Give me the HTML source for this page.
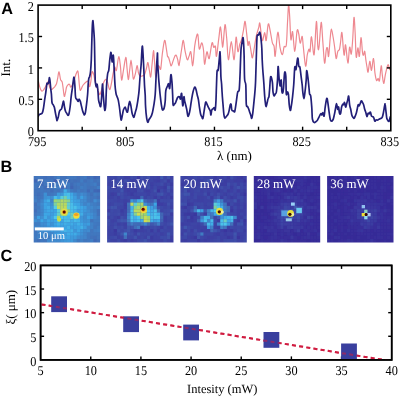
<!DOCTYPE html>
<html><head><meta charset="utf-8"><style>
html,body{margin:0;padding:0;background:#fff;}
svg{display:block;filter:blur(0.3px);}
text{text-rendering:geometricPrecision;}
</style></head><body>
<svg width="400" height="397" viewBox="0 0 400 397">
<clipPath id="clipA"><rect x="38.1" y="5.1" width="352.7" height="125.6"/></clipPath>
<g clip-path="url(#clipA)">
<path d="M38.4,81.5C38.6,82.3 39.1,84.8 39.5,86.1C39.9,87.4 40.3,88.7 40.7,89.5C41.1,90.3 41.5,91.1 42.0,91.2C42.5,91.3 43.0,90.7 43.5,90.0C44.0,89.3 44.6,88.2 45.2,87.2C45.8,86.2 46.4,84.7 46.9,83.8C47.4,82.9 47.7,81.4 48.2,82.0C48.7,82.6 49.2,86.0 49.7,87.2C50.2,88.5 50.8,89.3 51.4,89.5C52.0,89.7 52.5,88.8 53.1,88.3C53.7,87.8 54.2,87.3 54.8,86.6C55.4,85.8 56.0,85.2 56.5,83.8C57.0,82.4 57.3,80.1 57.7,78.1C58.1,76.1 58.5,71.7 59.0,71.9C59.5,72.1 60.0,77.6 60.5,79.3C61.0,81.0 61.7,80.4 62.2,82.1C62.7,83.8 62.9,87.1 63.3,89.5C63.6,91.9 63.9,95.7 64.3,96.3C64.7,96.9 65.0,94.4 65.4,92.9C65.8,91.4 66.1,88.5 66.5,87.2C66.9,85.9 67.4,85.4 67.9,84.9C68.4,84.4 69.1,84.0 69.6,84.4C70.1,84.8 70.2,87.1 70.7,87.2C71.2,87.3 71.8,86.0 72.4,84.9C73.0,83.8 73.5,82.1 74.1,80.4C74.7,78.7 75.2,76.3 75.8,74.7C76.4,73.1 77.1,70.9 77.5,70.8C77.9,70.7 78.1,72.0 78.4,74.3C78.7,76.6 79.0,81.9 79.3,84.5C79.6,87.1 79.8,89.3 80.1,90.1C80.4,90.8 80.8,89.7 81.2,89.0C81.6,88.3 82.0,87.0 82.4,86.2C82.8,85.5 83.1,85.0 83.5,84.5C83.9,84.0 84.2,83.7 84.6,83.3C85.0,82.9 85.3,82.6 85.8,82.2C86.3,81.8 87.0,81.1 87.5,81.1C88.0,81.1 88.2,81.1 88.6,82.0C89.0,82.9 89.3,86.9 89.7,86.7C90.1,86.5 90.5,83.5 90.9,81.1C91.3,78.6 91.5,73.1 92.0,72.0C92.5,70.9 93.2,73.0 93.7,74.3C94.2,75.6 94.4,78.3 94.8,80.0C95.2,81.7 95.5,83.0 96.0,84.5C96.5,86.0 97.2,87.7 97.7,89.0C98.2,90.3 98.4,91.5 98.8,92.4C99.2,93.4 99.4,95.1 99.9,94.7C100.4,94.3 101.0,92.0 101.6,90.0C102.2,88.0 102.7,84.8 103.4,83.0C104.1,81.2 105.0,79.6 105.7,79.4C106.4,79.2 106.8,80.0 107.4,81.7C108.1,83.4 108.9,89.2 109.6,89.6C110.2,90.0 110.7,86.6 111.3,84.0C111.9,81.4 112.4,76.8 113.0,74.0C113.6,71.2 114.1,67.6 114.7,67.0C115.3,66.4 115.7,72.1 116.4,70.4C117.1,68.7 118.0,57.5 118.7,56.8C119.4,56.1 119.9,62.1 120.4,66.0C120.9,69.9 121.1,79.3 121.6,80.0C122.1,80.7 122.8,73.8 123.5,70.0C124.2,66.2 125.2,57.7 125.8,57.4C126.4,57.1 126.6,64.3 127.0,68.0C127.4,71.7 127.9,79.2 128.3,79.5C128.8,79.8 129.2,73.2 129.7,70.0C130.1,66.8 130.6,60.0 131.0,60.0C131.4,60.0 131.9,66.8 132.3,70.0C132.7,73.2 132.9,78.4 133.4,79.0C133.9,79.6 134.8,75.8 135.4,73.6C136.0,71.4 136.6,65.7 137.1,65.6C137.6,65.5 138.0,71.3 138.5,73.0C139.0,74.7 139.4,75.5 140.0,76.0C140.6,76.5 141.2,76.2 142.0,76.0C142.8,75.8 143.8,76.0 144.5,74.7C145.2,73.4 145.9,70.0 146.5,68.0C147.1,66.0 147.4,62.2 147.9,62.5C148.4,62.8 148.8,67.6 149.3,70.0C149.8,72.4 150.2,77.8 150.7,77.0C151.1,76.2 151.5,69.4 152.0,65.0C152.5,60.6 153.1,50.8 153.5,50.6C153.9,50.4 154.3,59.6 154.7,64.0C155.1,68.4 155.3,76.5 155.8,77.0C156.3,77.5 157.1,68.8 157.6,67.0C158.1,65.2 158.5,65.7 159.0,66.0C159.5,66.3 160.1,71.0 160.7,69.0C161.2,67.0 161.7,58.8 162.3,54.0C163.0,49.2 163.9,41.4 164.6,40.4C165.3,39.4 165.8,45.6 166.3,48.3C166.8,50.9 167.1,54.8 167.5,56.3C167.9,57.8 168.1,56.2 168.6,57.4C169.1,58.6 169.9,62.2 170.3,63.6C170.7,65.0 170.7,65.9 171.0,66.0C171.3,66.1 171.4,65.6 172.0,64.2C172.6,62.8 173.6,58.9 174.3,57.4C175.0,55.9 175.4,54.7 176.0,55.1C176.6,55.5 177.2,57.9 177.7,59.7C178.2,61.5 178.4,65.7 178.8,65.7C179.2,65.8 179.5,62.7 180.0,60.0C180.5,57.3 181.0,52.8 181.6,49.5C182.2,46.2 182.7,40.2 183.3,40.4C183.9,40.6 184.3,47.4 185.0,50.6C185.7,53.8 186.6,58.8 187.3,59.7C188.0,60.7 188.4,57.6 189.0,56.3C189.6,55.0 190.2,51.1 190.7,51.7C191.2,52.3 191.5,57.3 191.8,59.7C192.1,62.1 192.3,66.0 192.6,66.0C192.9,66.0 193.2,63.3 193.5,60.0C193.8,56.7 194.2,49.9 194.7,46.1C195.2,42.3 195.9,38.9 196.4,37.0C196.9,35.1 197.4,32.8 197.9,34.8C198.4,36.8 198.7,47.6 199.3,49.0C200.0,50.4 201.1,42.7 201.8,42.9C202.5,43.1 203.0,46.4 203.5,50.0C204.0,53.6 204.0,64.0 204.6,64.3C205.2,64.6 206.1,52.8 206.9,51.8C207.7,50.8 208.3,60.1 209.2,58.6C210.0,57.1 211.2,44.8 212.0,42.9C212.8,41.0 213.1,46.8 213.7,47.4C214.3,48.0 214.9,44.8 215.4,46.3C215.9,47.8 215.9,57.6 216.5,56.3C217.1,55.0 218.1,43.2 218.8,38.3C219.5,33.4 219.9,26.1 220.5,27.0C221.1,27.9 221.8,40.9 222.2,44.0C222.6,47.1 222.5,48.7 223.0,45.5C223.5,42.3 224.4,25.9 225.0,24.7C225.6,23.5 226.1,32.5 226.7,38.3C227.3,44.1 227.6,59.1 228.4,59.7C229.2,60.3 230.4,41.7 231.3,41.7C232.2,41.7 233.3,60.5 234.1,59.7C234.9,59.0 235.5,38.6 236.1,37.2C236.7,35.9 237.3,50.5 237.9,51.6C238.5,52.7 239.2,45.9 239.8,44.0C240.4,42.1 240.9,42.3 241.5,40.0C242.1,37.7 242.9,33.1 243.5,30.0C244.1,26.9 244.6,20.7 245.1,21.3C245.6,21.9 246.2,29.9 246.7,33.9C247.2,37.9 247.6,44.0 248.0,45.3C248.4,46.6 248.7,40.5 249.2,41.5C249.7,42.5 250.6,48.9 251.1,51.6C251.6,54.3 251.9,58.5 252.4,57.9C252.9,57.3 253.7,51.4 254.3,47.8C254.9,44.2 255.5,39.8 256.2,36.4C256.9,33.0 258.1,29.7 258.7,27.6C259.3,25.5 259.3,21.4 259.9,23.6C260.5,25.8 261.4,39.1 262.2,40.6C263.0,42.1 264.0,32.7 264.7,32.7C265.4,32.7 265.6,42.0 266.2,40.6C266.8,39.2 267.5,25.9 268.2,24.2C268.9,22.5 269.4,27.3 270.1,30.4C270.8,33.5 271.7,40.2 272.4,42.9C273.1,45.5 273.6,44.1 274.1,46.3C274.6,48.5 274.6,58.3 275.2,56.0C275.8,53.7 277.0,33.6 277.8,32.3C278.6,30.9 279.3,44.2 280.1,47.9C280.9,51.6 281.7,54.9 282.4,54.7C283.1,54.5 283.5,48.4 284.1,46.8C284.8,45.2 285.7,49.0 286.3,45.0C286.9,41.0 287.1,29.3 287.5,22.7C287.9,16.1 288.2,6.0 288.6,5.1C289.0,4.1 289.3,11.2 289.7,17.0C290.1,22.8 290.4,37.2 290.9,39.7C291.4,42.2 292.0,29.8 292.6,31.7C293.2,33.6 294.1,51.5 294.8,51.3C295.6,51.1 296.4,33.5 297.1,30.6C297.8,27.7 298.3,31.9 298.8,34.0C299.3,36.1 299.6,42.7 300.2,43.1C300.8,43.5 301.7,35.7 302.2,36.3C302.7,36.9 302.7,41.8 303.3,46.8C303.9,51.8 304.9,64.8 305.6,66.1C306.3,67.4 306.7,57.5 307.3,54.7C307.9,51.9 308.5,49.7 309.0,49.1C309.5,48.5 309.7,53.3 310.1,51.3C310.5,49.2 310.8,36.2 311.5,36.8C312.2,37.4 313.3,57.2 314.1,54.7C314.9,52.2 315.8,22.9 316.4,21.5C317.0,20.1 317.4,41.8 317.8,46.1C318.2,50.4 318.4,51.2 319.0,47.2C319.6,43.2 320.6,23.1 321.2,22.3C321.8,21.6 322.3,35.9 322.9,42.7C323.5,49.5 324.0,62.0 324.6,63.1C325.2,64.2 325.8,52.0 326.3,49.5C326.8,47.0 327.1,47.2 327.5,48.3C327.9,49.4 328.1,58.2 328.6,56.3C329.1,54.4 329.8,41.5 330.3,37.0C330.8,32.5 330.9,29.1 331.4,29.1C331.9,29.1 332.5,33.8 333.1,37.0C333.7,40.2 334.3,44.7 334.8,48.3C335.3,51.9 335.7,57.9 336.2,58.5C336.7,59.1 337.2,53.2 337.7,51.7C338.2,50.2 338.9,51.0 339.4,49.5C339.9,48.0 340.1,45.5 340.5,42.7C340.9,39.9 341.4,31.6 341.9,32.5C342.4,33.4 342.9,44.5 343.3,48.3C343.7,52.1 343.9,55.7 344.3,55.1C344.7,54.5 345.0,43.6 345.6,44.9C346.2,46.2 347.2,62.7 347.9,63.1C348.6,63.5 349.0,48.7 349.6,47.2C350.2,45.7 350.8,55.6 351.3,54.0C351.8,52.4 352.4,43.8 352.8,37.7C353.2,31.6 353.6,18.2 354.0,17.3C354.4,16.4 354.7,25.4 355.1,32.0C355.5,38.6 355.7,54.4 356.2,57.0C356.7,59.6 357.4,48.0 357.9,47.9C358.4,47.8 358.9,58.0 359.4,56.3C359.9,54.6 360.5,38.4 361.0,37.7C361.5,37.1 362.1,49.5 362.5,52.4C362.9,55.3 363.2,55.4 363.6,55.2C364.0,55.0 364.3,50.5 364.7,51.3C365.1,52.1 365.5,57.6 365.9,60.2C366.3,62.8 366.6,65.0 367.0,67.0C367.4,69.0 367.6,73.0 368.1,72.1C368.6,71.1 369.2,61.6 369.8,61.3C370.4,61.0 370.9,70.9 371.5,70.4C372.1,69.9 372.9,58.1 373.5,58.5C374.1,58.9 374.4,69.0 374.9,72.7C375.4,76.4 376.1,79.7 376.6,80.6C377.1,81.5 377.6,78.3 378.1,78.3C378.6,78.3 379.0,82.7 379.5,80.6C380.0,78.5 380.7,66.9 381.2,65.9C381.7,65.0 381.9,72.0 382.3,74.9C382.7,77.8 383.2,83.2 383.7,83.4C384.2,83.6 384.7,78.3 385.1,76.1C385.5,73.9 385.8,72.3 386.3,70.4C386.8,68.5 387.4,64.9 388.0,64.7C388.6,64.5 389.2,68.6 389.7,69.3C390.2,70.0 390.8,69.0 391.0,69.0" fill="none" stroke="#ee8890" stroke-width="1.2" stroke-linejoin="round" stroke-linecap="round"/>
<path d="M38.4,116.1C38.6,115.8 39.0,114.8 39.5,114.4C40.0,114.0 40.7,114.1 41.2,113.8C41.7,113.5 42.0,113.7 42.4,112.7C42.8,111.8 43.1,110.2 43.5,108.1C43.9,106.0 44.2,102.8 44.6,100.2C45.0,97.6 45.4,95.0 45.8,92.3C46.2,89.6 46.6,85.2 46.9,83.8C47.2,82.4 47.4,84.0 47.7,83.8C48.0,83.6 48.3,83.7 48.6,82.7C48.9,81.7 49.2,77.4 49.5,77.6C49.8,77.8 50.1,81.7 50.3,83.8C50.5,85.9 50.7,88.3 50.9,90.0C51.1,91.7 51.2,91.9 51.4,94.0C51.6,96.1 51.7,100.7 52.0,102.5C52.3,104.3 52.7,104.0 53.1,104.7C53.5,105.5 53.9,105.7 54.3,107.0C54.7,108.3 55.0,110.8 55.4,112.7C55.8,114.6 56.2,117.0 56.5,118.3C56.8,119.6 56.8,120.8 57.1,120.6C57.4,120.4 57.8,118.7 58.2,117.2C58.6,115.7 59.0,112.7 59.4,111.5C59.8,110.3 60.1,110.3 60.5,109.8C60.9,109.3 61.2,109.7 61.6,108.7C62.0,107.7 62.5,104.8 62.8,103.6C63.1,102.4 63.3,100.7 63.6,101.3C63.9,101.9 64.2,105.3 64.5,107.0C64.8,108.7 65.2,110.4 65.6,111.5C66.0,112.6 66.6,113.1 67.0,113.8C67.4,114.5 67.8,115.5 68.1,115.5C68.4,115.5 68.7,115.2 69.0,113.8C69.3,112.4 69.7,110.0 70.1,107.0C70.5,104.0 70.9,98.9 71.3,95.7C71.7,92.5 72.0,90.7 72.4,88.0C72.8,85.3 73.2,81.0 73.5,79.3C73.8,77.6 73.9,76.5 74.1,77.6C74.3,78.7 74.7,82.8 74.9,86.1C75.2,89.4 75.2,95.2 75.6,97.4C75.9,99.6 76.6,98.8 77.0,99.5C77.4,100.2 77.9,101.6 78.2,101.5C78.5,101.4 78.8,99.1 79.1,99.1C79.4,99.1 79.9,100.2 80.3,101.3C80.7,102.4 81.0,104.4 81.4,105.9C81.8,107.4 82.1,109.1 82.5,110.4C82.9,111.7 83.4,113.0 83.7,113.8C84.0,114.5 84.2,115.1 84.5,114.9C84.8,114.7 85.1,114.4 85.4,112.7C85.7,111.0 86.1,107.7 86.5,104.7C86.9,101.7 87.3,97.9 87.6,94.5C87.9,91.1 88.0,87.0 88.2,84.3C88.4,81.6 88.6,79.8 88.8,78.5C89.0,77.2 89.3,77.9 89.6,76.8C89.9,75.7 90.2,74.6 90.5,71.8C90.8,69.0 91.0,65.9 91.3,59.8C91.5,53.7 91.8,41.5 92.0,35.0C92.2,28.5 92.5,22.0 92.8,20.8C93.1,19.6 93.3,25.1 93.6,28.0C93.8,30.9 94.1,34.5 94.3,38.2C94.5,41.9 94.5,43.7 94.6,50.0C94.7,56.3 95.0,70.6 95.1,76.0C95.2,81.4 95.2,80.8 95.4,82.6C95.6,84.4 96.0,86.5 96.3,86.8C96.6,87.1 96.8,83.6 97.1,84.3C97.4,85.0 97.7,88.2 97.9,90.9C98.2,93.6 98.3,98.1 98.6,100.2C98.9,102.3 99.2,102.6 99.5,103.6C99.8,104.6 100.3,107.8 100.7,106.4C101.1,105.0 101.5,98.7 101.8,95.0C102.1,91.3 102.3,84.3 102.5,84.0C102.7,83.7 102.9,89.6 103.2,93.4C103.5,97.2 104.0,104.2 104.3,107.0C104.6,109.8 104.8,110.8 105.0,110.4C105.2,110.0 105.5,108.6 105.8,104.7C106.0,100.8 106.2,92.1 106.5,87.0C106.8,81.9 107.2,76.8 107.6,74.0C108.0,71.2 108.4,72.6 108.8,70.0C109.2,67.4 109.5,61.5 109.9,58.6C110.3,55.7 110.6,51.8 111.0,52.4C111.4,53.0 111.8,61.5 112.2,62.0C112.6,62.5 113.0,54.2 113.3,55.2C113.6,56.2 113.8,62.7 114.1,67.7C114.4,72.7 114.7,80.7 115.0,85.0C115.3,89.3 115.7,91.4 116.0,93.4C116.3,95.4 116.7,95.7 117.1,96.8C117.5,97.9 117.8,98.2 118.2,99.9C118.6,101.6 119.0,104.3 119.4,107.0C119.8,109.7 120.2,113.9 120.5,116.1C120.8,118.3 121.0,120.2 121.3,120.0C121.6,119.8 122.0,116.7 122.4,115.0C122.8,113.3 123.0,111.1 123.5,109.8C124.0,108.5 124.7,106.9 125.2,107.0C125.7,107.1 125.9,109.6 126.3,110.4C126.7,111.2 127.1,112.8 127.5,112.1C127.9,111.3 128.2,107.7 128.6,105.9C129.0,104.1 129.3,101.3 129.7,101.3C130.1,101.3 130.5,104.0 130.9,105.9C131.3,107.8 131.6,111.0 132.0,112.7C132.4,114.4 132.8,115.3 133.1,116.1C133.4,116.8 133.7,117.8 134.0,117.2C134.3,116.6 134.8,114.2 135.2,112.7C135.6,111.2 136.1,110.0 136.5,108.1C136.9,106.2 137.3,103.8 137.7,101.3C138.1,98.8 138.5,95.9 138.8,93.4C139.1,90.9 139.2,89.2 139.4,86.1C139.6,83.0 139.9,78.5 140.2,75.0C140.5,71.5 140.8,68.8 141.1,65.0C141.4,61.2 141.6,55.1 141.8,52.0C142.0,48.9 142.2,45.6 142.4,46.1C142.6,46.6 142.8,50.8 143.1,55.0C143.3,59.2 143.7,66.3 143.9,71.3C144.1,76.3 144.3,81.0 144.5,85.0C144.7,89.0 145.0,91.3 145.2,95.0C145.4,98.7 145.3,103.1 145.6,107.0C145.8,110.9 146.3,115.8 146.7,118.3C147.1,120.8 147.5,122.1 147.9,122.3C148.3,122.5 148.5,120.3 149.0,119.5C149.5,118.7 150.1,118.3 150.7,117.2C151.3,116.1 151.8,115.0 152.4,112.7C153.0,110.4 153.6,106.6 154.1,103.6C154.6,100.6 154.9,98.0 155.2,94.5C155.5,91.0 155.6,87.1 155.8,82.7C156.0,78.3 156.3,72.3 156.5,68.0C156.7,63.7 157.0,59.4 157.2,57.0C157.4,54.6 157.4,52.1 157.5,53.4C157.6,54.7 157.6,61.2 157.8,65.0C158.0,68.8 158.3,73.0 158.5,76.0C158.7,79.0 158.7,79.6 159.0,82.7C159.3,85.8 159.7,91.0 160.1,94.5C160.5,98.0 160.8,101.0 161.2,103.6C161.6,106.1 161.9,109.0 162.4,109.8C162.9,110.5 163.6,109.5 164.1,108.1C164.6,106.7 164.9,104.2 165.2,101.3C165.5,98.4 165.4,93.1 165.8,90.6C166.2,88.1 167.0,87.2 167.5,86.1C168.0,85.0 168.2,83.4 168.6,83.8C169.0,84.2 169.3,89.8 169.7,88.3C170.1,86.8 170.5,75.6 170.9,74.7C171.3,73.8 171.7,79.5 172.0,82.7C172.3,85.9 172.4,90.3 172.6,94.0C172.8,97.7 172.8,103.0 173.1,104.7C173.4,106.4 173.9,104.5 174.3,104.2C174.7,103.9 175.0,103.7 175.4,103.0C175.8,102.3 176.1,101.1 176.5,100.2C176.9,99.3 177.2,98.0 177.7,97.4C178.2,96.8 178.9,96.5 179.4,96.8C179.9,97.1 180.1,99.7 180.5,99.1C180.9,98.5 181.2,92.3 181.6,93.4C182.0,94.5 182.4,105.3 182.8,105.9C183.2,106.5 183.6,97.6 183.9,96.8C184.2,96.0 184.4,100.0 184.7,101.3C185.0,102.6 185.3,103.4 185.6,104.7C185.9,106.0 186.3,107.4 186.7,109.3C187.1,111.2 187.5,115.2 187.9,116.1C188.3,116.9 188.6,115.5 189.0,114.4C189.4,113.3 189.7,111.5 190.1,109.3C190.5,107.1 190.8,104.2 191.3,101.3C191.8,98.4 192.4,94.3 193.0,92.0C193.6,89.7 194.2,87.6 194.7,87.2C195.2,86.8 195.6,88.2 196.0,89.5C196.4,90.8 196.9,93.5 197.3,95.2C197.7,96.9 198.0,97.6 198.4,99.7C198.8,101.8 199.1,105.2 199.5,107.7C199.9,110.2 200.3,113.0 200.7,114.5C201.1,116.0 201.4,116.0 201.8,116.7C202.2,117.4 202.5,119.3 202.9,118.4C203.3,117.5 203.7,113.4 204.1,111.1C204.5,108.8 204.9,105.8 205.2,104.3C205.5,102.8 205.6,101.8 206.0,102.0C206.4,102.2 207.0,104.3 207.5,105.4C208.0,106.5 208.7,107.8 209.2,108.8C209.7,109.8 210.0,110.1 210.3,111.1C210.6,112.1 210.7,115.2 210.9,115.0C211.2,114.8 211.4,111.0 211.8,110.0C212.2,109.0 212.7,109.2 213.1,108.8C213.5,108.4 214.0,107.5 214.3,107.7C214.7,107.9 214.9,111.3 215.2,110.0C215.5,108.7 215.8,104.2 216.0,100.0C216.2,95.8 216.3,89.8 216.5,85.0C216.7,80.2 216.8,73.6 217.1,71.1C217.4,68.6 217.8,71.8 218.2,70.0C218.5,68.2 218.9,63.0 219.2,60.0C219.5,57.0 219.8,51.5 220.0,51.8C220.2,52.1 220.3,57.9 220.5,62.0C220.7,66.2 220.7,73.0 220.9,76.7C221.1,80.4 221.4,81.1 221.6,84.0C221.8,86.9 221.9,90.4 222.2,94.0C222.4,97.6 222.8,102.0 223.1,105.4C223.4,108.8 223.6,112.4 223.9,114.5C224.2,116.6 224.3,117.5 224.7,117.9C225.1,118.3 225.7,117.3 226.2,116.7C226.7,116.1 227.4,115.4 227.9,114.5C228.4,113.6 228.6,112.6 229.0,111.1C229.4,109.6 229.8,106.5 230.1,105.4C230.4,104.3 230.8,103.5 231.1,104.3C231.4,105.1 231.4,108.9 231.8,110.0C232.2,111.1 233.0,110.8 233.5,111.1C234.0,111.4 234.3,112.5 234.7,111.6C235.1,110.6 235.4,108.0 235.8,105.4C236.2,102.9 236.7,98.6 237.0,96.3C237.3,94.0 237.5,92.7 237.8,91.8C238.1,90.9 238.7,91.7 239.0,90.7C239.3,89.7 239.3,88.9 239.5,86.0C239.7,83.1 239.9,78.2 240.1,73.3C240.3,68.3 240.5,60.6 240.7,56.3C240.9,52.0 240.9,49.8 241.2,47.3C241.5,44.8 242.0,42.5 242.3,41.0C242.6,39.5 242.9,36.0 243.2,38.3C243.5,40.6 243.9,48.2 244.1,55.0C244.3,61.8 244.3,74.0 244.6,79.0C244.9,84.0 245.5,80.8 245.8,85.0C246.1,89.2 246.0,100.7 246.3,104.3C246.6,107.9 247.1,105.8 247.5,106.5C247.9,107.2 248.2,107.8 248.6,108.8C249.0,109.8 249.3,111.1 249.7,112.2C250.1,113.3 250.6,114.6 250.9,115.6C251.2,116.6 251.4,118.6 251.7,118.4C252.0,118.2 252.3,116.8 252.6,114.5C252.9,112.2 253.4,107.3 253.7,104.3C254.0,101.3 254.2,99.5 254.5,96.3C254.8,93.1 255.2,89.8 255.4,85.0C255.7,80.2 255.8,73.4 256.0,67.7C256.2,62.0 256.3,56.0 256.5,50.7C256.7,45.4 256.8,38.7 257.1,36.1C257.4,33.5 258.0,35.6 258.5,35.0C259.0,34.4 259.5,31.0 260.0,32.7C260.5,34.4 261.2,40.5 261.6,45.0C262.0,49.5 262.0,55.5 262.2,59.7C262.4,63.9 262.5,66.0 262.8,70.0C263.1,74.0 263.6,79.6 263.9,84.0C264.2,88.4 264.4,93.1 264.7,96.3C264.9,99.5 265.1,101.4 265.4,103.1C265.6,104.8 265.9,106.7 266.2,106.5C266.5,106.3 267.0,103.3 267.3,102.0C267.6,100.7 267.8,99.5 268.1,98.6C268.4,97.6 268.8,97.8 269.0,96.3C269.2,94.8 269.3,92.8 269.6,89.5C269.9,86.2 270.2,77.9 270.7,76.7C271.2,75.5 272.0,79.9 272.4,82.4C272.8,84.9 272.7,89.6 273.0,91.8C273.3,94.0 273.7,95.4 274.1,95.8C274.5,96.2 274.8,94.7 275.2,94.0C275.6,93.3 276.0,94.1 276.4,91.8C276.8,89.5 277.2,84.2 277.5,80.0C277.8,75.8 277.9,66.9 278.1,66.5C278.4,66.1 278.7,74.2 279.0,77.4C279.3,80.7 279.7,85.6 280.1,86.0C280.5,86.4 280.9,79.2 281.2,80.0C281.5,80.8 281.6,88.5 281.8,90.7C282.1,92.9 282.4,93.3 282.7,92.9C283.0,92.5 283.2,91.7 283.5,88.4C283.8,85.1 284.2,75.0 284.6,72.9C285.0,70.8 285.5,72.5 285.8,76.0C286.1,79.5 286.0,91.4 286.3,94.0C286.6,96.6 287.1,91.8 287.5,91.8C287.9,91.8 288.1,91.9 288.4,94.0C288.7,96.1 288.9,101.5 289.2,104.3C289.5,107.0 289.9,110.3 290.3,110.5C290.7,110.7 291.0,107.8 291.4,105.4C291.8,103.0 292.2,99.7 292.6,96.3C293.0,92.9 293.3,89.8 293.7,85.0C294.1,80.2 294.4,69.8 294.8,67.2C295.2,64.6 295.5,71.0 296.0,69.5C296.5,68.0 297.2,58.7 297.7,58.1C298.2,57.5 298.4,64.6 298.8,66.1C299.2,67.6 299.5,65.5 299.9,67.2C300.3,68.9 300.7,73.3 301.1,76.3C301.5,79.3 301.9,82.4 302.2,85.0C302.5,87.6 302.5,89.7 302.8,92.0C303.1,94.3 303.5,98.6 303.9,98.6C304.3,98.6 304.6,94.9 305.0,91.8C305.4,88.7 305.9,83.5 306.2,80.0C306.5,76.5 306.4,71.0 306.7,70.6C307.0,70.2 307.5,74.5 307.9,77.4C308.3,80.3 308.7,85.2 309.0,88.0C309.3,90.8 309.3,92.7 309.6,94.0C309.9,95.3 310.3,93.5 310.7,95.8C311.1,98.1 311.5,103.8 311.8,107.7C312.1,111.6 312.0,116.5 312.4,119.0C312.8,121.5 313.5,121.9 314.1,122.4C314.7,122.9 315.2,122.2 315.8,121.8C316.4,121.4 317.0,120.9 317.5,120.1C318.0,119.3 318.5,118.2 319.0,117.2C319.5,116.2 320.2,114.2 320.7,113.8C321.2,113.4 321.4,115.1 321.8,114.9C322.2,114.7 322.5,112.5 322.9,112.7C323.3,112.9 323.7,117.0 324.1,116.1C324.5,115.1 324.8,109.7 325.2,107.0C325.6,104.3 326.0,101.6 326.3,100.2C326.6,98.8 326.8,97.9 327.1,98.5C327.4,99.1 327.6,101.2 328.0,103.6C328.4,106.0 328.8,110.0 329.2,112.7C329.6,115.4 329.9,118.1 330.3,119.5C330.7,120.9 330.9,121.2 331.4,121.2C331.9,121.2 332.6,120.5 333.1,119.5C333.6,118.5 333.9,116.6 334.3,114.9C334.7,113.2 335.0,111.2 335.4,109.3C335.8,107.4 336.1,103.6 336.5,103.6C336.9,103.6 337.3,108.7 337.7,109.3C338.1,109.9 338.3,106.4 338.6,107.0C338.9,107.6 339.1,111.6 339.4,112.7C339.7,113.8 340.1,114.8 340.5,113.8C340.9,112.8 341.2,108.6 341.6,107.0C342.0,105.4 342.5,104.6 342.8,104.2C343.1,103.8 343.3,105.0 343.6,104.7C343.9,104.4 344.2,102.1 344.5,102.5C344.8,102.9 345.2,106.8 345.6,107.0C346.0,107.2 346.3,104.9 346.7,103.6C347.1,102.3 347.6,100.3 347.9,99.1C348.2,97.9 348.4,95.3 348.7,96.2C349.0,97.1 349.3,102.5 349.6,104.7C349.9,106.9 350.3,107.6 350.7,109.3C351.1,111.0 351.4,113.6 351.8,114.9C352.2,116.2 352.6,116.6 353.0,117.2C353.4,117.8 353.7,118.5 354.1,118.3C354.5,118.1 354.8,117.0 355.2,116.1C355.6,115.2 356.0,114.0 356.4,112.7C356.8,111.4 357.1,109.4 357.4,108.1C357.7,106.8 357.9,105.1 358.2,104.7C358.5,104.3 358.8,106.1 359.1,105.9C359.4,105.7 359.8,104.4 360.2,103.6C360.6,102.8 360.9,101.0 361.3,100.8C361.7,100.6 362.1,101.8 362.5,102.5C362.9,103.2 363.2,103.6 363.6,104.7C364.0,105.8 364.3,108.0 364.7,109.3C365.1,110.6 365.5,111.5 365.9,112.7C366.3,113.9 366.6,116.5 367.0,116.6C367.4,116.7 367.7,113.7 368.1,113.2C368.5,112.7 368.9,114.0 369.3,113.8C369.7,113.6 370.0,111.7 370.4,112.1C370.8,112.5 371.1,115.3 371.5,116.1C371.9,116.8 372.3,116.3 372.7,116.6C373.1,116.9 373.4,117.0 373.8,117.8C374.2,118.6 374.5,120.8 374.9,121.2C375.3,121.6 375.6,120.2 376.1,120.0C376.6,119.8 377.2,120.2 377.8,120.0C378.4,119.8 378.9,119.2 379.5,118.9C380.1,118.6 380.7,118.6 381.2,118.3C381.7,118.0 381.9,118.1 382.3,117.2C382.7,116.3 383.0,114.6 383.4,112.7C383.8,110.8 384.3,107.3 384.6,105.9C384.9,104.5 384.9,103.1 385.1,104.2C385.4,105.3 385.8,110.4 386.1,112.7C386.4,115.0 386.5,117.0 386.8,118.3C387.1,119.6 387.6,120.1 388.0,120.6C388.4,121.1 388.7,121.8 389.1,121.2C389.5,120.6 389.9,118.1 390.2,117.2C390.5,116.3 390.9,116.2 391.0,116.0" fill="none" stroke="#221f78" stroke-width="1.7" stroke-linejoin="round" stroke-linecap="round"/>
</g>
<rect x="38.1" y="5.1" width="352.7" height="125.6" fill="none" stroke="#000" stroke-width="1.6"/>
<line x1="38.1" y1="99.29999999999998" x2="42.1" y2="99.29999999999998" stroke="#000" stroke-width="1.4"/>
<line x1="390.8" y1="99.29999999999998" x2="386.8" y2="99.29999999999998" stroke="#000" stroke-width="1.4"/>
<line x1="38.1" y1="67.89999999999999" x2="42.1" y2="67.89999999999999" stroke="#000" stroke-width="1.4"/>
<line x1="390.8" y1="67.89999999999999" x2="386.8" y2="67.89999999999999" stroke="#000" stroke-width="1.4"/>
<line x1="38.1" y1="36.5" x2="42.1" y2="36.5" stroke="#000" stroke-width="1.4"/>
<line x1="390.8" y1="36.5" x2="386.8" y2="36.5" stroke="#000" stroke-width="1.4"/>
<line x1="82.1875" y1="5.1" x2="82.1875" y2="9.1" stroke="#000" stroke-width="1.4"/>
<line x1="82.1875" y1="130.7" x2="82.1875" y2="126.69999999999999" stroke="#000" stroke-width="1.4"/>
<line x1="126.275" y1="5.1" x2="126.275" y2="9.1" stroke="#000" stroke-width="1.4"/>
<line x1="126.275" y1="130.7" x2="126.275" y2="126.69999999999999" stroke="#000" stroke-width="1.4"/>
<line x1="170.36249999999998" y1="5.1" x2="170.36249999999998" y2="9.1" stroke="#000" stroke-width="1.4"/>
<line x1="170.36249999999998" y1="130.7" x2="170.36249999999998" y2="126.69999999999999" stroke="#000" stroke-width="1.4"/>
<line x1="214.45" y1="5.1" x2="214.45" y2="9.1" stroke="#000" stroke-width="1.4"/>
<line x1="214.45" y1="130.7" x2="214.45" y2="126.69999999999999" stroke="#000" stroke-width="1.4"/>
<line x1="258.5375" y1="5.1" x2="258.5375" y2="9.1" stroke="#000" stroke-width="1.4"/>
<line x1="258.5375" y1="130.7" x2="258.5375" y2="126.69999999999999" stroke="#000" stroke-width="1.4"/>
<line x1="302.625" y1="5.1" x2="302.625" y2="9.1" stroke="#000" stroke-width="1.4"/>
<line x1="302.625" y1="130.7" x2="302.625" y2="126.69999999999999" stroke="#000" stroke-width="1.4"/>
<line x1="346.71250000000003" y1="5.1" x2="346.71250000000003" y2="9.1" stroke="#000" stroke-width="1.4"/>
<line x1="346.71250000000003" y1="130.7" x2="346.71250000000003" y2="126.69999999999999" stroke="#000" stroke-width="1.4"/>
<text transform="translate(33.80,136.30) scale(0.96,1.06)" text-anchor="end" style="font-family:'Liberation Serif',serif;font-size:12.8px">0</text>
<text transform="translate(33.80,104.90) scale(0.96,1.06)" text-anchor="end" style="font-family:'Liberation Serif',serif;font-size:12.8px">0.5</text>
<text transform="translate(33.80,73.50) scale(0.96,1.06)" text-anchor="end" style="font-family:'Liberation Serif',serif;font-size:12.8px">1</text>
<text transform="translate(33.80,42.10) scale(0.96,1.06)" text-anchor="end" style="font-family:'Liberation Serif',serif;font-size:12.8px">1.5</text>
<text transform="translate(33.80,10.70) scale(0.96,1.06)" text-anchor="end" style="font-family:'Liberation Serif',serif;font-size:12.8px">2</text>
<text transform="translate(37.10,146.00) scale(0.96,1.06)" text-anchor="middle" style="font-family:'Liberation Serif',serif;font-size:12.8px">795</text>
<text transform="translate(125.28,146.00) scale(0.96,1.06)" text-anchor="middle" style="font-family:'Liberation Serif',serif;font-size:12.8px">805</text>
<text transform="translate(213.45,146.00) scale(0.96,1.06)" text-anchor="middle" style="font-family:'Liberation Serif',serif;font-size:12.8px">815</text>
<text transform="translate(301.62,146.00) scale(0.96,1.06)" text-anchor="middle" style="font-family:'Liberation Serif',serif;font-size:12.8px">825</text>
<text transform="translate(389.80,146.00) scale(0.96,1.06)" text-anchor="middle" style="font-family:'Liberation Serif',serif;font-size:12.8px">835</text>
<text x="217" y="159.5" style="font-family:'Liberation Serif',serif;font-size:13px">λ (nm)</text>
<text transform="translate(10,76.5) rotate(-90)" style="font-family:'Liberation Serif',serif;font-size:13px">Int.</text>
<text x="1.3" y="13.8" style="font-family:'Liberation Sans',sans-serif;font-weight:bold;font-size:16.3px">A</text>
<text x="0.6" y="172.2" style="font-family:'Liberation Sans',sans-serif;font-weight:bold;font-size:16.3px">B</text>
<text x="0.6" y="260.8" style="font-family:'Liberation Sans',sans-serif;font-weight:bold;font-size:16.3px">C</text>
<filter id="bl" x="0" y="0" width="1" height="1"><feGaussianBlur stdDeviation="0.75"/></filter>
<clipPath id="ci0"><rect x="33.7" y="176" width="66.4" height="66.4"/></clipPath>
<g clip-path="url(#ci0)"><g filter="url(#bl)">
<rect x="31.700000000000003" y="174" width="70.4" height="70.4" fill="#4275bd"/>
<rect x="33.70" y="176.00" width="3.37" height="3.37" fill="#4275bd"/>
<rect x="37.02" y="176.00" width="3.37" height="3.37" fill="#4277be"/>
<rect x="40.34" y="176.00" width="3.37" height="3.37" fill="#4273bb"/>
<rect x="43.66" y="176.00" width="3.37" height="3.37" fill="#426eb9"/>
<rect x="46.98" y="176.00" width="3.37" height="3.37" fill="#4272bb"/>
<rect x="50.30" y="176.00" width="3.37" height="3.37" fill="#426db8"/>
<rect x="53.62" y="176.00" width="3.37" height="3.37" fill="#4275bd"/>
<rect x="56.94" y="176.00" width="3.37" height="3.37" fill="#417dc4"/>
<rect x="60.26" y="176.00" width="3.37" height="3.37" fill="#4272ba"/>
<rect x="63.58" y="176.00" width="3.37" height="3.37" fill="#4271ba"/>
<rect x="66.90" y="176.00" width="3.37" height="3.37" fill="#4178bf"/>
<rect x="70.22" y="176.00" width="3.37" height="3.37" fill="#4177bf"/>
<rect x="73.54" y="176.00" width="3.37" height="3.37" fill="#4276bd"/>
<rect x="76.86" y="176.00" width="3.37" height="3.37" fill="#426eb9"/>
<rect x="80.18" y="176.00" width="3.37" height="3.37" fill="#4275bd"/>
<rect x="83.50" y="176.00" width="3.37" height="3.37" fill="#4179c0"/>
<rect x="86.82" y="176.00" width="3.37" height="3.37" fill="#416ab7"/>
<rect x="90.14" y="176.00" width="3.37" height="3.37" fill="#4272bb"/>
<rect x="93.46" y="176.00" width="3.37" height="3.37" fill="#4166b5"/>
<rect x="96.78" y="176.00" width="3.37" height="3.37" fill="#416bb7"/>
<rect x="33.70" y="179.32" width="3.37" height="3.37" fill="#4166b5"/>
<rect x="37.02" y="179.32" width="3.37" height="3.37" fill="#4274bc"/>
<rect x="40.34" y="179.32" width="3.37" height="3.37" fill="#416bb7"/>
<rect x="43.66" y="179.32" width="3.37" height="3.37" fill="#4277be"/>
<rect x="46.98" y="179.32" width="3.37" height="3.37" fill="#4276be"/>
<rect x="50.30" y="179.32" width="3.37" height="3.37" fill="#4274bc"/>
<rect x="53.62" y="179.32" width="3.37" height="3.37" fill="#4061b2"/>
<rect x="56.94" y="179.32" width="3.37" height="3.37" fill="#4271ba"/>
<rect x="60.26" y="179.32" width="3.37" height="3.37" fill="#4275bc"/>
<rect x="63.58" y="179.32" width="3.37" height="3.37" fill="#4276bd"/>
<rect x="66.90" y="179.32" width="3.37" height="3.37" fill="#4169b6"/>
<rect x="70.22" y="179.32" width="3.37" height="3.37" fill="#4272ba"/>
<rect x="73.54" y="179.32" width="3.37" height="3.37" fill="#426eb8"/>
<rect x="76.86" y="179.32" width="3.37" height="3.37" fill="#426fb9"/>
<rect x="80.18" y="179.32" width="3.37" height="3.37" fill="#417cc2"/>
<rect x="83.50" y="179.32" width="3.37" height="3.37" fill="#426fb9"/>
<rect x="86.82" y="179.32" width="3.37" height="3.37" fill="#4275bd"/>
<rect x="90.14" y="179.32" width="3.37" height="3.37" fill="#417ac1"/>
<rect x="93.46" y="179.32" width="3.37" height="3.37" fill="#4271ba"/>
<rect x="96.78" y="179.32" width="3.37" height="3.37" fill="#4274bc"/>
<rect x="33.70" y="182.64" width="3.37" height="3.37" fill="#4276bd"/>
<rect x="37.02" y="182.64" width="3.37" height="3.37" fill="#4275bd"/>
<rect x="40.34" y="182.64" width="3.37" height="3.37" fill="#416bb7"/>
<rect x="43.66" y="182.64" width="3.37" height="3.37" fill="#4276bd"/>
<rect x="46.98" y="182.64" width="3.37" height="3.37" fill="#417dc4"/>
<rect x="50.30" y="182.64" width="3.37" height="3.37" fill="#4169b6"/>
<rect x="53.62" y="182.64" width="3.37" height="3.37" fill="#417ac1"/>
<rect x="56.94" y="182.64" width="3.37" height="3.37" fill="#4276bd"/>
<rect x="60.26" y="182.64" width="3.37" height="3.37" fill="#4270ba"/>
<rect x="63.58" y="182.64" width="3.37" height="3.37" fill="#4081c7"/>
<rect x="66.90" y="182.64" width="3.37" height="3.37" fill="#417ac1"/>
<rect x="70.22" y="182.64" width="3.37" height="3.37" fill="#416cb8"/>
<rect x="73.54" y="182.64" width="3.37" height="3.37" fill="#4275bd"/>
<rect x="76.86" y="182.64" width="3.37" height="3.37" fill="#4179c0"/>
<rect x="80.18" y="182.64" width="3.37" height="3.37" fill="#4274bc"/>
<rect x="83.50" y="182.64" width="3.37" height="3.37" fill="#4179c0"/>
<rect x="86.82" y="182.64" width="3.37" height="3.37" fill="#4275bc"/>
<rect x="90.14" y="182.64" width="3.37" height="3.37" fill="#4179c0"/>
<rect x="93.46" y="182.64" width="3.37" height="3.37" fill="#417ec4"/>
<rect x="96.78" y="182.64" width="3.37" height="3.37" fill="#4270ba"/>
<rect x="33.70" y="185.96" width="3.37" height="3.37" fill="#4276be"/>
<rect x="37.02" y="185.96" width="3.37" height="3.37" fill="#4272ba"/>
<rect x="40.34" y="185.96" width="3.37" height="3.37" fill="#4276bd"/>
<rect x="43.66" y="185.96" width="3.37" height="3.37" fill="#416cb8"/>
<rect x="46.98" y="185.96" width="3.37" height="3.37" fill="#4271ba"/>
<rect x="50.30" y="185.96" width="3.37" height="3.37" fill="#4274bc"/>
<rect x="53.62" y="185.96" width="3.37" height="3.37" fill="#417bc1"/>
<rect x="56.94" y="185.96" width="3.37" height="3.37" fill="#417cc3"/>
<rect x="60.26" y="185.96" width="3.37" height="3.37" fill="#416bb7"/>
<rect x="63.58" y="185.96" width="3.37" height="3.37" fill="#426fb9"/>
<rect x="66.90" y="185.96" width="3.37" height="3.37" fill="#4179c0"/>
<rect x="70.22" y="185.96" width="3.37" height="3.37" fill="#4165b4"/>
<rect x="73.54" y="185.96" width="3.37" height="3.37" fill="#4272ba"/>
<rect x="76.86" y="185.96" width="3.37" height="3.37" fill="#4274bc"/>
<rect x="80.18" y="185.96" width="3.37" height="3.37" fill="#417dc3"/>
<rect x="83.50" y="185.96" width="3.37" height="3.37" fill="#4179c0"/>
<rect x="86.82" y="185.96" width="3.37" height="3.37" fill="#4273bb"/>
<rect x="90.14" y="185.96" width="3.37" height="3.37" fill="#4273bb"/>
<rect x="93.46" y="185.96" width="3.37" height="3.37" fill="#4274bb"/>
<rect x="96.78" y="185.96" width="3.37" height="3.37" fill="#417ec5"/>
<rect x="33.70" y="189.28" width="3.37" height="3.37" fill="#4272bb"/>
<rect x="37.02" y="189.28" width="3.37" height="3.37" fill="#4273bb"/>
<rect x="40.34" y="189.28" width="3.37" height="3.37" fill="#4177bf"/>
<rect x="43.66" y="189.28" width="3.37" height="3.37" fill="#4274bc"/>
<rect x="46.98" y="189.28" width="3.37" height="3.37" fill="#4274bc"/>
<rect x="50.30" y="189.28" width="3.37" height="3.37" fill="#416cb8"/>
<rect x="53.62" y="189.28" width="3.37" height="3.37" fill="#4275bd"/>
<rect x="56.94" y="189.28" width="3.37" height="3.37" fill="#4272bb"/>
<rect x="60.26" y="189.28" width="3.37" height="3.37" fill="#417cc3"/>
<rect x="63.58" y="189.28" width="3.37" height="3.37" fill="#41aee6"/>
<rect x="66.90" y="189.28" width="3.37" height="3.37" fill="#3f8bcf"/>
<rect x="70.22" y="189.28" width="3.37" height="3.37" fill="#4179c0"/>
<rect x="73.54" y="189.28" width="3.37" height="3.37" fill="#4273bb"/>
<rect x="76.86" y="189.28" width="3.37" height="3.37" fill="#417bc2"/>
<rect x="80.18" y="189.28" width="3.37" height="3.37" fill="#4275bd"/>
<rect x="83.50" y="189.28" width="3.37" height="3.37" fill="#4179c0"/>
<rect x="86.82" y="189.28" width="3.37" height="3.37" fill="#416bb7"/>
<rect x="90.14" y="189.28" width="3.37" height="3.37" fill="#4177be"/>
<rect x="93.46" y="189.28" width="3.37" height="3.37" fill="#4168b6"/>
<rect x="96.78" y="189.28" width="3.37" height="3.37" fill="#4165b4"/>
<rect x="33.70" y="192.60" width="3.37" height="3.37" fill="#4273bb"/>
<rect x="37.02" y="192.60" width="3.37" height="3.37" fill="#426eb9"/>
<rect x="40.34" y="192.60" width="3.37" height="3.37" fill="#4276be"/>
<rect x="43.66" y="192.60" width="3.37" height="3.37" fill="#3e91d4"/>
<rect x="46.98" y="192.60" width="3.37" height="3.37" fill="#4276be"/>
<rect x="50.30" y="192.60" width="3.37" height="3.37" fill="#4177bf"/>
<rect x="53.62" y="192.60" width="3.37" height="3.37" fill="#417cc3"/>
<rect x="56.94" y="192.60" width="3.37" height="3.37" fill="#3d9bdc"/>
<rect x="60.26" y="192.60" width="3.37" height="3.37" fill="#3e97d9"/>
<rect x="63.58" y="192.60" width="3.37" height="3.37" fill="#47bae8"/>
<rect x="66.90" y="192.60" width="3.37" height="3.37" fill="#49bfe9"/>
<rect x="70.22" y="192.60" width="3.37" height="3.37" fill="#3da7e5"/>
<rect x="73.54" y="192.60" width="3.37" height="3.37" fill="#3e91d4"/>
<rect x="76.86" y="192.60" width="3.37" height="3.37" fill="#4083c8"/>
<rect x="80.18" y="192.60" width="3.37" height="3.37" fill="#3f8cd0"/>
<rect x="83.50" y="192.60" width="3.37" height="3.37" fill="#4085ca"/>
<rect x="86.82" y="192.60" width="3.37" height="3.37" fill="#4179c0"/>
<rect x="90.14" y="192.60" width="3.37" height="3.37" fill="#4271ba"/>
<rect x="93.46" y="192.60" width="3.37" height="3.37" fill="#417dc3"/>
<rect x="96.78" y="192.60" width="3.37" height="3.37" fill="#4178bf"/>
<rect x="33.70" y="195.92" width="3.37" height="3.37" fill="#4178bf"/>
<rect x="37.02" y="195.92" width="3.37" height="3.37" fill="#4273bb"/>
<rect x="40.34" y="195.92" width="3.37" height="3.37" fill="#4276be"/>
<rect x="43.66" y="195.92" width="3.37" height="3.37" fill="#3e90d3"/>
<rect x="46.98" y="195.92" width="3.37" height="3.37" fill="#3e95d7"/>
<rect x="50.30" y="195.92" width="3.37" height="3.37" fill="#3f8ed1"/>
<rect x="53.62" y="195.92" width="3.37" height="3.37" fill="#49bee9"/>
<rect x="56.94" y="195.92" width="3.37" height="3.37" fill="#3ea8e5"/>
<rect x="60.26" y="195.92" width="3.37" height="3.37" fill="#59cddc"/>
<rect x="63.58" y="195.92" width="3.37" height="3.37" fill="#73d0b0"/>
<rect x="66.90" y="195.92" width="3.37" height="3.37" fill="#4cc4ea"/>
<rect x="70.22" y="195.92" width="3.37" height="3.37" fill="#41afe6"/>
<rect x="73.54" y="195.92" width="3.37" height="3.37" fill="#3d9dde"/>
<rect x="76.86" y="195.92" width="3.37" height="3.37" fill="#4086cb"/>
<rect x="80.18" y="195.92" width="3.37" height="3.37" fill="#3d9fe0"/>
<rect x="83.50" y="195.92" width="3.37" height="3.37" fill="#3f8cd0"/>
<rect x="86.82" y="195.92" width="3.37" height="3.37" fill="#417bc1"/>
<rect x="90.14" y="195.92" width="3.37" height="3.37" fill="#4275bd"/>
<rect x="93.46" y="195.92" width="3.37" height="3.37" fill="#4276be"/>
<rect x="96.78" y="195.92" width="3.37" height="3.37" fill="#4270ba"/>
<rect x="33.70" y="199.24" width="3.37" height="3.37" fill="#417ec4"/>
<rect x="37.02" y="199.24" width="3.37" height="3.37" fill="#4274bc"/>
<rect x="40.34" y="199.24" width="3.37" height="3.37" fill="#4083c8"/>
<rect x="43.66" y="199.24" width="3.37" height="3.37" fill="#3d9fe0"/>
<rect x="46.98" y="199.24" width="3.37" height="3.37" fill="#41aee6"/>
<rect x="50.30" y="199.24" width="3.37" height="3.37" fill="#4084c9"/>
<rect x="53.62" y="199.24" width="3.37" height="3.37" fill="#9bd573"/>
<rect x="56.94" y="199.24" width="3.37" height="3.37" fill="#8cd386"/>
<rect x="60.26" y="199.24" width="3.37" height="3.37" fill="#b1d865"/>
<rect x="63.58" y="199.24" width="3.37" height="3.37" fill="#a5d66d"/>
<rect x="66.90" y="199.24" width="3.37" height="3.37" fill="#86d290"/>
<rect x="70.22" y="199.24" width="3.37" height="3.37" fill="#42b0e6"/>
<rect x="73.54" y="199.24" width="3.37" height="3.37" fill="#3ca1e1"/>
<rect x="76.86" y="199.24" width="3.37" height="3.37" fill="#3d9cdd"/>
<rect x="80.18" y="199.24" width="3.37" height="3.37" fill="#3f8dd1"/>
<rect x="83.50" y="199.24" width="3.37" height="3.37" fill="#3f8ace"/>
<rect x="86.82" y="199.24" width="3.37" height="3.37" fill="#417bc2"/>
<rect x="90.14" y="199.24" width="3.37" height="3.37" fill="#4276be"/>
<rect x="93.46" y="199.24" width="3.37" height="3.37" fill="#3f8dd1"/>
<rect x="96.78" y="199.24" width="3.37" height="3.37" fill="#417fc5"/>
<rect x="33.70" y="202.56" width="3.37" height="3.37" fill="#4270b9"/>
<rect x="37.02" y="202.56" width="3.37" height="3.37" fill="#417dc4"/>
<rect x="40.34" y="202.56" width="3.37" height="3.37" fill="#3f8cd0"/>
<rect x="43.66" y="202.56" width="3.37" height="3.37" fill="#3ca3e3"/>
<rect x="46.98" y="202.56" width="3.37" height="3.37" fill="#3d9bdc"/>
<rect x="50.30" y="202.56" width="3.37" height="3.37" fill="#3e90d3"/>
<rect x="53.62" y="202.56" width="3.37" height="3.37" fill="#7bd1a2"/>
<rect x="56.94" y="202.56" width="3.37" height="3.37" fill="#aed867"/>
<rect x="60.26" y="202.56" width="3.37" height="3.37" fill="#b5d962"/>
<rect x="63.58" y="202.56" width="3.37" height="3.37" fill="#b7d961"/>
<rect x="66.90" y="202.56" width="3.37" height="3.37" fill="#64cecb"/>
<rect x="70.22" y="202.56" width="3.37" height="3.37" fill="#49bee9"/>
<rect x="73.54" y="202.56" width="3.37" height="3.37" fill="#3ea8e5"/>
<rect x="76.86" y="202.56" width="3.37" height="3.37" fill="#3ca3e3"/>
<rect x="80.18" y="202.56" width="3.37" height="3.37" fill="#3e91d4"/>
<rect x="83.50" y="202.56" width="3.37" height="3.37" fill="#4084c9"/>
<rect x="86.82" y="202.56" width="3.37" height="3.37" fill="#3f8cd0"/>
<rect x="90.14" y="202.56" width="3.37" height="3.37" fill="#4080c6"/>
<rect x="93.46" y="202.56" width="3.37" height="3.37" fill="#417dc3"/>
<rect x="96.78" y="202.56" width="3.37" height="3.37" fill="#4277be"/>
<rect x="33.70" y="205.88" width="3.37" height="3.37" fill="#4274bc"/>
<rect x="37.02" y="205.88" width="3.37" height="3.37" fill="#4178bf"/>
<rect x="40.34" y="205.88" width="3.37" height="3.37" fill="#4087cc"/>
<rect x="43.66" y="205.88" width="3.37" height="3.37" fill="#3ca2e2"/>
<rect x="46.98" y="205.88" width="3.37" height="3.37" fill="#3faae5"/>
<rect x="50.30" y="205.88" width="3.37" height="3.37" fill="#3d98da"/>
<rect x="53.62" y="205.88" width="3.37" height="3.37" fill="#55cde3"/>
<rect x="56.94" y="205.88" width="3.37" height="3.37" fill="#beda5c"/>
<rect x="60.26" y="205.88" width="3.37" height="3.37" fill="#bad95e"/>
<rect x="63.58" y="205.88" width="3.37" height="3.37" fill="#bfda5b"/>
<rect x="66.90" y="205.88" width="3.37" height="3.37" fill="#5dced6"/>
<rect x="70.22" y="205.88" width="3.37" height="3.37" fill="#4ac0ea"/>
<rect x="73.54" y="205.88" width="3.37" height="3.37" fill="#4ac0ea"/>
<rect x="76.86" y="205.88" width="3.37" height="3.37" fill="#3faae5"/>
<rect x="80.18" y="205.88" width="3.37" height="3.37" fill="#3da7e5"/>
<rect x="83.50" y="205.88" width="3.37" height="3.37" fill="#3d9dde"/>
<rect x="86.82" y="205.88" width="3.37" height="3.37" fill="#3f88cd"/>
<rect x="90.14" y="205.88" width="3.37" height="3.37" fill="#3f89cd"/>
<rect x="93.46" y="205.88" width="3.37" height="3.37" fill="#4081c6"/>
<rect x="96.78" y="205.88" width="3.37" height="3.37" fill="#4084ca"/>
<rect x="33.70" y="209.20" width="3.37" height="3.37" fill="#426eb9"/>
<rect x="37.02" y="209.20" width="3.37" height="3.37" fill="#417cc3"/>
<rect x="40.34" y="209.20" width="3.37" height="3.37" fill="#4086cb"/>
<rect x="43.66" y="209.20" width="3.37" height="3.37" fill="#3d9dde"/>
<rect x="46.98" y="209.20" width="3.37" height="3.37" fill="#3da7e5"/>
<rect x="50.30" y="209.20" width="3.37" height="3.37" fill="#3ca5e4"/>
<rect x="53.62" y="209.20" width="3.37" height="3.37" fill="#3ca5e4"/>
<rect x="56.94" y="209.20" width="3.37" height="3.37" fill="#5acddb"/>
<rect x="60.26" y="209.20" width="3.37" height="3.37" fill="#d1dd50"/>
<rect x="63.58" y="209.20" width="3.37" height="3.37" fill="#d3dd4e"/>
<rect x="66.90" y="209.20" width="3.37" height="3.37" fill="#8dd384"/>
<rect x="70.22" y="209.20" width="3.37" height="3.37" fill="#4ac0ea"/>
<rect x="73.54" y="209.20" width="3.37" height="3.37" fill="#44b3e7"/>
<rect x="76.86" y="209.20" width="3.37" height="3.37" fill="#3d9fe0"/>
<rect x="80.18" y="209.20" width="3.37" height="3.37" fill="#3da5e4"/>
<rect x="83.50" y="209.20" width="3.37" height="3.37" fill="#3d98da"/>
<rect x="86.82" y="209.20" width="3.37" height="3.37" fill="#3f8ed2"/>
<rect x="90.14" y="209.20" width="3.37" height="3.37" fill="#4084c9"/>
<rect x="93.46" y="209.20" width="3.37" height="3.37" fill="#417ec4"/>
<rect x="96.78" y="209.20" width="3.37" height="3.37" fill="#4271ba"/>
<rect x="33.70" y="212.52" width="3.37" height="3.37" fill="#4276be"/>
<rect x="37.02" y="212.52" width="3.37" height="3.37" fill="#417dc4"/>
<rect x="40.34" y="212.52" width="3.37" height="3.37" fill="#4086ca"/>
<rect x="43.66" y="212.52" width="3.37" height="3.37" fill="#3da7e5"/>
<rect x="46.98" y="212.52" width="3.37" height="3.37" fill="#3ca4e4"/>
<rect x="50.30" y="212.52" width="3.37" height="3.37" fill="#3d9edf"/>
<rect x="53.62" y="212.52" width="3.37" height="3.37" fill="#40ace6"/>
<rect x="56.94" y="212.52" width="3.37" height="3.37" fill="#64cec9"/>
<rect x="60.26" y="212.52" width="3.37" height="3.37" fill="#83d295"/>
<rect x="63.58" y="212.52" width="3.37" height="3.37" fill="#aad769"/>
<rect x="66.90" y="212.52" width="3.37" height="3.37" fill="#4fcaec"/>
<rect x="70.22" y="212.52" width="3.37" height="3.37" fill="#6acfc0"/>
<rect x="73.54" y="212.52" width="3.37" height="3.37" fill="#54cce6"/>
<rect x="76.86" y="212.52" width="3.37" height="3.37" fill="#44b3e7"/>
<rect x="80.18" y="212.52" width="3.37" height="3.37" fill="#41aee6"/>
<rect x="83.50" y="212.52" width="3.37" height="3.37" fill="#3f8fd3"/>
<rect x="86.82" y="212.52" width="3.37" height="3.37" fill="#3e95d7"/>
<rect x="90.14" y="212.52" width="3.37" height="3.37" fill="#3f8fd2"/>
<rect x="93.46" y="212.52" width="3.37" height="3.37" fill="#4083c9"/>
<rect x="96.78" y="212.52" width="3.37" height="3.37" fill="#4272bb"/>
<rect x="33.70" y="215.84" width="3.37" height="3.37" fill="#4081c6"/>
<rect x="37.02" y="215.84" width="3.37" height="3.37" fill="#3ca0e1"/>
<rect x="40.34" y="215.84" width="3.37" height="3.37" fill="#3f8fd2"/>
<rect x="43.66" y="215.84" width="3.37" height="3.37" fill="#40abe5"/>
<rect x="46.98" y="215.84" width="3.37" height="3.37" fill="#3e96d8"/>
<rect x="50.30" y="215.84" width="3.37" height="3.37" fill="#3ca3e3"/>
<rect x="53.62" y="215.84" width="3.37" height="3.37" fill="#4ec9eb"/>
<rect x="56.94" y="215.84" width="3.37" height="3.37" fill="#abd769"/>
<rect x="60.26" y="215.84" width="3.37" height="3.37" fill="#4dc5eb"/>
<rect x="63.58" y="215.84" width="3.37" height="3.37" fill="#49bfe9"/>
<rect x="66.90" y="215.84" width="3.37" height="3.37" fill="#46b8e8"/>
<rect x="70.22" y="215.84" width="3.37" height="3.37" fill="#6dcfbb"/>
<rect x="73.54" y="215.84" width="3.37" height="3.37" fill="#5eced5"/>
<rect x="76.86" y="215.84" width="3.37" height="3.37" fill="#43b2e7"/>
<rect x="80.18" y="215.84" width="3.37" height="3.37" fill="#3e95d7"/>
<rect x="83.50" y="215.84" width="3.37" height="3.37" fill="#3f8ace"/>
<rect x="86.82" y="215.84" width="3.37" height="3.37" fill="#3d9fe0"/>
<rect x="90.14" y="215.84" width="3.37" height="3.37" fill="#3e91d4"/>
<rect x="93.46" y="215.84" width="3.37" height="3.37" fill="#4084c9"/>
<rect x="96.78" y="215.84" width="3.37" height="3.37" fill="#417bc2"/>
<rect x="33.70" y="219.16" width="3.37" height="3.37" fill="#3e90d3"/>
<rect x="37.02" y="219.16" width="3.37" height="3.37" fill="#3f88cd"/>
<rect x="40.34" y="219.16" width="3.37" height="3.37" fill="#3da7e5"/>
<rect x="43.66" y="219.16" width="3.37" height="3.37" fill="#3e95d7"/>
<rect x="46.98" y="219.16" width="3.37" height="3.37" fill="#3da5e4"/>
<rect x="50.30" y="219.16" width="3.37" height="3.37" fill="#3d9fe0"/>
<rect x="53.62" y="219.16" width="3.37" height="3.37" fill="#3ea7e5"/>
<rect x="56.94" y="219.16" width="3.37" height="3.37" fill="#4ac1ea"/>
<rect x="60.26" y="219.16" width="3.37" height="3.37" fill="#3ca4e4"/>
<rect x="63.58" y="219.16" width="3.37" height="3.37" fill="#47bbe9"/>
<rect x="66.90" y="219.16" width="3.37" height="3.37" fill="#48bbe9"/>
<rect x="70.22" y="219.16" width="3.37" height="3.37" fill="#3fabe5"/>
<rect x="73.54" y="219.16" width="3.37" height="3.37" fill="#47bae8"/>
<rect x="76.86" y="219.16" width="3.37" height="3.37" fill="#43b2e7"/>
<rect x="80.18" y="219.16" width="3.37" height="3.37" fill="#3d99db"/>
<rect x="83.50" y="219.16" width="3.37" height="3.37" fill="#3e90d3"/>
<rect x="86.82" y="219.16" width="3.37" height="3.37" fill="#3e92d5"/>
<rect x="90.14" y="219.16" width="3.37" height="3.37" fill="#4273bb"/>
<rect x="93.46" y="219.16" width="3.37" height="3.37" fill="#417dc3"/>
<rect x="96.78" y="219.16" width="3.37" height="3.37" fill="#417bc2"/>
<rect x="33.70" y="222.48" width="3.37" height="3.37" fill="#417cc2"/>
<rect x="37.02" y="222.48" width="3.37" height="3.37" fill="#417dc3"/>
<rect x="40.34" y="222.48" width="3.37" height="3.37" fill="#3f8ed2"/>
<rect x="43.66" y="222.48" width="3.37" height="3.37" fill="#3f8ed2"/>
<rect x="46.98" y="222.48" width="3.37" height="3.37" fill="#3d9fe0"/>
<rect x="50.30" y="222.48" width="3.37" height="3.37" fill="#3e92d5"/>
<rect x="53.62" y="222.48" width="3.37" height="3.37" fill="#3ca4e4"/>
<rect x="56.94" y="222.48" width="3.37" height="3.37" fill="#43b2e7"/>
<rect x="60.26" y="222.48" width="3.37" height="3.37" fill="#3ea8e5"/>
<rect x="63.58" y="222.48" width="3.37" height="3.37" fill="#42afe6"/>
<rect x="66.90" y="222.48" width="3.37" height="3.37" fill="#3ea8e5"/>
<rect x="70.22" y="222.48" width="3.37" height="3.37" fill="#40ace6"/>
<rect x="73.54" y="222.48" width="3.37" height="3.37" fill="#3ca2e2"/>
<rect x="76.86" y="222.48" width="3.37" height="3.37" fill="#42afe6"/>
<rect x="80.18" y="222.48" width="3.37" height="3.37" fill="#3ea7e5"/>
<rect x="83.50" y="222.48" width="3.37" height="3.37" fill="#3d98da"/>
<rect x="86.82" y="222.48" width="3.37" height="3.37" fill="#3d9dde"/>
<rect x="90.14" y="222.48" width="3.37" height="3.37" fill="#4082c7"/>
<rect x="93.46" y="222.48" width="3.37" height="3.37" fill="#417ac1"/>
<rect x="96.78" y="222.48" width="3.37" height="3.37" fill="#4177bf"/>
<rect x="33.70" y="225.80" width="3.37" height="3.37" fill="#4084ca"/>
<rect x="37.02" y="225.80" width="3.37" height="3.37" fill="#4087cc"/>
<rect x="40.34" y="225.80" width="3.37" height="3.37" fill="#3f8bcf"/>
<rect x="43.66" y="225.80" width="3.37" height="3.37" fill="#3f8cd0"/>
<rect x="46.98" y="225.80" width="3.37" height="3.37" fill="#3e94d6"/>
<rect x="50.30" y="225.80" width="3.37" height="3.37" fill="#3d9ddf"/>
<rect x="53.62" y="225.80" width="3.37" height="3.37" fill="#3d9fe0"/>
<rect x="56.94" y="225.80" width="3.37" height="3.37" fill="#3ca4e4"/>
<rect x="60.26" y="225.80" width="3.37" height="3.37" fill="#3ca2e2"/>
<rect x="63.58" y="225.80" width="3.37" height="3.37" fill="#3da5e4"/>
<rect x="66.90" y="225.80" width="3.37" height="3.37" fill="#42b1e7"/>
<rect x="70.22" y="225.80" width="3.37" height="3.37" fill="#3d9dde"/>
<rect x="73.54" y="225.80" width="3.37" height="3.37" fill="#3ca2e2"/>
<rect x="76.86" y="225.80" width="3.37" height="3.37" fill="#3ca3e3"/>
<rect x="80.18" y="225.80" width="3.37" height="3.37" fill="#42b0e6"/>
<rect x="83.50" y="225.80" width="3.37" height="3.37" fill="#3d9dde"/>
<rect x="86.82" y="225.80" width="3.37" height="3.37" fill="#4086cb"/>
<rect x="90.14" y="225.80" width="3.37" height="3.37" fill="#4082c7"/>
<rect x="93.46" y="225.80" width="3.37" height="3.37" fill="#4276bd"/>
<rect x="96.78" y="225.80" width="3.37" height="3.37" fill="#417dc3"/>
<rect x="33.70" y="229.12" width="3.37" height="3.37" fill="#4276be"/>
<rect x="37.02" y="229.12" width="3.37" height="3.37" fill="#4087cc"/>
<rect x="40.34" y="229.12" width="3.37" height="3.37" fill="#3f8dd0"/>
<rect x="43.66" y="229.12" width="3.37" height="3.37" fill="#3f8ed1"/>
<rect x="46.98" y="229.12" width="3.37" height="3.37" fill="#3f8cd0"/>
<rect x="50.30" y="229.12" width="3.37" height="3.37" fill="#3d99db"/>
<rect x="53.62" y="229.12" width="3.37" height="3.37" fill="#3e98da"/>
<rect x="56.94" y="229.12" width="3.37" height="3.37" fill="#3e96d8"/>
<rect x="60.26" y="229.12" width="3.37" height="3.37" fill="#3da6e4"/>
<rect x="63.58" y="229.12" width="3.37" height="3.37" fill="#44b5e7"/>
<rect x="66.90" y="229.12" width="3.37" height="3.37" fill="#3fa9e5"/>
<rect x="70.22" y="229.12" width="3.37" height="3.37" fill="#42b0e6"/>
<rect x="73.54" y="229.12" width="3.37" height="3.37" fill="#3e95d8"/>
<rect x="76.86" y="229.12" width="3.37" height="3.37" fill="#3da6e4"/>
<rect x="80.18" y="229.12" width="3.37" height="3.37" fill="#3e94d7"/>
<rect x="83.50" y="229.12" width="3.37" height="3.37" fill="#3f89cd"/>
<rect x="86.82" y="229.12" width="3.37" height="3.37" fill="#3f8bcf"/>
<rect x="90.14" y="229.12" width="3.37" height="3.37" fill="#4276bd"/>
<rect x="93.46" y="229.12" width="3.37" height="3.37" fill="#417ec4"/>
<rect x="96.78" y="229.12" width="3.37" height="3.37" fill="#4080c6"/>
<rect x="33.70" y="232.44" width="3.37" height="3.37" fill="#4179c0"/>
<rect x="37.02" y="232.44" width="3.37" height="3.37" fill="#417fc5"/>
<rect x="40.34" y="232.44" width="3.37" height="3.37" fill="#3f8fd3"/>
<rect x="43.66" y="232.44" width="3.37" height="3.37" fill="#4082c8"/>
<rect x="46.98" y="232.44" width="3.37" height="3.37" fill="#3f88cc"/>
<rect x="50.30" y="232.44" width="3.37" height="3.37" fill="#4087cc"/>
<rect x="53.62" y="232.44" width="3.37" height="3.37" fill="#3d98da"/>
<rect x="56.94" y="232.44" width="3.37" height="3.37" fill="#3ca1e1"/>
<rect x="60.26" y="232.44" width="3.37" height="3.37" fill="#3ca2e2"/>
<rect x="63.58" y="232.44" width="3.37" height="3.37" fill="#3d9edf"/>
<rect x="66.90" y="232.44" width="3.37" height="3.37" fill="#41ade6"/>
<rect x="70.22" y="232.44" width="3.37" height="3.37" fill="#3ea8e5"/>
<rect x="73.54" y="232.44" width="3.37" height="3.37" fill="#40ace6"/>
<rect x="76.86" y="232.44" width="3.37" height="3.37" fill="#3d9bdc"/>
<rect x="80.18" y="232.44" width="3.37" height="3.37" fill="#3e91d4"/>
<rect x="83.50" y="232.44" width="3.37" height="3.37" fill="#4085ca"/>
<rect x="86.82" y="232.44" width="3.37" height="3.37" fill="#4179c0"/>
<rect x="90.14" y="232.44" width="3.37" height="3.37" fill="#4277be"/>
<rect x="93.46" y="232.44" width="3.37" height="3.37" fill="#4178bf"/>
<rect x="96.78" y="232.44" width="3.37" height="3.37" fill="#4277be"/>
<rect x="33.70" y="235.76" width="3.37" height="3.37" fill="#417ac1"/>
<rect x="37.02" y="235.76" width="3.37" height="3.37" fill="#4083c8"/>
<rect x="40.34" y="235.76" width="3.37" height="3.37" fill="#417fc5"/>
<rect x="43.66" y="235.76" width="3.37" height="3.37" fill="#4084c9"/>
<rect x="46.98" y="235.76" width="3.37" height="3.37" fill="#4179c0"/>
<rect x="50.30" y="235.76" width="3.37" height="3.37" fill="#3f8ed1"/>
<rect x="53.62" y="235.76" width="3.37" height="3.37" fill="#4084c9"/>
<rect x="56.94" y="235.76" width="3.37" height="3.37" fill="#4087cc"/>
<rect x="60.26" y="235.76" width="3.37" height="3.37" fill="#3d9dde"/>
<rect x="63.58" y="235.76" width="3.37" height="3.37" fill="#3ca0e1"/>
<rect x="66.90" y="235.76" width="3.37" height="3.37" fill="#3ca3e3"/>
<rect x="70.22" y="235.76" width="3.37" height="3.37" fill="#3d9adb"/>
<rect x="73.54" y="235.76" width="3.37" height="3.37" fill="#3d9adb"/>
<rect x="76.86" y="235.76" width="3.37" height="3.37" fill="#3f8bcf"/>
<rect x="80.18" y="235.76" width="3.37" height="3.37" fill="#4087cc"/>
<rect x="83.50" y="235.76" width="3.37" height="3.37" fill="#4085ca"/>
<rect x="86.82" y="235.76" width="3.37" height="3.37" fill="#4178c0"/>
<rect x="90.14" y="235.76" width="3.37" height="3.37" fill="#4272bb"/>
<rect x="93.46" y="235.76" width="3.37" height="3.37" fill="#426fb9"/>
<rect x="96.78" y="235.76" width="3.37" height="3.37" fill="#4277be"/>
<rect x="33.70" y="239.08" width="3.37" height="3.37" fill="#4276be"/>
<rect x="37.02" y="239.08" width="3.37" height="3.37" fill="#426fb9"/>
<rect x="40.34" y="239.08" width="3.37" height="3.37" fill="#4178bf"/>
<rect x="43.66" y="239.08" width="3.37" height="3.37" fill="#4274bc"/>
<rect x="46.98" y="239.08" width="3.37" height="3.37" fill="#3f8ace"/>
<rect x="50.30" y="239.08" width="3.37" height="3.37" fill="#3f8ace"/>
<rect x="53.62" y="239.08" width="3.37" height="3.37" fill="#3f8ace"/>
<rect x="56.94" y="239.08" width="3.37" height="3.37" fill="#3f89cd"/>
<rect x="60.26" y="239.08" width="3.37" height="3.37" fill="#3e93d6"/>
<rect x="63.58" y="239.08" width="3.37" height="3.37" fill="#3e97d9"/>
<rect x="66.90" y="239.08" width="3.37" height="3.37" fill="#3d99db"/>
<rect x="70.22" y="239.08" width="3.37" height="3.37" fill="#3d9adb"/>
<rect x="73.54" y="239.08" width="3.37" height="3.37" fill="#3f88cc"/>
<rect x="76.86" y="239.08" width="3.37" height="3.37" fill="#417ac1"/>
<rect x="80.18" y="239.08" width="3.37" height="3.37" fill="#4080c6"/>
<rect x="83.50" y="239.08" width="3.37" height="3.37" fill="#4276bd"/>
<rect x="86.82" y="239.08" width="3.37" height="3.37" fill="#4178c0"/>
<rect x="90.14" y="239.08" width="3.37" height="3.37" fill="#417dc4"/>
<rect x="93.46" y="239.08" width="3.37" height="3.37" fill="#416ab7"/>
<rect x="96.78" y="239.08" width="3.37" height="3.37" fill="#4272bb"/>
<circle cx="64.2" cy="212" r="4.0" fill="#c0d860"/>
<circle cx="64.2" cy="212" r="2.9" fill="#ece040"/>
<circle cx="64.2" cy="212" r="2.1" fill="#e8a028"/>
<circle cx="64.2" cy="212" r="1.5" fill="#5a0802"/>
<circle cx="76.4" cy="215.6" r="3.2" fill="#f0dc38"/>
<ellipse cx="76.3" cy="214.4" rx="2.4" ry="1.5" fill="#f0a028"/>
<circle cx="59.1" cy="219.6" r="2.1" fill="#c8dc48"/>
</g></g>
<text x="36.900000000000006" y="188.2" fill="#fff" style="font-family:'Liberation Serif',serif;font-size:12.9px">7 mW</text>
<clipPath id="ci1"><rect x="107.1" y="176" width="66.4" height="66.4"/></clipPath>
<g clip-path="url(#ci1)"><g filter="url(#bl)">
<rect x="105.1" y="174" width="70.4" height="70.4" fill="#3e47a7"/>
<rect x="107.10" y="176.00" width="3.37" height="3.37" fill="#3e47a7"/>
<rect x="110.42" y="176.00" width="3.37" height="3.37" fill="#3e49a8"/>
<rect x="113.74" y="176.00" width="3.37" height="3.37" fill="#3d44a5"/>
<rect x="117.06" y="176.00" width="3.37" height="3.37" fill="#3f4faa"/>
<rect x="120.38" y="176.00" width="3.37" height="3.37" fill="#3e48a7"/>
<rect x="123.70" y="176.00" width="3.37" height="3.37" fill="#3c3fa2"/>
<rect x="127.02" y="176.00" width="3.37" height="3.37" fill="#3d40a3"/>
<rect x="130.34" y="176.00" width="3.37" height="3.37" fill="#3f4da9"/>
<rect x="133.66" y="176.00" width="3.37" height="3.37" fill="#3e4aa8"/>
<rect x="136.98" y="176.00" width="3.37" height="3.37" fill="#3b3ba0"/>
<rect x="140.30" y="176.00" width="3.37" height="3.37" fill="#3f51ab"/>
<rect x="143.62" y="176.00" width="3.37" height="3.37" fill="#3e4ba8"/>
<rect x="146.94" y="176.00" width="3.37" height="3.37" fill="#3f51ab"/>
<rect x="150.26" y="176.00" width="3.37" height="3.37" fill="#3d44a5"/>
<rect x="153.58" y="176.00" width="3.37" height="3.37" fill="#3e44a5"/>
<rect x="156.90" y="176.00" width="3.37" height="3.37" fill="#3c3fa3"/>
<rect x="160.22" y="176.00" width="3.37" height="3.37" fill="#405bb0"/>
<rect x="163.54" y="176.00" width="3.37" height="3.37" fill="#3e45a5"/>
<rect x="166.86" y="176.00" width="3.37" height="3.37" fill="#3f53ac"/>
<rect x="170.18" y="176.00" width="3.37" height="3.37" fill="#3d42a4"/>
<rect x="107.10" y="179.32" width="3.37" height="3.37" fill="#3e47a7"/>
<rect x="110.42" y="179.32" width="3.37" height="3.37" fill="#3b3ca1"/>
<rect x="113.74" y="179.32" width="3.37" height="3.37" fill="#3d44a5"/>
<rect x="117.06" y="179.32" width="3.37" height="3.37" fill="#3f4eaa"/>
<rect x="120.38" y="179.32" width="3.37" height="3.37" fill="#3c3ea2"/>
<rect x="123.70" y="179.32" width="3.37" height="3.37" fill="#3f4faa"/>
<rect x="127.02" y="179.32" width="3.37" height="3.37" fill="#3e49a7"/>
<rect x="130.34" y="179.32" width="3.37" height="3.37" fill="#3c40a3"/>
<rect x="133.66" y="179.32" width="3.37" height="3.37" fill="#3d43a4"/>
<rect x="136.98" y="179.32" width="3.37" height="3.37" fill="#3d43a5"/>
<rect x="140.30" y="179.32" width="3.37" height="3.37" fill="#3e46a6"/>
<rect x="143.62" y="179.32" width="3.37" height="3.37" fill="#3d43a4"/>
<rect x="146.94" y="179.32" width="3.37" height="3.37" fill="#3d41a4"/>
<rect x="150.26" y="179.32" width="3.37" height="3.37" fill="#3e44a5"/>
<rect x="153.58" y="179.32" width="3.37" height="3.37" fill="#3c40a3"/>
<rect x="156.90" y="179.32" width="3.37" height="3.37" fill="#3c3ea2"/>
<rect x="160.22" y="179.32" width="3.37" height="3.37" fill="#3e46a6"/>
<rect x="163.54" y="179.32" width="3.37" height="3.37" fill="#3f4da9"/>
<rect x="166.86" y="179.32" width="3.37" height="3.37" fill="#3c3da1"/>
<rect x="170.18" y="179.32" width="3.37" height="3.37" fill="#3e46a6"/>
<rect x="107.10" y="182.64" width="3.37" height="3.37" fill="#3d42a4"/>
<rect x="110.42" y="182.64" width="3.37" height="3.37" fill="#3d40a3"/>
<rect x="113.74" y="182.64" width="3.37" height="3.37" fill="#3f4da9"/>
<rect x="117.06" y="182.64" width="3.37" height="3.37" fill="#3d43a4"/>
<rect x="120.38" y="182.64" width="3.37" height="3.37" fill="#3f53ac"/>
<rect x="123.70" y="182.64" width="3.37" height="3.37" fill="#3d41a4"/>
<rect x="127.02" y="182.64" width="3.37" height="3.37" fill="#3e49a8"/>
<rect x="130.34" y="182.64" width="3.37" height="3.37" fill="#3e45a5"/>
<rect x="133.66" y="182.64" width="3.37" height="3.37" fill="#3d41a4"/>
<rect x="136.98" y="182.64" width="3.37" height="3.37" fill="#3e4ba8"/>
<rect x="140.30" y="182.64" width="3.37" height="3.37" fill="#3e45a6"/>
<rect x="143.62" y="182.64" width="3.37" height="3.37" fill="#3e4ba8"/>
<rect x="146.94" y="182.64" width="3.37" height="3.37" fill="#3e46a6"/>
<rect x="150.26" y="182.64" width="3.37" height="3.37" fill="#3c3fa3"/>
<rect x="153.58" y="182.64" width="3.37" height="3.37" fill="#3e45a6"/>
<rect x="156.90" y="182.64" width="3.37" height="3.37" fill="#3e46a6"/>
<rect x="160.22" y="182.64" width="3.37" height="3.37" fill="#3f4eaa"/>
<rect x="163.54" y="182.64" width="3.37" height="3.37" fill="#3d41a3"/>
<rect x="166.86" y="182.64" width="3.37" height="3.37" fill="#3e46a6"/>
<rect x="170.18" y="182.64" width="3.37" height="3.37" fill="#3b3ca1"/>
<rect x="107.10" y="185.96" width="3.37" height="3.37" fill="#3e4ba9"/>
<rect x="110.42" y="185.96" width="3.37" height="3.37" fill="#3c40a3"/>
<rect x="113.74" y="185.96" width="3.37" height="3.37" fill="#3b3ba1"/>
<rect x="117.06" y="185.96" width="3.37" height="3.37" fill="#3e46a6"/>
<rect x="120.38" y="185.96" width="3.37" height="3.37" fill="#3f4faa"/>
<rect x="123.70" y="185.96" width="3.37" height="3.37" fill="#3c3da1"/>
<rect x="127.02" y="185.96" width="3.37" height="3.37" fill="#3c3fa3"/>
<rect x="130.34" y="185.96" width="3.37" height="3.37" fill="#3d42a4"/>
<rect x="133.66" y="185.96" width="3.37" height="3.37" fill="#3c3fa3"/>
<rect x="136.98" y="185.96" width="3.37" height="3.37" fill="#3e49a7"/>
<rect x="140.30" y="185.96" width="3.37" height="3.37" fill="#3d41a4"/>
<rect x="143.62" y="185.96" width="3.37" height="3.37" fill="#3d42a4"/>
<rect x="146.94" y="185.96" width="3.37" height="3.37" fill="#3e4ba8"/>
<rect x="150.26" y="185.96" width="3.37" height="3.37" fill="#3d41a4"/>
<rect x="153.58" y="185.96" width="3.37" height="3.37" fill="#3e4aa8"/>
<rect x="156.90" y="185.96" width="3.37" height="3.37" fill="#3d40a3"/>
<rect x="160.22" y="185.96" width="3.37" height="3.37" fill="#3c3fa2"/>
<rect x="163.54" y="185.96" width="3.37" height="3.37" fill="#3b3ba0"/>
<rect x="166.86" y="185.96" width="3.37" height="3.37" fill="#3f56ad"/>
<rect x="170.18" y="185.96" width="3.37" height="3.37" fill="#3e44a5"/>
<rect x="107.10" y="189.28" width="3.37" height="3.37" fill="#3e48a7"/>
<rect x="110.42" y="189.28" width="3.37" height="3.37" fill="#3e46a6"/>
<rect x="113.74" y="189.28" width="3.37" height="3.37" fill="#3e47a7"/>
<rect x="117.06" y="189.28" width="3.37" height="3.37" fill="#3e46a6"/>
<rect x="120.38" y="189.28" width="3.37" height="3.37" fill="#3f56ae"/>
<rect x="123.70" y="189.28" width="3.37" height="3.37" fill="#3c40a3"/>
<rect x="127.02" y="189.28" width="3.37" height="3.37" fill="#3c3da1"/>
<rect x="130.34" y="189.28" width="3.37" height="3.37" fill="#3c40a3"/>
<rect x="133.66" y="189.28" width="3.37" height="3.37" fill="#3c3ea2"/>
<rect x="136.98" y="189.28" width="3.37" height="3.37" fill="#3f4ca9"/>
<rect x="140.30" y="189.28" width="3.37" height="3.37" fill="#3f4da9"/>
<rect x="143.62" y="189.28" width="3.37" height="3.37" fill="#3d40a3"/>
<rect x="146.94" y="189.28" width="3.37" height="3.37" fill="#3c3ea2"/>
<rect x="150.26" y="189.28" width="3.37" height="3.37" fill="#3d44a5"/>
<rect x="153.58" y="189.28" width="3.37" height="3.37" fill="#3f52ab"/>
<rect x="156.90" y="189.28" width="3.37" height="3.37" fill="#3a359e"/>
<rect x="160.22" y="189.28" width="3.37" height="3.37" fill="#3e4aa8"/>
<rect x="163.54" y="189.28" width="3.37" height="3.37" fill="#3c40a3"/>
<rect x="166.86" y="189.28" width="3.37" height="3.37" fill="#3f4faa"/>
<rect x="170.18" y="189.28" width="3.37" height="3.37" fill="#3c40a3"/>
<rect x="107.10" y="192.60" width="3.37" height="3.37" fill="#3e44a5"/>
<rect x="110.42" y="192.60" width="3.37" height="3.37" fill="#3c3da1"/>
<rect x="113.74" y="192.60" width="3.37" height="3.37" fill="#3d40a3"/>
<rect x="117.06" y="192.60" width="3.37" height="3.37" fill="#3f52ab"/>
<rect x="120.38" y="192.60" width="3.37" height="3.37" fill="#3f4da9"/>
<rect x="123.70" y="192.60" width="3.37" height="3.37" fill="#3d44a5"/>
<rect x="127.02" y="192.60" width="3.37" height="3.37" fill="#3d41a3"/>
<rect x="130.34" y="192.60" width="3.37" height="3.37" fill="#3b3ba0"/>
<rect x="133.66" y="192.60" width="3.37" height="3.37" fill="#3d44a5"/>
<rect x="136.98" y="192.60" width="3.37" height="3.37" fill="#3e46a6"/>
<rect x="140.30" y="192.60" width="3.37" height="3.37" fill="#3e45a6"/>
<rect x="143.62" y="192.60" width="3.37" height="3.37" fill="#3e45a6"/>
<rect x="146.94" y="192.60" width="3.37" height="3.37" fill="#3c3fa3"/>
<rect x="150.26" y="192.60" width="3.37" height="3.37" fill="#3e46a6"/>
<rect x="153.58" y="192.60" width="3.37" height="3.37" fill="#3e46a6"/>
<rect x="156.90" y="192.60" width="3.37" height="3.37" fill="#3f51ab"/>
<rect x="160.22" y="192.60" width="3.37" height="3.37" fill="#3f56ad"/>
<rect x="163.54" y="192.60" width="3.37" height="3.37" fill="#3e45a6"/>
<rect x="166.86" y="192.60" width="3.37" height="3.37" fill="#3d41a4"/>
<rect x="170.18" y="192.60" width="3.37" height="3.37" fill="#3e46a6"/>
<rect x="107.10" y="195.92" width="3.37" height="3.37" fill="#3d42a4"/>
<rect x="110.42" y="195.92" width="3.37" height="3.37" fill="#3d42a4"/>
<rect x="113.74" y="195.92" width="3.37" height="3.37" fill="#3e46a6"/>
<rect x="117.06" y="195.92" width="3.37" height="3.37" fill="#3c40a3"/>
<rect x="120.38" y="195.92" width="3.37" height="3.37" fill="#3e4ba8"/>
<rect x="123.70" y="195.92" width="3.37" height="3.37" fill="#3e45a6"/>
<rect x="127.02" y="195.92" width="3.37" height="3.37" fill="#3e48a7"/>
<rect x="130.34" y="195.92" width="3.37" height="3.37" fill="#3e45a5"/>
<rect x="133.66" y="195.92" width="3.37" height="3.37" fill="#3d42a4"/>
<rect x="136.98" y="195.92" width="3.37" height="3.37" fill="#3d40a3"/>
<rect x="140.30" y="195.92" width="3.37" height="3.37" fill="#4166b5"/>
<rect x="143.62" y="195.92" width="3.37" height="3.37" fill="#3d43a4"/>
<rect x="146.94" y="195.92" width="3.37" height="3.37" fill="#3e48a7"/>
<rect x="150.26" y="195.92" width="3.37" height="3.37" fill="#3e46a6"/>
<rect x="153.58" y="195.92" width="3.37" height="3.37" fill="#3c3ea2"/>
<rect x="156.90" y="195.92" width="3.37" height="3.37" fill="#3e47a6"/>
<rect x="160.22" y="195.92" width="3.37" height="3.37" fill="#3c3ea2"/>
<rect x="163.54" y="195.92" width="3.37" height="3.37" fill="#3d42a4"/>
<rect x="166.86" y="195.92" width="3.37" height="3.37" fill="#3e44a5"/>
<rect x="170.18" y="195.92" width="3.37" height="3.37" fill="#3b3aa0"/>
<rect x="107.10" y="199.24" width="3.37" height="3.37" fill="#3e47a6"/>
<rect x="110.42" y="199.24" width="3.37" height="3.37" fill="#3e47a7"/>
<rect x="113.74" y="199.24" width="3.37" height="3.37" fill="#3e45a6"/>
<rect x="117.06" y="199.24" width="3.37" height="3.37" fill="#3d43a5"/>
<rect x="120.38" y="199.24" width="3.37" height="3.37" fill="#3d44a5"/>
<rect x="123.70" y="199.24" width="3.37" height="3.37" fill="#3d40a3"/>
<rect x="127.02" y="199.24" width="3.37" height="3.37" fill="#3e44a5"/>
<rect x="130.34" y="199.24" width="3.37" height="3.37" fill="#3d98da"/>
<rect x="133.66" y="199.24" width="3.37" height="3.37" fill="#4084c9"/>
<rect x="136.98" y="199.24" width="3.37" height="3.37" fill="#40abe5"/>
<rect x="140.30" y="199.24" width="3.37" height="3.37" fill="#4dc7eb"/>
<rect x="143.62" y="199.24" width="3.37" height="3.37" fill="#4169b6"/>
<rect x="146.94" y="199.24" width="3.37" height="3.37" fill="#405bb0"/>
<rect x="150.26" y="199.24" width="3.37" height="3.37" fill="#4059af"/>
<rect x="153.58" y="199.24" width="3.37" height="3.37" fill="#4272bb"/>
<rect x="156.90" y="199.24" width="3.37" height="3.37" fill="#3c3ca1"/>
<rect x="160.22" y="199.24" width="3.37" height="3.37" fill="#3e4aa8"/>
<rect x="163.54" y="199.24" width="3.37" height="3.37" fill="#3e48a7"/>
<rect x="166.86" y="199.24" width="3.37" height="3.37" fill="#3e48a7"/>
<rect x="170.18" y="199.24" width="3.37" height="3.37" fill="#3e49a8"/>
<rect x="107.10" y="202.56" width="3.37" height="3.37" fill="#3d42a4"/>
<rect x="110.42" y="202.56" width="3.37" height="3.37" fill="#3e44a5"/>
<rect x="113.74" y="202.56" width="3.37" height="3.37" fill="#3e4ba9"/>
<rect x="117.06" y="202.56" width="3.37" height="3.37" fill="#3e4aa8"/>
<rect x="120.38" y="202.56" width="3.37" height="3.37" fill="#3e48a7"/>
<rect x="123.70" y="202.56" width="3.37" height="3.37" fill="#3c3da1"/>
<rect x="127.02" y="202.56" width="3.37" height="3.37" fill="#4272ba"/>
<rect x="130.34" y="202.56" width="3.37" height="3.37" fill="#bcda5d"/>
<rect x="133.66" y="202.56" width="3.37" height="3.37" fill="#5acdda"/>
<rect x="136.98" y="202.56" width="3.37" height="3.37" fill="#89d38b"/>
<rect x="140.30" y="202.56" width="3.37" height="3.37" fill="#aad769"/>
<rect x="143.62" y="202.56" width="3.37" height="3.37" fill="#3e91d4"/>
<rect x="146.94" y="202.56" width="3.37" height="3.37" fill="#417ac1"/>
<rect x="150.26" y="202.56" width="3.37" height="3.37" fill="#4274bc"/>
<rect x="153.58" y="202.56" width="3.37" height="3.37" fill="#3da6e4"/>
<rect x="156.90" y="202.56" width="3.37" height="3.37" fill="#3c3da2"/>
<rect x="160.22" y="202.56" width="3.37" height="3.37" fill="#3c3ea2"/>
<rect x="163.54" y="202.56" width="3.37" height="3.37" fill="#3d42a4"/>
<rect x="166.86" y="202.56" width="3.37" height="3.37" fill="#3f51ab"/>
<rect x="170.18" y="202.56" width="3.37" height="3.37" fill="#3d44a5"/>
<rect x="107.10" y="205.88" width="3.37" height="3.37" fill="#3e48a7"/>
<rect x="110.42" y="205.88" width="3.37" height="3.37" fill="#3f55ad"/>
<rect x="113.74" y="205.88" width="3.37" height="3.37" fill="#3f53ac"/>
<rect x="117.06" y="205.88" width="3.37" height="3.37" fill="#3e45a6"/>
<rect x="120.38" y="205.88" width="3.37" height="3.37" fill="#3e45a5"/>
<rect x="123.70" y="205.88" width="3.37" height="3.37" fill="#3c3ea2"/>
<rect x="127.02" y="205.88" width="3.37" height="3.37" fill="#416db8"/>
<rect x="130.34" y="205.88" width="3.37" height="3.37" fill="#44b3e7"/>
<rect x="133.66" y="205.88" width="3.37" height="3.37" fill="#8ad388"/>
<rect x="136.98" y="205.88" width="3.37" height="3.37" fill="#afd866"/>
<rect x="140.30" y="205.88" width="3.37" height="3.37" fill="#91d47e"/>
<rect x="143.62" y="205.88" width="3.37" height="3.37" fill="#c5db57"/>
<rect x="146.94" y="205.88" width="3.37" height="3.37" fill="#43b1e7"/>
<rect x="150.26" y="205.88" width="3.37" height="3.37" fill="#3ca0e1"/>
<rect x="153.58" y="205.88" width="3.37" height="3.37" fill="#3f8fd2"/>
<rect x="156.90" y="205.88" width="3.37" height="3.37" fill="#3f4faa"/>
<rect x="160.22" y="205.88" width="3.37" height="3.37" fill="#3e49a8"/>
<rect x="163.54" y="205.88" width="3.37" height="3.37" fill="#3e44a5"/>
<rect x="166.86" y="205.88" width="3.37" height="3.37" fill="#3e49a7"/>
<rect x="170.18" y="205.88" width="3.37" height="3.37" fill="#3c40a3"/>
<rect x="107.10" y="209.20" width="3.37" height="3.37" fill="#3c3ca1"/>
<rect x="110.42" y="209.20" width="3.37" height="3.37" fill="#3e4ba8"/>
<rect x="113.74" y="209.20" width="3.37" height="3.37" fill="#3e46a6"/>
<rect x="117.06" y="209.20" width="3.37" height="3.37" fill="#3e49a7"/>
<rect x="120.38" y="209.20" width="3.37" height="3.37" fill="#3b3ca1"/>
<rect x="123.70" y="209.20" width="3.37" height="3.37" fill="#3d44a5"/>
<rect x="127.02" y="209.20" width="3.37" height="3.37" fill="#426eb9"/>
<rect x="130.34" y="209.20" width="3.37" height="3.37" fill="#4bc1ea"/>
<rect x="133.66" y="209.20" width="3.37" height="3.37" fill="#bbda5e"/>
<rect x="136.98" y="209.20" width="3.37" height="3.37" fill="#bad95f"/>
<rect x="140.30" y="209.20" width="3.37" height="3.37" fill="#ead138"/>
<rect x="143.62" y="209.20" width="3.37" height="3.37" fill="#d4dd4e"/>
<rect x="146.94" y="209.20" width="3.37" height="3.37" fill="#4bc2ea"/>
<rect x="150.26" y="209.20" width="3.37" height="3.37" fill="#3fabe5"/>
<rect x="153.58" y="209.20" width="3.37" height="3.37" fill="#4abfe9"/>
<rect x="156.90" y="209.20" width="3.37" height="3.37" fill="#4272bb"/>
<rect x="160.22" y="209.20" width="3.37" height="3.37" fill="#3e45a6"/>
<rect x="163.54" y="209.20" width="3.37" height="3.37" fill="#3e4ba8"/>
<rect x="166.86" y="209.20" width="3.37" height="3.37" fill="#3f4ca9"/>
<rect x="170.18" y="209.20" width="3.37" height="3.37" fill="#3f54ad"/>
<rect x="107.10" y="212.52" width="3.37" height="3.37" fill="#3f50aa"/>
<rect x="110.42" y="212.52" width="3.37" height="3.37" fill="#3e49a7"/>
<rect x="113.74" y="212.52" width="3.37" height="3.37" fill="#3e49a7"/>
<rect x="117.06" y="212.52" width="3.37" height="3.37" fill="#3f4da9"/>
<rect x="120.38" y="212.52" width="3.37" height="3.37" fill="#3d43a4"/>
<rect x="123.70" y="212.52" width="3.37" height="3.37" fill="#3e46a6"/>
<rect x="127.02" y="212.52" width="3.37" height="3.37" fill="#4081c6"/>
<rect x="130.34" y="212.52" width="3.37" height="3.37" fill="#48bbe9"/>
<rect x="133.66" y="212.52" width="3.37" height="3.37" fill="#85d292"/>
<rect x="136.98" y="212.52" width="3.37" height="3.37" fill="#cedc51"/>
<rect x="140.30" y="212.52" width="3.37" height="3.37" fill="#b0d866"/>
<rect x="143.62" y="212.52" width="3.37" height="3.37" fill="#94d478"/>
<rect x="146.94" y="212.52" width="3.37" height="3.37" fill="#4dc5eb"/>
<rect x="150.26" y="212.52" width="3.37" height="3.37" fill="#43b2e7"/>
<rect x="153.58" y="212.52" width="3.37" height="3.37" fill="#4ac1ea"/>
<rect x="156.90" y="212.52" width="3.37" height="3.37" fill="#42b0e6"/>
<rect x="160.22" y="212.52" width="3.37" height="3.37" fill="#4166b5"/>
<rect x="163.54" y="212.52" width="3.37" height="3.37" fill="#3f4da9"/>
<rect x="166.86" y="212.52" width="3.37" height="3.37" fill="#3f4faa"/>
<rect x="170.18" y="212.52" width="3.37" height="3.37" fill="#3c3da1"/>
<rect x="107.10" y="215.84" width="3.37" height="3.37" fill="#3d41a3"/>
<rect x="110.42" y="215.84" width="3.37" height="3.37" fill="#3e49a7"/>
<rect x="113.74" y="215.84" width="3.37" height="3.37" fill="#3d42a4"/>
<rect x="117.06" y="215.84" width="3.37" height="3.37" fill="#3c3da1"/>
<rect x="120.38" y="215.84" width="3.37" height="3.37" fill="#3f4faa"/>
<rect x="123.70" y="215.84" width="3.37" height="3.37" fill="#3e4aa8"/>
<rect x="127.02" y="215.84" width="3.37" height="3.37" fill="#4086cb"/>
<rect x="130.34" y="215.84" width="3.37" height="3.37" fill="#4bc3ea"/>
<rect x="133.66" y="215.84" width="3.37" height="3.37" fill="#42b0e6"/>
<rect x="136.98" y="215.84" width="3.37" height="3.37" fill="#4cc4ea"/>
<rect x="140.30" y="215.84" width="3.37" height="3.37" fill="#92d47c"/>
<rect x="143.62" y="215.84" width="3.37" height="3.37" fill="#c3db58"/>
<rect x="146.94" y="215.84" width="3.37" height="3.37" fill="#a2d66e"/>
<rect x="150.26" y="215.84" width="3.37" height="3.37" fill="#48bce9"/>
<rect x="153.58" y="215.84" width="3.37" height="3.37" fill="#4bc2ea"/>
<rect x="156.90" y="215.84" width="3.37" height="3.37" fill="#49bfe9"/>
<rect x="160.22" y="215.84" width="3.37" height="3.37" fill="#416ab7"/>
<rect x="163.54" y="215.84" width="3.37" height="3.37" fill="#3d40a3"/>
<rect x="166.86" y="215.84" width="3.37" height="3.37" fill="#3e47a6"/>
<rect x="170.18" y="215.84" width="3.37" height="3.37" fill="#3d44a5"/>
<rect x="107.10" y="219.16" width="3.37" height="3.37" fill="#3f4eaa"/>
<rect x="110.42" y="219.16" width="3.37" height="3.37" fill="#3d42a4"/>
<rect x="113.74" y="219.16" width="3.37" height="3.37" fill="#3d43a5"/>
<rect x="117.06" y="219.16" width="3.37" height="3.37" fill="#3f50ab"/>
<rect x="120.38" y="219.16" width="3.37" height="3.37" fill="#4059af"/>
<rect x="123.70" y="219.16" width="3.37" height="3.37" fill="#3f57ae"/>
<rect x="127.02" y="219.16" width="3.37" height="3.37" fill="#417cc2"/>
<rect x="130.34" y="219.16" width="3.37" height="3.37" fill="#48bce9"/>
<rect x="133.66" y="219.16" width="3.37" height="3.37" fill="#40ace6"/>
<rect x="136.98" y="219.16" width="3.37" height="3.37" fill="#47bbe9"/>
<rect x="140.30" y="219.16" width="3.37" height="3.37" fill="#40ace6"/>
<rect x="143.62" y="219.16" width="3.37" height="3.37" fill="#d0dd50"/>
<rect x="146.94" y="219.16" width="3.37" height="3.37" fill="#b3d863"/>
<rect x="150.26" y="219.16" width="3.37" height="3.37" fill="#41ade6"/>
<rect x="153.58" y="219.16" width="3.37" height="3.37" fill="#3d9adc"/>
<rect x="156.90" y="219.16" width="3.37" height="3.37" fill="#3ca3e3"/>
<rect x="160.22" y="219.16" width="3.37" height="3.37" fill="#4062b3"/>
<rect x="163.54" y="219.16" width="3.37" height="3.37" fill="#3d41a4"/>
<rect x="166.86" y="219.16" width="3.37" height="3.37" fill="#3e45a6"/>
<rect x="170.18" y="219.16" width="3.37" height="3.37" fill="#3e48a7"/>
<rect x="107.10" y="222.48" width="3.37" height="3.37" fill="#3e4ba8"/>
<rect x="110.42" y="222.48" width="3.37" height="3.37" fill="#3d44a5"/>
<rect x="113.74" y="222.48" width="3.37" height="3.37" fill="#3e4aa8"/>
<rect x="117.06" y="222.48" width="3.37" height="3.37" fill="#3d41a3"/>
<rect x="120.38" y="222.48" width="3.37" height="3.37" fill="#3d44a5"/>
<rect x="123.70" y="222.48" width="3.37" height="3.37" fill="#3c40a3"/>
<rect x="127.02" y="222.48" width="3.37" height="3.37" fill="#4166b5"/>
<rect x="130.34" y="222.48" width="3.37" height="3.37" fill="#417bc2"/>
<rect x="133.66" y="222.48" width="3.37" height="3.37" fill="#416db8"/>
<rect x="136.98" y="222.48" width="3.37" height="3.37" fill="#416ab7"/>
<rect x="140.30" y="222.48" width="3.37" height="3.37" fill="#4276bd"/>
<rect x="143.62" y="222.48" width="3.37" height="3.37" fill="#3f88cc"/>
<rect x="146.94" y="222.48" width="3.37" height="3.37" fill="#416bb7"/>
<rect x="150.26" y="222.48" width="3.37" height="3.37" fill="#4059af"/>
<rect x="153.58" y="222.48" width="3.37" height="3.37" fill="#4165b4"/>
<rect x="156.90" y="222.48" width="3.37" height="3.37" fill="#417ec5"/>
<rect x="160.22" y="222.48" width="3.37" height="3.37" fill="#3f4eaa"/>
<rect x="163.54" y="222.48" width="3.37" height="3.37" fill="#3e45a6"/>
<rect x="166.86" y="222.48" width="3.37" height="3.37" fill="#3f4ca9"/>
<rect x="170.18" y="222.48" width="3.37" height="3.37" fill="#4057ae"/>
<rect x="107.10" y="225.80" width="3.37" height="3.37" fill="#3e45a5"/>
<rect x="110.42" y="225.80" width="3.37" height="3.37" fill="#3d44a5"/>
<rect x="113.74" y="225.80" width="3.37" height="3.37" fill="#3f50ab"/>
<rect x="117.06" y="225.80" width="3.37" height="3.37" fill="#3e4aa8"/>
<rect x="120.38" y="225.80" width="3.37" height="3.37" fill="#3f4ca9"/>
<rect x="123.70" y="225.80" width="3.37" height="3.37" fill="#3d43a4"/>
<rect x="127.02" y="225.80" width="3.37" height="3.37" fill="#3f56ae"/>
<rect x="130.34" y="225.80" width="3.37" height="3.37" fill="#3f54ad"/>
<rect x="133.66" y="225.80" width="3.37" height="3.37" fill="#416db8"/>
<rect x="136.98" y="225.80" width="3.37" height="3.37" fill="#417bc2"/>
<rect x="140.30" y="225.80" width="3.37" height="3.37" fill="#3b3aa0"/>
<rect x="143.62" y="225.80" width="3.37" height="3.37" fill="#3e4ba9"/>
<rect x="146.94" y="225.80" width="3.37" height="3.37" fill="#3e45a5"/>
<rect x="150.26" y="225.80" width="3.37" height="3.37" fill="#3e4aa8"/>
<rect x="153.58" y="225.80" width="3.37" height="3.37" fill="#3f4ca9"/>
<rect x="156.90" y="225.80" width="3.37" height="3.37" fill="#3d44a5"/>
<rect x="160.22" y="225.80" width="3.37" height="3.37" fill="#3b3ca1"/>
<rect x="163.54" y="225.80" width="3.37" height="3.37" fill="#3e49a7"/>
<rect x="166.86" y="225.80" width="3.37" height="3.37" fill="#3d42a4"/>
<rect x="170.18" y="225.80" width="3.37" height="3.37" fill="#3e44a5"/>
<rect x="107.10" y="229.12" width="3.37" height="3.37" fill="#3d42a4"/>
<rect x="110.42" y="229.12" width="3.37" height="3.37" fill="#3d44a5"/>
<rect x="113.74" y="229.12" width="3.37" height="3.37" fill="#3b389f"/>
<rect x="117.06" y="229.12" width="3.37" height="3.37" fill="#3f50ab"/>
<rect x="120.38" y="229.12" width="3.37" height="3.37" fill="#3e48a7"/>
<rect x="123.70" y="229.12" width="3.37" height="3.37" fill="#3f4faa"/>
<rect x="127.02" y="229.12" width="3.37" height="3.37" fill="#3f57ae"/>
<rect x="130.34" y="229.12" width="3.37" height="3.37" fill="#3e46a6"/>
<rect x="133.66" y="229.12" width="3.37" height="3.37" fill="#3b3ba1"/>
<rect x="136.98" y="229.12" width="3.37" height="3.37" fill="#3d41a3"/>
<rect x="140.30" y="229.12" width="3.37" height="3.37" fill="#3c3fa2"/>
<rect x="143.62" y="229.12" width="3.37" height="3.37" fill="#3d43a4"/>
<rect x="146.94" y="229.12" width="3.37" height="3.37" fill="#3e47a6"/>
<rect x="150.26" y="229.12" width="3.37" height="3.37" fill="#3b3aa0"/>
<rect x="153.58" y="229.12" width="3.37" height="3.37" fill="#3e49a7"/>
<rect x="156.90" y="229.12" width="3.37" height="3.37" fill="#3c3da1"/>
<rect x="160.22" y="229.12" width="3.37" height="3.37" fill="#3e49a7"/>
<rect x="163.54" y="229.12" width="3.37" height="3.37" fill="#3e45a6"/>
<rect x="166.86" y="229.12" width="3.37" height="3.37" fill="#3e44a5"/>
<rect x="170.18" y="229.12" width="3.37" height="3.37" fill="#3e46a6"/>
<rect x="107.10" y="232.44" width="3.37" height="3.37" fill="#3d43a4"/>
<rect x="110.42" y="232.44" width="3.37" height="3.37" fill="#3d42a4"/>
<rect x="113.74" y="232.44" width="3.37" height="3.37" fill="#3b3ca1"/>
<rect x="117.06" y="232.44" width="3.37" height="3.37" fill="#3e46a6"/>
<rect x="120.38" y="232.44" width="3.37" height="3.37" fill="#3f56ad"/>
<rect x="123.70" y="232.44" width="3.37" height="3.37" fill="#4087cc"/>
<rect x="127.02" y="232.44" width="3.37" height="3.37" fill="#3f51ab"/>
<rect x="130.34" y="232.44" width="3.37" height="3.37" fill="#3f4ca9"/>
<rect x="133.66" y="232.44" width="3.37" height="3.37" fill="#3d42a4"/>
<rect x="136.98" y="232.44" width="3.37" height="3.37" fill="#3f52ac"/>
<rect x="140.30" y="232.44" width="3.37" height="3.37" fill="#3e46a6"/>
<rect x="143.62" y="232.44" width="3.37" height="3.37" fill="#3e46a6"/>
<rect x="146.94" y="232.44" width="3.37" height="3.37" fill="#3e44a5"/>
<rect x="150.26" y="232.44" width="3.37" height="3.37" fill="#3e47a6"/>
<rect x="153.58" y="232.44" width="3.37" height="3.37" fill="#3d43a5"/>
<rect x="156.90" y="232.44" width="3.37" height="3.37" fill="#3e45a6"/>
<rect x="160.22" y="232.44" width="3.37" height="3.37" fill="#3c3fa3"/>
<rect x="163.54" y="232.44" width="3.37" height="3.37" fill="#3d44a5"/>
<rect x="166.86" y="232.44" width="3.37" height="3.37" fill="#4059af"/>
<rect x="170.18" y="232.44" width="3.37" height="3.37" fill="#3e46a6"/>
<rect x="107.10" y="235.76" width="3.37" height="3.37" fill="#3e45a5"/>
<rect x="110.42" y="235.76" width="3.37" height="3.37" fill="#3e4aa8"/>
<rect x="113.74" y="235.76" width="3.37" height="3.37" fill="#3f4ca9"/>
<rect x="117.06" y="235.76" width="3.37" height="3.37" fill="#3c3fa3"/>
<rect x="120.38" y="235.76" width="3.37" height="3.37" fill="#3e45a5"/>
<rect x="123.70" y="235.76" width="3.37" height="3.37" fill="#426fb9"/>
<rect x="127.02" y="235.76" width="3.37" height="3.37" fill="#3e48a7"/>
<rect x="130.34" y="235.76" width="3.37" height="3.37" fill="#3e47a6"/>
<rect x="133.66" y="235.76" width="3.37" height="3.37" fill="#3f53ac"/>
<rect x="136.98" y="235.76" width="3.37" height="3.37" fill="#3d42a4"/>
<rect x="140.30" y="235.76" width="3.37" height="3.37" fill="#3e47a6"/>
<rect x="143.62" y="235.76" width="3.37" height="3.37" fill="#3d43a4"/>
<rect x="146.94" y="235.76" width="3.37" height="3.37" fill="#3f53ac"/>
<rect x="150.26" y="235.76" width="3.37" height="3.37" fill="#3b3aa0"/>
<rect x="153.58" y="235.76" width="3.37" height="3.37" fill="#3d42a4"/>
<rect x="156.90" y="235.76" width="3.37" height="3.37" fill="#3d43a4"/>
<rect x="160.22" y="235.76" width="3.37" height="3.37" fill="#3e4ca9"/>
<rect x="163.54" y="235.76" width="3.37" height="3.37" fill="#3e4ba8"/>
<rect x="166.86" y="235.76" width="3.37" height="3.37" fill="#3f52ab"/>
<rect x="170.18" y="235.76" width="3.37" height="3.37" fill="#3c3da1"/>
<rect x="107.10" y="239.08" width="3.37" height="3.37" fill="#3f4ca9"/>
<rect x="110.42" y="239.08" width="3.37" height="3.37" fill="#3e44a5"/>
<rect x="113.74" y="239.08" width="3.37" height="3.37" fill="#3d42a4"/>
<rect x="117.06" y="239.08" width="3.37" height="3.37" fill="#3e4ba8"/>
<rect x="120.38" y="239.08" width="3.37" height="3.37" fill="#3d40a3"/>
<rect x="123.70" y="239.08" width="3.37" height="3.37" fill="#3b3aa0"/>
<rect x="127.02" y="239.08" width="3.37" height="3.37" fill="#3d44a5"/>
<rect x="130.34" y="239.08" width="3.37" height="3.37" fill="#3c3da2"/>
<rect x="133.66" y="239.08" width="3.37" height="3.37" fill="#3d42a4"/>
<rect x="136.98" y="239.08" width="3.37" height="3.37" fill="#3e49a7"/>
<rect x="140.30" y="239.08" width="3.37" height="3.37" fill="#3e49a7"/>
<rect x="143.62" y="239.08" width="3.37" height="3.37" fill="#3f53ac"/>
<rect x="146.94" y="239.08" width="3.37" height="3.37" fill="#3e45a5"/>
<rect x="150.26" y="239.08" width="3.37" height="3.37" fill="#3c3da1"/>
<rect x="153.58" y="239.08" width="3.37" height="3.37" fill="#3d41a4"/>
<rect x="156.90" y="239.08" width="3.37" height="3.37" fill="#3d40a3"/>
<rect x="160.22" y="239.08" width="3.37" height="3.37" fill="#3c3fa2"/>
<rect x="163.54" y="239.08" width="3.37" height="3.37" fill="#3e4aa8"/>
<rect x="166.86" y="239.08" width="3.37" height="3.37" fill="#3d42a4"/>
<rect x="170.18" y="239.08" width="3.37" height="3.37" fill="#3b3aa0"/>
<circle cx="143.6" cy="210.2" r="3.0" fill="#f0d838"/>
<circle cx="143.4" cy="209.6" r="2.1" fill="#e89020"/>
<circle cx="143.1" cy="209.2" r="1.5" fill="#5a0802"/>
</g></g>
<text x="110.3" y="188.2" fill="#fff" style="font-family:'Liberation Serif',serif;font-size:12.9px">14 mW</text>
<clipPath id="ci2"><rect x="180.4" y="176" width="66.4" height="66.4"/></clipPath>
<g clip-path="url(#ci2)"><g filter="url(#bl)">
<rect x="178.4" y="174" width="70.4" height="70.4" fill="#3e47a7"/>
<rect x="180.40" y="176.00" width="3.37" height="3.37" fill="#3e47a7"/>
<rect x="183.72" y="176.00" width="3.37" height="3.37" fill="#3d42a4"/>
<rect x="187.04" y="176.00" width="3.37" height="3.37" fill="#3e45a5"/>
<rect x="190.36" y="176.00" width="3.37" height="3.37" fill="#3d43a5"/>
<rect x="193.68" y="176.00" width="3.37" height="3.37" fill="#3e47a6"/>
<rect x="197.00" y="176.00" width="3.37" height="3.37" fill="#3d43a5"/>
<rect x="200.32" y="176.00" width="3.37" height="3.37" fill="#3f4ca9"/>
<rect x="203.64" y="176.00" width="3.37" height="3.37" fill="#3e45a6"/>
<rect x="206.96" y="176.00" width="3.37" height="3.37" fill="#3e45a6"/>
<rect x="210.28" y="176.00" width="3.37" height="3.37" fill="#3e45a6"/>
<rect x="213.60" y="176.00" width="3.37" height="3.37" fill="#3b3aa0"/>
<rect x="216.92" y="176.00" width="3.37" height="3.37" fill="#3d42a4"/>
<rect x="220.24" y="176.00" width="3.37" height="3.37" fill="#3d41a4"/>
<rect x="223.56" y="176.00" width="3.37" height="3.37" fill="#3e44a5"/>
<rect x="226.88" y="176.00" width="3.37" height="3.37" fill="#3b3ba0"/>
<rect x="230.20" y="176.00" width="3.37" height="3.37" fill="#3f4faa"/>
<rect x="233.52" y="176.00" width="3.37" height="3.37" fill="#3d43a5"/>
<rect x="236.84" y="176.00" width="3.37" height="3.37" fill="#3b3ca1"/>
<rect x="240.16" y="176.00" width="3.37" height="3.37" fill="#3b399f"/>
<rect x="243.48" y="176.00" width="3.37" height="3.37" fill="#3d41a4"/>
<rect x="180.40" y="179.32" width="3.37" height="3.37" fill="#3d42a4"/>
<rect x="183.72" y="179.32" width="3.37" height="3.37" fill="#3c3ea2"/>
<rect x="187.04" y="179.32" width="3.37" height="3.37" fill="#3d43a5"/>
<rect x="190.36" y="179.32" width="3.37" height="3.37" fill="#3c3fa2"/>
<rect x="193.68" y="179.32" width="3.37" height="3.37" fill="#3e46a6"/>
<rect x="197.00" y="179.32" width="3.37" height="3.37" fill="#3c3ea2"/>
<rect x="200.32" y="179.32" width="3.37" height="3.37" fill="#3d43a4"/>
<rect x="203.64" y="179.32" width="3.37" height="3.37" fill="#3e4aa8"/>
<rect x="206.96" y="179.32" width="3.37" height="3.37" fill="#4057ae"/>
<rect x="210.28" y="179.32" width="3.37" height="3.37" fill="#3c3da1"/>
<rect x="213.60" y="179.32" width="3.37" height="3.37" fill="#3d40a3"/>
<rect x="216.92" y="179.32" width="3.37" height="3.37" fill="#3c3ea2"/>
<rect x="220.24" y="179.32" width="3.37" height="3.37" fill="#3e48a7"/>
<rect x="223.56" y="179.32" width="3.37" height="3.37" fill="#3b3ca1"/>
<rect x="226.88" y="179.32" width="3.37" height="3.37" fill="#3c40a3"/>
<rect x="230.20" y="179.32" width="3.37" height="3.37" fill="#3d43a4"/>
<rect x="233.52" y="179.32" width="3.37" height="3.37" fill="#3c3da1"/>
<rect x="236.84" y="179.32" width="3.37" height="3.37" fill="#3c3da2"/>
<rect x="240.16" y="179.32" width="3.37" height="3.37" fill="#3c40a3"/>
<rect x="243.48" y="179.32" width="3.37" height="3.37" fill="#3a369e"/>
<rect x="180.40" y="182.64" width="3.37" height="3.37" fill="#3b3aa0"/>
<rect x="183.72" y="182.64" width="3.37" height="3.37" fill="#3d40a3"/>
<rect x="187.04" y="182.64" width="3.37" height="3.37" fill="#3d44a5"/>
<rect x="190.36" y="182.64" width="3.37" height="3.37" fill="#3d42a4"/>
<rect x="193.68" y="182.64" width="3.37" height="3.37" fill="#3b389f"/>
<rect x="197.00" y="182.64" width="3.37" height="3.37" fill="#3d40a3"/>
<rect x="200.32" y="182.64" width="3.37" height="3.37" fill="#3e48a7"/>
<rect x="203.64" y="182.64" width="3.37" height="3.37" fill="#3e46a6"/>
<rect x="206.96" y="182.64" width="3.37" height="3.37" fill="#3d42a4"/>
<rect x="210.28" y="182.64" width="3.37" height="3.37" fill="#3c3da2"/>
<rect x="213.60" y="182.64" width="3.37" height="3.37" fill="#3e47a6"/>
<rect x="216.92" y="182.64" width="3.37" height="3.37" fill="#3c3fa3"/>
<rect x="220.24" y="182.64" width="3.37" height="3.37" fill="#3b3ca1"/>
<rect x="223.56" y="182.64" width="3.37" height="3.37" fill="#3c3ea2"/>
<rect x="226.88" y="182.64" width="3.37" height="3.37" fill="#3f4eaa"/>
<rect x="230.20" y="182.64" width="3.37" height="3.37" fill="#3e44a5"/>
<rect x="233.52" y="182.64" width="3.37" height="3.37" fill="#3e4ba8"/>
<rect x="236.84" y="182.64" width="3.37" height="3.37" fill="#3c40a3"/>
<rect x="240.16" y="182.64" width="3.37" height="3.37" fill="#3e49a8"/>
<rect x="243.48" y="182.64" width="3.37" height="3.37" fill="#3c3fa3"/>
<rect x="180.40" y="185.96" width="3.37" height="3.37" fill="#3d42a4"/>
<rect x="183.72" y="185.96" width="3.37" height="3.37" fill="#3f56ae"/>
<rect x="187.04" y="185.96" width="3.37" height="3.37" fill="#3e48a7"/>
<rect x="190.36" y="185.96" width="3.37" height="3.37" fill="#3c40a3"/>
<rect x="193.68" y="185.96" width="3.37" height="3.37" fill="#3d42a4"/>
<rect x="197.00" y="185.96" width="3.37" height="3.37" fill="#3e45a5"/>
<rect x="200.32" y="185.96" width="3.37" height="3.37" fill="#3f4ca9"/>
<rect x="203.64" y="185.96" width="3.37" height="3.37" fill="#3c40a3"/>
<rect x="206.96" y="185.96" width="3.37" height="3.37" fill="#3b389f"/>
<rect x="210.28" y="185.96" width="3.37" height="3.37" fill="#3d41a4"/>
<rect x="213.60" y="185.96" width="3.37" height="3.37" fill="#3d43a4"/>
<rect x="216.92" y="185.96" width="3.37" height="3.37" fill="#3d43a5"/>
<rect x="220.24" y="185.96" width="3.37" height="3.37" fill="#3f4da9"/>
<rect x="223.56" y="185.96" width="3.37" height="3.37" fill="#3e45a5"/>
<rect x="226.88" y="185.96" width="3.37" height="3.37" fill="#3e48a7"/>
<rect x="230.20" y="185.96" width="3.37" height="3.37" fill="#3c3ca1"/>
<rect x="233.52" y="185.96" width="3.37" height="3.37" fill="#3e49a7"/>
<rect x="236.84" y="185.96" width="3.37" height="3.37" fill="#3f53ac"/>
<rect x="240.16" y="185.96" width="3.37" height="3.37" fill="#3e48a7"/>
<rect x="243.48" y="185.96" width="3.37" height="3.37" fill="#3e44a5"/>
<rect x="180.40" y="189.28" width="3.37" height="3.37" fill="#3d44a5"/>
<rect x="183.72" y="189.28" width="3.37" height="3.37" fill="#3f51ab"/>
<rect x="187.04" y="189.28" width="3.37" height="3.37" fill="#3c3da2"/>
<rect x="190.36" y="189.28" width="3.37" height="3.37" fill="#3d42a4"/>
<rect x="193.68" y="189.28" width="3.37" height="3.37" fill="#3e46a6"/>
<rect x="197.00" y="189.28" width="3.37" height="3.37" fill="#3e48a7"/>
<rect x="200.32" y="189.28" width="3.37" height="3.37" fill="#3d40a3"/>
<rect x="203.64" y="189.28" width="3.37" height="3.37" fill="#3e45a5"/>
<rect x="206.96" y="189.28" width="3.37" height="3.37" fill="#3d41a4"/>
<rect x="210.28" y="189.28" width="3.37" height="3.37" fill="#3d44a5"/>
<rect x="213.60" y="189.28" width="3.37" height="3.37" fill="#3d42a4"/>
<rect x="216.92" y="189.28" width="3.37" height="3.37" fill="#3b3ca1"/>
<rect x="220.24" y="189.28" width="3.37" height="3.37" fill="#3d43a4"/>
<rect x="223.56" y="189.28" width="3.37" height="3.37" fill="#3e49a7"/>
<rect x="226.88" y="189.28" width="3.37" height="3.37" fill="#3c3da1"/>
<rect x="230.20" y="189.28" width="3.37" height="3.37" fill="#3d41a4"/>
<rect x="233.52" y="189.28" width="3.37" height="3.37" fill="#3e47a7"/>
<rect x="236.84" y="189.28" width="3.37" height="3.37" fill="#3c3ca1"/>
<rect x="240.16" y="189.28" width="3.37" height="3.37" fill="#3d44a5"/>
<rect x="243.48" y="189.28" width="3.37" height="3.37" fill="#3c3ca1"/>
<rect x="180.40" y="192.60" width="3.37" height="3.37" fill="#3e4ba8"/>
<rect x="183.72" y="192.60" width="3.37" height="3.37" fill="#3f55ad"/>
<rect x="187.04" y="192.60" width="3.37" height="3.37" fill="#3f53ac"/>
<rect x="190.36" y="192.60" width="3.37" height="3.37" fill="#3d41a4"/>
<rect x="193.68" y="192.60" width="3.37" height="3.37" fill="#3e48a7"/>
<rect x="197.00" y="192.60" width="3.37" height="3.37" fill="#3d44a5"/>
<rect x="200.32" y="192.60" width="3.37" height="3.37" fill="#3d43a5"/>
<rect x="203.64" y="192.60" width="3.37" height="3.37" fill="#3f4faa"/>
<rect x="206.96" y="192.60" width="3.37" height="3.37" fill="#3b3ba0"/>
<rect x="210.28" y="192.60" width="3.37" height="3.37" fill="#3e4aa8"/>
<rect x="213.60" y="192.60" width="3.37" height="3.37" fill="#3d43a4"/>
<rect x="216.92" y="192.60" width="3.37" height="3.37" fill="#3f4da9"/>
<rect x="220.24" y="192.60" width="3.37" height="3.37" fill="#3d44a5"/>
<rect x="223.56" y="192.60" width="3.37" height="3.37" fill="#3c3fa2"/>
<rect x="226.88" y="192.60" width="3.37" height="3.37" fill="#3e44a5"/>
<rect x="230.20" y="192.60" width="3.37" height="3.37" fill="#3e48a7"/>
<rect x="233.52" y="192.60" width="3.37" height="3.37" fill="#3d43a5"/>
<rect x="236.84" y="192.60" width="3.37" height="3.37" fill="#3e46a6"/>
<rect x="240.16" y="192.60" width="3.37" height="3.37" fill="#3c40a3"/>
<rect x="243.48" y="192.60" width="3.37" height="3.37" fill="#3a369e"/>
<rect x="180.40" y="195.92" width="3.37" height="3.37" fill="#3e49a7"/>
<rect x="183.72" y="195.92" width="3.37" height="3.37" fill="#3e47a7"/>
<rect x="187.04" y="195.92" width="3.37" height="3.37" fill="#3d44a5"/>
<rect x="190.36" y="195.92" width="3.37" height="3.37" fill="#3d43a5"/>
<rect x="193.68" y="195.92" width="3.37" height="3.37" fill="#3e4aa8"/>
<rect x="197.00" y="195.92" width="3.37" height="3.37" fill="#3d40a3"/>
<rect x="200.32" y="195.92" width="3.37" height="3.37" fill="#3c3fa2"/>
<rect x="203.64" y="195.92" width="3.37" height="3.37" fill="#3d42a4"/>
<rect x="206.96" y="195.92" width="3.37" height="3.37" fill="#3e4ca9"/>
<rect x="210.28" y="195.92" width="3.37" height="3.37" fill="#3b3aa0"/>
<rect x="213.60" y="195.92" width="3.37" height="3.37" fill="#3e4ca9"/>
<rect x="216.92" y="195.92" width="3.37" height="3.37" fill="#4057ae"/>
<rect x="220.24" y="195.92" width="3.37" height="3.37" fill="#3c3ca1"/>
<rect x="223.56" y="195.92" width="3.37" height="3.37" fill="#3f4ca9"/>
<rect x="226.88" y="195.92" width="3.37" height="3.37" fill="#3d42a4"/>
<rect x="230.20" y="195.92" width="3.37" height="3.37" fill="#3b3ba0"/>
<rect x="233.52" y="195.92" width="3.37" height="3.37" fill="#3d41a3"/>
<rect x="236.84" y="195.92" width="3.37" height="3.37" fill="#3e49a8"/>
<rect x="240.16" y="195.92" width="3.37" height="3.37" fill="#3e4ca9"/>
<rect x="243.48" y="195.92" width="3.37" height="3.37" fill="#3d40a3"/>
<rect x="180.40" y="199.24" width="3.37" height="3.37" fill="#3e45a6"/>
<rect x="183.72" y="199.24" width="3.37" height="3.37" fill="#3e48a7"/>
<rect x="187.04" y="199.24" width="3.37" height="3.37" fill="#3c3fa2"/>
<rect x="190.36" y="199.24" width="3.37" height="3.37" fill="#3e45a5"/>
<rect x="193.68" y="199.24" width="3.37" height="3.37" fill="#3d43a4"/>
<rect x="197.00" y="199.24" width="3.37" height="3.37" fill="#3c40a3"/>
<rect x="200.32" y="199.24" width="3.37" height="3.37" fill="#3c40a3"/>
<rect x="203.64" y="199.24" width="3.37" height="3.37" fill="#3d43a5"/>
<rect x="206.96" y="199.24" width="3.37" height="3.37" fill="#3d43a4"/>
<rect x="210.28" y="199.24" width="3.37" height="3.37" fill="#3c3fa3"/>
<rect x="213.60" y="199.24" width="3.37" height="3.37" fill="#4081c6"/>
<rect x="216.92" y="199.24" width="3.37" height="3.37" fill="#3d9fdf"/>
<rect x="220.24" y="199.24" width="3.37" height="3.37" fill="#417cc3"/>
<rect x="223.56" y="199.24" width="3.37" height="3.37" fill="#3e49a7"/>
<rect x="226.88" y="199.24" width="3.37" height="3.37" fill="#3f4ca9"/>
<rect x="230.20" y="199.24" width="3.37" height="3.37" fill="#3e46a6"/>
<rect x="233.52" y="199.24" width="3.37" height="3.37" fill="#3f55ad"/>
<rect x="236.84" y="199.24" width="3.37" height="3.37" fill="#3c3ea2"/>
<rect x="240.16" y="199.24" width="3.37" height="3.37" fill="#3e48a7"/>
<rect x="243.48" y="199.24" width="3.37" height="3.37" fill="#3d41a3"/>
<rect x="180.40" y="202.56" width="3.37" height="3.37" fill="#3f51ab"/>
<rect x="183.72" y="202.56" width="3.37" height="3.37" fill="#3f50ab"/>
<rect x="187.04" y="202.56" width="3.37" height="3.37" fill="#3a379f"/>
<rect x="190.36" y="202.56" width="3.37" height="3.37" fill="#3c3da1"/>
<rect x="193.68" y="202.56" width="3.37" height="3.37" fill="#3e47a7"/>
<rect x="197.00" y="202.56" width="3.37" height="3.37" fill="#3e48a7"/>
<rect x="200.32" y="202.56" width="3.37" height="3.37" fill="#3e48a7"/>
<rect x="203.64" y="202.56" width="3.37" height="3.37" fill="#3d42a4"/>
<rect x="206.96" y="202.56" width="3.37" height="3.37" fill="#3e46a6"/>
<rect x="210.28" y="202.56" width="3.37" height="3.37" fill="#3e47a6"/>
<rect x="213.60" y="202.56" width="3.37" height="3.37" fill="#5dced6"/>
<rect x="216.92" y="202.56" width="3.37" height="3.37" fill="#4ac0ea"/>
<rect x="220.24" y="202.56" width="3.37" height="3.37" fill="#3e96d8"/>
<rect x="223.56" y="202.56" width="3.37" height="3.37" fill="#4273bb"/>
<rect x="226.88" y="202.56" width="3.37" height="3.37" fill="#3c3da1"/>
<rect x="230.20" y="202.56" width="3.37" height="3.37" fill="#3e4aa8"/>
<rect x="233.52" y="202.56" width="3.37" height="3.37" fill="#3d41a4"/>
<rect x="236.84" y="202.56" width="3.37" height="3.37" fill="#3c3da2"/>
<rect x="240.16" y="202.56" width="3.37" height="3.37" fill="#3e45a6"/>
<rect x="243.48" y="202.56" width="3.37" height="3.37" fill="#3c3da2"/>
<rect x="180.40" y="205.88" width="3.37" height="3.37" fill="#3c3da2"/>
<rect x="183.72" y="205.88" width="3.37" height="3.37" fill="#3b39a0"/>
<rect x="187.04" y="205.88" width="3.37" height="3.37" fill="#3d43a4"/>
<rect x="190.36" y="205.88" width="3.37" height="3.37" fill="#3e46a6"/>
<rect x="193.68" y="205.88" width="3.37" height="3.37" fill="#4165b5"/>
<rect x="197.00" y="205.88" width="3.37" height="3.37" fill="#3d42a4"/>
<rect x="200.32" y="205.88" width="3.37" height="3.37" fill="#3e4aa8"/>
<rect x="203.64" y="205.88" width="3.37" height="3.37" fill="#3d43a4"/>
<rect x="206.96" y="205.88" width="3.37" height="3.37" fill="#3d42a4"/>
<rect x="210.28" y="205.88" width="3.37" height="3.37" fill="#3e46a6"/>
<rect x="213.60" y="205.88" width="3.37" height="3.37" fill="#7dd1a0"/>
<rect x="216.92" y="205.88" width="3.37" height="3.37" fill="#4fcaec"/>
<rect x="220.24" y="205.88" width="3.37" height="3.37" fill="#42b0e6"/>
<rect x="223.56" y="205.88" width="3.37" height="3.37" fill="#417ac1"/>
<rect x="226.88" y="205.88" width="3.37" height="3.37" fill="#4168b6"/>
<rect x="230.20" y="205.88" width="3.37" height="3.37" fill="#3c3da2"/>
<rect x="233.52" y="205.88" width="3.37" height="3.37" fill="#3e4aa8"/>
<rect x="236.84" y="205.88" width="3.37" height="3.37" fill="#3d40a3"/>
<rect x="240.16" y="205.88" width="3.37" height="3.37" fill="#3e46a6"/>
<rect x="243.48" y="205.88" width="3.37" height="3.37" fill="#3c3ea2"/>
<rect x="180.40" y="209.20" width="3.37" height="3.37" fill="#3e45a5"/>
<rect x="183.72" y="209.20" width="3.37" height="3.37" fill="#3e45a6"/>
<rect x="187.04" y="209.20" width="3.37" height="3.37" fill="#3d40a3"/>
<rect x="190.36" y="209.20" width="3.37" height="3.37" fill="#3f53ac"/>
<rect x="193.68" y="209.20" width="3.37" height="3.37" fill="#417dc4"/>
<rect x="197.00" y="209.20" width="3.37" height="3.37" fill="#47bae8"/>
<rect x="200.32" y="209.20" width="3.37" height="3.37" fill="#3ca2e2"/>
<rect x="203.64" y="209.20" width="3.37" height="3.37" fill="#4057ae"/>
<rect x="206.96" y="209.20" width="3.37" height="3.37" fill="#4081c7"/>
<rect x="210.28" y="209.20" width="3.37" height="3.37" fill="#44b4e7"/>
<rect x="213.60" y="209.20" width="3.37" height="3.37" fill="#51cceb"/>
<rect x="216.92" y="209.20" width="3.37" height="3.37" fill="#51cceb"/>
<rect x="220.24" y="209.20" width="3.37" height="3.37" fill="#47bae8"/>
<rect x="223.56" y="209.20" width="3.37" height="3.37" fill="#4178bf"/>
<rect x="226.88" y="209.20" width="3.37" height="3.37" fill="#416bb7"/>
<rect x="230.20" y="209.20" width="3.37" height="3.37" fill="#3a359e"/>
<rect x="233.52" y="209.20" width="3.37" height="3.37" fill="#3e45a6"/>
<rect x="236.84" y="209.20" width="3.37" height="3.37" fill="#3c3ea2"/>
<rect x="240.16" y="209.20" width="3.37" height="3.37" fill="#3c3fa2"/>
<rect x="243.48" y="209.20" width="3.37" height="3.37" fill="#3d41a4"/>
<rect x="180.40" y="212.52" width="3.37" height="3.37" fill="#3e44a5"/>
<rect x="183.72" y="212.52" width="3.37" height="3.37" fill="#3b3aa0"/>
<rect x="187.04" y="212.52" width="3.37" height="3.37" fill="#3b389f"/>
<rect x="190.36" y="212.52" width="3.37" height="3.37" fill="#3c3ca1"/>
<rect x="193.68" y="212.52" width="3.37" height="3.37" fill="#3a379e"/>
<rect x="197.00" y="212.52" width="3.37" height="3.37" fill="#4165b5"/>
<rect x="200.32" y="212.52" width="3.37" height="3.37" fill="#3f4faa"/>
<rect x="203.64" y="212.52" width="3.37" height="3.37" fill="#3c3ca1"/>
<rect x="206.96" y="212.52" width="3.37" height="3.37" fill="#417fc5"/>
<rect x="210.28" y="212.52" width="3.37" height="3.37" fill="#417bc2"/>
<rect x="213.60" y="212.52" width="3.37" height="3.37" fill="#40ace6"/>
<rect x="216.92" y="212.52" width="3.37" height="3.37" fill="#42b0e6"/>
<rect x="220.24" y="212.52" width="3.37" height="3.37" fill="#3ca4e4"/>
<rect x="223.56" y="212.52" width="3.37" height="3.37" fill="#4272bb"/>
<rect x="226.88" y="212.52" width="3.37" height="3.37" fill="#3f50ab"/>
<rect x="230.20" y="212.52" width="3.37" height="3.37" fill="#3d44a5"/>
<rect x="233.52" y="212.52" width="3.37" height="3.37" fill="#3d44a5"/>
<rect x="236.84" y="212.52" width="3.37" height="3.37" fill="#3c3da1"/>
<rect x="240.16" y="212.52" width="3.37" height="3.37" fill="#3e46a6"/>
<rect x="243.48" y="212.52" width="3.37" height="3.37" fill="#3d41a4"/>
<rect x="180.40" y="215.84" width="3.37" height="3.37" fill="#3e49a7"/>
<rect x="183.72" y="215.84" width="3.37" height="3.37" fill="#3d43a4"/>
<rect x="187.04" y="215.84" width="3.37" height="3.37" fill="#3f50ab"/>
<rect x="190.36" y="215.84" width="3.37" height="3.37" fill="#3a379e"/>
<rect x="193.68" y="215.84" width="3.37" height="3.37" fill="#3d41a4"/>
<rect x="197.00" y="215.84" width="3.37" height="3.37" fill="#3e49a7"/>
<rect x="200.32" y="215.84" width="3.37" height="3.37" fill="#4081c7"/>
<rect x="203.64" y="215.84" width="3.37" height="3.37" fill="#46b7e8"/>
<rect x="206.96" y="215.84" width="3.37" height="3.37" fill="#42b0e6"/>
<rect x="210.28" y="215.84" width="3.37" height="3.37" fill="#4273bb"/>
<rect x="213.60" y="215.84" width="3.37" height="3.37" fill="#3d44a5"/>
<rect x="216.92" y="215.84" width="3.37" height="3.37" fill="#3f56ae"/>
<rect x="220.24" y="215.84" width="3.37" height="3.37" fill="#3e93d5"/>
<rect x="223.56" y="215.84" width="3.37" height="3.37" fill="#40ace6"/>
<rect x="226.88" y="215.84" width="3.37" height="3.37" fill="#45b7e8"/>
<rect x="230.20" y="215.84" width="3.37" height="3.37" fill="#4cc3ea"/>
<rect x="233.52" y="215.84" width="3.37" height="3.37" fill="#3f89ce"/>
<rect x="236.84" y="215.84" width="3.37" height="3.37" fill="#3c3ea2"/>
<rect x="240.16" y="215.84" width="3.37" height="3.37" fill="#3c3fa2"/>
<rect x="243.48" y="215.84" width="3.37" height="3.37" fill="#3e49a7"/>
<rect x="180.40" y="219.16" width="3.37" height="3.37" fill="#3e49a7"/>
<rect x="183.72" y="219.16" width="3.37" height="3.37" fill="#3d41a3"/>
<rect x="187.04" y="219.16" width="3.37" height="3.37" fill="#3c3ca1"/>
<rect x="190.36" y="219.16" width="3.37" height="3.37" fill="#3b3aa0"/>
<rect x="193.68" y="219.16" width="3.37" height="3.37" fill="#3c3fa2"/>
<rect x="197.00" y="219.16" width="3.37" height="3.37" fill="#4060b2"/>
<rect x="200.32" y="219.16" width="3.37" height="3.37" fill="#3d9cde"/>
<rect x="203.64" y="219.16" width="3.37" height="3.37" fill="#4bc2ea"/>
<rect x="206.96" y="219.16" width="3.37" height="3.37" fill="#4086cb"/>
<rect x="210.28" y="219.16" width="3.37" height="3.37" fill="#47bbe9"/>
<rect x="213.60" y="219.16" width="3.37" height="3.37" fill="#3e4ba9"/>
<rect x="216.92" y="219.16" width="3.37" height="3.37" fill="#3b3ca1"/>
<rect x="220.24" y="219.16" width="3.37" height="3.37" fill="#4ac0ea"/>
<rect x="223.56" y="219.16" width="3.37" height="3.37" fill="#69cfc1"/>
<rect x="226.88" y="219.16" width="3.37" height="3.37" fill="#3da7e5"/>
<rect x="230.20" y="219.16" width="3.37" height="3.37" fill="#45b7e8"/>
<rect x="233.52" y="219.16" width="3.37" height="3.37" fill="#3d42a4"/>
<rect x="236.84" y="219.16" width="3.37" height="3.37" fill="#3b39a0"/>
<rect x="240.16" y="219.16" width="3.37" height="3.37" fill="#3f4eaa"/>
<rect x="243.48" y="219.16" width="3.37" height="3.37" fill="#3a349d"/>
<rect x="180.40" y="222.48" width="3.37" height="3.37" fill="#3c3ca1"/>
<rect x="183.72" y="222.48" width="3.37" height="3.37" fill="#3d41a4"/>
<rect x="187.04" y="222.48" width="3.37" height="3.37" fill="#3d41a4"/>
<rect x="190.36" y="222.48" width="3.37" height="3.37" fill="#3d44a5"/>
<rect x="193.68" y="222.48" width="3.37" height="3.37" fill="#3e44a5"/>
<rect x="197.00" y="222.48" width="3.37" height="3.37" fill="#3d42a4"/>
<rect x="200.32" y="222.48" width="3.37" height="3.37" fill="#3e4ba8"/>
<rect x="203.64" y="222.48" width="3.37" height="3.37" fill="#416cb8"/>
<rect x="206.96" y="222.48" width="3.37" height="3.37" fill="#48bbe9"/>
<rect x="210.28" y="222.48" width="3.37" height="3.37" fill="#41aee6"/>
<rect x="213.60" y="222.48" width="3.37" height="3.37" fill="#3d44a5"/>
<rect x="216.92" y="222.48" width="3.37" height="3.37" fill="#4085ca"/>
<rect x="220.24" y="222.48" width="3.37" height="3.37" fill="#4ac1ea"/>
<rect x="223.56" y="222.48" width="3.37" height="3.37" fill="#4ec9eb"/>
<rect x="226.88" y="222.48" width="3.37" height="3.37" fill="#3d9dde"/>
<rect x="230.20" y="222.48" width="3.37" height="3.37" fill="#4270ba"/>
<rect x="233.52" y="222.48" width="3.37" height="3.37" fill="#3c3fa2"/>
<rect x="236.84" y="222.48" width="3.37" height="3.37" fill="#3f53ac"/>
<rect x="240.16" y="222.48" width="3.37" height="3.37" fill="#3f55ad"/>
<rect x="243.48" y="222.48" width="3.37" height="3.37" fill="#3b3aa0"/>
<rect x="180.40" y="225.80" width="3.37" height="3.37" fill="#3e45a5"/>
<rect x="183.72" y="225.80" width="3.37" height="3.37" fill="#3f57ae"/>
<rect x="187.04" y="225.80" width="3.37" height="3.37" fill="#3e48a7"/>
<rect x="190.36" y="225.80" width="3.37" height="3.37" fill="#3e44a5"/>
<rect x="193.68" y="225.80" width="3.37" height="3.37" fill="#3d42a4"/>
<rect x="197.00" y="225.80" width="3.37" height="3.37" fill="#3c40a3"/>
<rect x="200.32" y="225.80" width="3.37" height="3.37" fill="#3d42a4"/>
<rect x="203.64" y="225.80" width="3.37" height="3.37" fill="#3c3fa3"/>
<rect x="206.96" y="225.80" width="3.37" height="3.37" fill="#3d9cde"/>
<rect x="210.28" y="225.80" width="3.37" height="3.37" fill="#4081c7"/>
<rect x="213.60" y="225.80" width="3.37" height="3.37" fill="#3d40a3"/>
<rect x="216.92" y="225.80" width="3.37" height="3.37" fill="#3b3ca1"/>
<rect x="220.24" y="225.80" width="3.37" height="3.37" fill="#4083c8"/>
<rect x="223.56" y="225.80" width="3.37" height="3.37" fill="#4276bd"/>
<rect x="226.88" y="225.80" width="3.37" height="3.37" fill="#3d42a4"/>
<rect x="230.20" y="225.80" width="3.37" height="3.37" fill="#3e4aa8"/>
<rect x="233.52" y="225.80" width="3.37" height="3.37" fill="#3e45a5"/>
<rect x="236.84" y="225.80" width="3.37" height="3.37" fill="#3e46a6"/>
<rect x="240.16" y="225.80" width="3.37" height="3.37" fill="#3e45a5"/>
<rect x="243.48" y="225.80" width="3.37" height="3.37" fill="#3d43a5"/>
<rect x="180.40" y="229.12" width="3.37" height="3.37" fill="#3d42a4"/>
<rect x="183.72" y="229.12" width="3.37" height="3.37" fill="#3d41a3"/>
<rect x="187.04" y="229.12" width="3.37" height="3.37" fill="#3e48a7"/>
<rect x="190.36" y="229.12" width="3.37" height="3.37" fill="#3c3ca1"/>
<rect x="193.68" y="229.12" width="3.37" height="3.37" fill="#3f4da9"/>
<rect x="197.00" y="229.12" width="3.37" height="3.37" fill="#3d43a5"/>
<rect x="200.32" y="229.12" width="3.37" height="3.37" fill="#3c3ea2"/>
<rect x="203.64" y="229.12" width="3.37" height="3.37" fill="#3c40a3"/>
<rect x="206.96" y="229.12" width="3.37" height="3.37" fill="#3c3fa2"/>
<rect x="210.28" y="229.12" width="3.37" height="3.37" fill="#4169b6"/>
<rect x="213.60" y="229.12" width="3.37" height="3.37" fill="#3f56ae"/>
<rect x="216.92" y="229.12" width="3.37" height="3.37" fill="#3e4ba8"/>
<rect x="220.24" y="229.12" width="3.37" height="3.37" fill="#3c3ea2"/>
<rect x="223.56" y="229.12" width="3.37" height="3.37" fill="#3a359e"/>
<rect x="226.88" y="229.12" width="3.37" height="3.37" fill="#3c3ea2"/>
<rect x="230.20" y="229.12" width="3.37" height="3.37" fill="#3a379e"/>
<rect x="233.52" y="229.12" width="3.37" height="3.37" fill="#3d43a4"/>
<rect x="236.84" y="229.12" width="3.37" height="3.37" fill="#3e4aa8"/>
<rect x="240.16" y="229.12" width="3.37" height="3.37" fill="#3e47a6"/>
<rect x="243.48" y="229.12" width="3.37" height="3.37" fill="#3b3ba0"/>
<rect x="180.40" y="232.44" width="3.37" height="3.37" fill="#3c3ea2"/>
<rect x="183.72" y="232.44" width="3.37" height="3.37" fill="#3f51ab"/>
<rect x="187.04" y="232.44" width="3.37" height="3.37" fill="#3e45a5"/>
<rect x="190.36" y="232.44" width="3.37" height="3.37" fill="#3d43a4"/>
<rect x="193.68" y="232.44" width="3.37" height="3.37" fill="#3e4aa8"/>
<rect x="197.00" y="232.44" width="3.37" height="3.37" fill="#3f56ae"/>
<rect x="200.32" y="232.44" width="3.37" height="3.37" fill="#417bc2"/>
<rect x="203.64" y="232.44" width="3.37" height="3.37" fill="#3d44a5"/>
<rect x="206.96" y="232.44" width="3.37" height="3.37" fill="#3e45a5"/>
<rect x="210.28" y="232.44" width="3.37" height="3.37" fill="#3e47a6"/>
<rect x="213.60" y="232.44" width="3.37" height="3.37" fill="#3c3fa3"/>
<rect x="216.92" y="232.44" width="3.37" height="3.37" fill="#3c3ca1"/>
<rect x="220.24" y="232.44" width="3.37" height="3.37" fill="#3d43a5"/>
<rect x="223.56" y="232.44" width="3.37" height="3.37" fill="#3c3da2"/>
<rect x="226.88" y="232.44" width="3.37" height="3.37" fill="#3d42a4"/>
<rect x="230.20" y="232.44" width="3.37" height="3.37" fill="#3d43a5"/>
<rect x="233.52" y="232.44" width="3.37" height="3.37" fill="#3f55ad"/>
<rect x="236.84" y="232.44" width="3.37" height="3.37" fill="#3c3ea2"/>
<rect x="240.16" y="232.44" width="3.37" height="3.37" fill="#3d42a4"/>
<rect x="243.48" y="232.44" width="3.37" height="3.37" fill="#3d42a4"/>
<rect x="180.40" y="235.76" width="3.37" height="3.37" fill="#3e45a6"/>
<rect x="183.72" y="235.76" width="3.37" height="3.37" fill="#3e4aa8"/>
<rect x="187.04" y="235.76" width="3.37" height="3.37" fill="#3c40a3"/>
<rect x="190.36" y="235.76" width="3.37" height="3.37" fill="#3c3ea2"/>
<rect x="193.68" y="235.76" width="3.37" height="3.37" fill="#3b399f"/>
<rect x="197.00" y="235.76" width="3.37" height="3.37" fill="#3f55ad"/>
<rect x="200.32" y="235.76" width="3.37" height="3.37" fill="#3e46a6"/>
<rect x="203.64" y="235.76" width="3.37" height="3.37" fill="#3d43a5"/>
<rect x="206.96" y="235.76" width="3.37" height="3.37" fill="#3c3da1"/>
<rect x="210.28" y="235.76" width="3.37" height="3.37" fill="#3d41a3"/>
<rect x="213.60" y="235.76" width="3.37" height="3.37" fill="#3d43a4"/>
<rect x="216.92" y="235.76" width="3.37" height="3.37" fill="#3e46a6"/>
<rect x="220.24" y="235.76" width="3.37" height="3.37" fill="#3c3fa3"/>
<rect x="223.56" y="235.76" width="3.37" height="3.37" fill="#3d41a4"/>
<rect x="226.88" y="235.76" width="3.37" height="3.37" fill="#3a389f"/>
<rect x="230.20" y="235.76" width="3.37" height="3.37" fill="#3b3ca1"/>
<rect x="233.52" y="235.76" width="3.37" height="3.37" fill="#3f4faa"/>
<rect x="236.84" y="235.76" width="3.37" height="3.37" fill="#3a369e"/>
<rect x="240.16" y="235.76" width="3.37" height="3.37" fill="#3d41a3"/>
<rect x="243.48" y="235.76" width="3.37" height="3.37" fill="#3e44a5"/>
<rect x="180.40" y="239.08" width="3.37" height="3.37" fill="#3d41a3"/>
<rect x="183.72" y="239.08" width="3.37" height="3.37" fill="#3c3ea2"/>
<rect x="187.04" y="239.08" width="3.37" height="3.37" fill="#3d42a4"/>
<rect x="190.36" y="239.08" width="3.37" height="3.37" fill="#3d43a4"/>
<rect x="193.68" y="239.08" width="3.37" height="3.37" fill="#3d42a4"/>
<rect x="197.00" y="239.08" width="3.37" height="3.37" fill="#3a389f"/>
<rect x="200.32" y="239.08" width="3.37" height="3.37" fill="#3d42a4"/>
<rect x="203.64" y="239.08" width="3.37" height="3.37" fill="#3c3ea2"/>
<rect x="206.96" y="239.08" width="3.37" height="3.37" fill="#3c40a3"/>
<rect x="210.28" y="239.08" width="3.37" height="3.37" fill="#3e44a5"/>
<rect x="213.60" y="239.08" width="3.37" height="3.37" fill="#3e47a6"/>
<rect x="216.92" y="239.08" width="3.37" height="3.37" fill="#3e49a7"/>
<rect x="220.24" y="239.08" width="3.37" height="3.37" fill="#3c40a3"/>
<rect x="223.56" y="239.08" width="3.37" height="3.37" fill="#3e49a8"/>
<rect x="226.88" y="239.08" width="3.37" height="3.37" fill="#3e4ba9"/>
<rect x="230.20" y="239.08" width="3.37" height="3.37" fill="#3e4ba8"/>
<rect x="233.52" y="239.08" width="3.37" height="3.37" fill="#3f4da9"/>
<rect x="236.84" y="239.08" width="3.37" height="3.37" fill="#3d42a4"/>
<rect x="240.16" y="239.08" width="3.37" height="3.37" fill="#3d42a4"/>
<rect x="243.48" y="239.08" width="3.37" height="3.37" fill="#3e48a7"/>
<circle cx="219.6" cy="211.4" r="3.6" fill="#e8e040"/>
<circle cx="222.2" cy="212.0" r="1.6" fill="#f0f0a0"/>
<circle cx="219.3" cy="211.8" r="1.6" fill="#4a0802"/>
</g></g>
<text x="183.6" y="188.2" fill="#fff" style="font-family:'Liberation Serif',serif;font-size:12.9px">20 mW</text>
<clipPath id="ci3"><rect x="253.8" y="176" width="66.4" height="66.4"/></clipPath>
<g clip-path="url(#ci3)"><g filter="url(#bl)">
<rect x="251.8" y="174" width="70.4" height="70.4" fill="#372c98"/>
<rect x="253.80" y="176.00" width="3.37" height="3.37" fill="#372c98"/>
<rect x="257.12" y="176.00" width="3.37" height="3.37" fill="#382e9a"/>
<rect x="260.44" y="176.00" width="3.37" height="3.37" fill="#372d99"/>
<rect x="263.76" y="176.00" width="3.37" height="3.37" fill="#372d99"/>
<rect x="267.08" y="176.00" width="3.37" height="3.37" fill="#362b97"/>
<rect x="270.40" y="176.00" width="3.37" height="3.37" fill="#372c98"/>
<rect x="273.72" y="176.00" width="3.37" height="3.37" fill="#382d99"/>
<rect x="277.04" y="176.00" width="3.37" height="3.37" fill="#39309b"/>
<rect x="280.36" y="176.00" width="3.37" height="3.37" fill="#39319b"/>
<rect x="283.68" y="176.00" width="3.37" height="3.37" fill="#382d99"/>
<rect x="287.00" y="176.00" width="3.37" height="3.37" fill="#382d99"/>
<rect x="290.32" y="176.00" width="3.37" height="3.37" fill="#372d98"/>
<rect x="293.64" y="176.00" width="3.37" height="3.37" fill="#382e9a"/>
<rect x="296.96" y="176.00" width="3.37" height="3.37" fill="#372d99"/>
<rect x="300.28" y="176.00" width="3.37" height="3.37" fill="#382f9a"/>
<rect x="303.60" y="176.00" width="3.37" height="3.37" fill="#3a349d"/>
<rect x="306.92" y="176.00" width="3.37" height="3.37" fill="#382d99"/>
<rect x="310.24" y="176.00" width="3.37" height="3.37" fill="#362c97"/>
<rect x="313.56" y="176.00" width="3.37" height="3.37" fill="#372c98"/>
<rect x="316.88" y="176.00" width="3.37" height="3.37" fill="#372c97"/>
<rect x="253.80" y="179.32" width="3.37" height="3.37" fill="#372c98"/>
<rect x="257.12" y="179.32" width="3.37" height="3.37" fill="#39329c"/>
<rect x="260.44" y="179.32" width="3.37" height="3.37" fill="#382e9a"/>
<rect x="263.76" y="179.32" width="3.37" height="3.37" fill="#362c97"/>
<rect x="267.08" y="179.32" width="3.37" height="3.37" fill="#382f9b"/>
<rect x="270.40" y="179.32" width="3.37" height="3.37" fill="#39329c"/>
<rect x="273.72" y="179.32" width="3.37" height="3.37" fill="#372d99"/>
<rect x="277.04" y="179.32" width="3.37" height="3.37" fill="#372d98"/>
<rect x="280.36" y="179.32" width="3.37" height="3.37" fill="#372d99"/>
<rect x="283.68" y="179.32" width="3.37" height="3.37" fill="#382e9a"/>
<rect x="287.00" y="179.32" width="3.37" height="3.37" fill="#382f9b"/>
<rect x="290.32" y="179.32" width="3.37" height="3.37" fill="#39329c"/>
<rect x="293.64" y="179.32" width="3.37" height="3.37" fill="#39329c"/>
<rect x="296.96" y="179.32" width="3.37" height="3.37" fill="#39329c"/>
<rect x="300.28" y="179.32" width="3.37" height="3.37" fill="#39339c"/>
<rect x="303.60" y="179.32" width="3.37" height="3.37" fill="#382f9b"/>
<rect x="306.92" y="179.32" width="3.37" height="3.37" fill="#362c97"/>
<rect x="310.24" y="179.32" width="3.37" height="3.37" fill="#382d99"/>
<rect x="313.56" y="179.32" width="3.37" height="3.37" fill="#382e9a"/>
<rect x="316.88" y="179.32" width="3.37" height="3.37" fill="#372d99"/>
<rect x="253.80" y="182.64" width="3.37" height="3.37" fill="#39309b"/>
<rect x="257.12" y="182.64" width="3.37" height="3.37" fill="#372d99"/>
<rect x="260.44" y="182.64" width="3.37" height="3.37" fill="#372c98"/>
<rect x="263.76" y="182.64" width="3.37" height="3.37" fill="#39339c"/>
<rect x="267.08" y="182.64" width="3.37" height="3.37" fill="#382f9b"/>
<rect x="270.40" y="182.64" width="3.37" height="3.37" fill="#382e9a"/>
<rect x="273.72" y="182.64" width="3.37" height="3.37" fill="#39319b"/>
<rect x="277.04" y="182.64" width="3.37" height="3.37" fill="#39319c"/>
<rect x="280.36" y="182.64" width="3.37" height="3.37" fill="#382e9a"/>
<rect x="283.68" y="182.64" width="3.37" height="3.37" fill="#362b96"/>
<rect x="287.00" y="182.64" width="3.37" height="3.37" fill="#372d99"/>
<rect x="290.32" y="182.64" width="3.37" height="3.37" fill="#372d99"/>
<rect x="293.64" y="182.64" width="3.37" height="3.37" fill="#372c98"/>
<rect x="296.96" y="182.64" width="3.37" height="3.37" fill="#382e9a"/>
<rect x="300.28" y="182.64" width="3.37" height="3.37" fill="#39329c"/>
<rect x="303.60" y="182.64" width="3.37" height="3.37" fill="#372d99"/>
<rect x="306.92" y="182.64" width="3.37" height="3.37" fill="#372c98"/>
<rect x="310.24" y="182.64" width="3.37" height="3.37" fill="#3a369e"/>
<rect x="313.56" y="182.64" width="3.37" height="3.37" fill="#372d99"/>
<rect x="316.88" y="182.64" width="3.37" height="3.37" fill="#372c98"/>
<rect x="253.80" y="185.96" width="3.37" height="3.37" fill="#382e9a"/>
<rect x="257.12" y="185.96" width="3.37" height="3.37" fill="#382e9a"/>
<rect x="260.44" y="185.96" width="3.37" height="3.37" fill="#372d98"/>
<rect x="263.76" y="185.96" width="3.37" height="3.37" fill="#38309b"/>
<rect x="267.08" y="185.96" width="3.37" height="3.37" fill="#372d99"/>
<rect x="270.40" y="185.96" width="3.37" height="3.37" fill="#372c98"/>
<rect x="273.72" y="185.96" width="3.37" height="3.37" fill="#382e9a"/>
<rect x="277.04" y="185.96" width="3.37" height="3.37" fill="#39309b"/>
<rect x="280.36" y="185.96" width="3.37" height="3.37" fill="#372d99"/>
<rect x="283.68" y="185.96" width="3.37" height="3.37" fill="#382f9a"/>
<rect x="287.00" y="185.96" width="3.37" height="3.37" fill="#382e9a"/>
<rect x="290.32" y="185.96" width="3.37" height="3.37" fill="#3b3ba0"/>
<rect x="293.64" y="185.96" width="3.37" height="3.37" fill="#372d99"/>
<rect x="296.96" y="185.96" width="3.37" height="3.37" fill="#39349d"/>
<rect x="300.28" y="185.96" width="3.37" height="3.37" fill="#382e9a"/>
<rect x="303.60" y="185.96" width="3.37" height="3.37" fill="#382d99"/>
<rect x="306.92" y="185.96" width="3.37" height="3.37" fill="#38309b"/>
<rect x="310.24" y="185.96" width="3.37" height="3.37" fill="#39309b"/>
<rect x="313.56" y="185.96" width="3.37" height="3.37" fill="#39329c"/>
<rect x="316.88" y="185.96" width="3.37" height="3.37" fill="#382e9a"/>
<rect x="253.80" y="189.28" width="3.37" height="3.37" fill="#372d99"/>
<rect x="257.12" y="189.28" width="3.37" height="3.37" fill="#372d99"/>
<rect x="260.44" y="189.28" width="3.37" height="3.37" fill="#382e9a"/>
<rect x="263.76" y="189.28" width="3.37" height="3.37" fill="#382f9a"/>
<rect x="267.08" y="189.28" width="3.37" height="3.37" fill="#39339c"/>
<rect x="270.40" y="189.28" width="3.37" height="3.37" fill="#382e9a"/>
<rect x="273.72" y="189.28" width="3.37" height="3.37" fill="#39329c"/>
<rect x="277.04" y="189.28" width="3.37" height="3.37" fill="#3a359d"/>
<rect x="280.36" y="189.28" width="3.37" height="3.37" fill="#382f9a"/>
<rect x="283.68" y="189.28" width="3.37" height="3.37" fill="#372c98"/>
<rect x="287.00" y="189.28" width="3.37" height="3.37" fill="#372d99"/>
<rect x="290.32" y="189.28" width="3.37" height="3.37" fill="#372c98"/>
<rect x="293.64" y="189.28" width="3.37" height="3.37" fill="#3a369e"/>
<rect x="296.96" y="189.28" width="3.37" height="3.37" fill="#372d99"/>
<rect x="300.28" y="189.28" width="3.37" height="3.37" fill="#39339d"/>
<rect x="303.60" y="189.28" width="3.37" height="3.37" fill="#38309b"/>
<rect x="306.92" y="189.28" width="3.37" height="3.37" fill="#3a359d"/>
<rect x="310.24" y="189.28" width="3.37" height="3.37" fill="#39319c"/>
<rect x="313.56" y="189.28" width="3.37" height="3.37" fill="#382d99"/>
<rect x="316.88" y="189.28" width="3.37" height="3.37" fill="#382d99"/>
<rect x="253.80" y="192.60" width="3.37" height="3.37" fill="#382e9a"/>
<rect x="257.12" y="192.60" width="3.37" height="3.37" fill="#382e9a"/>
<rect x="260.44" y="192.60" width="3.37" height="3.37" fill="#372d99"/>
<rect x="263.76" y="192.60" width="3.37" height="3.37" fill="#382e99"/>
<rect x="267.08" y="192.60" width="3.37" height="3.37" fill="#3a349d"/>
<rect x="270.40" y="192.60" width="3.37" height="3.37" fill="#362c97"/>
<rect x="273.72" y="192.60" width="3.37" height="3.37" fill="#382f9a"/>
<rect x="277.04" y="192.60" width="3.37" height="3.37" fill="#372d99"/>
<rect x="280.36" y="192.60" width="3.37" height="3.37" fill="#39319b"/>
<rect x="283.68" y="192.60" width="3.37" height="3.37" fill="#3a359d"/>
<rect x="287.00" y="192.60" width="3.37" height="3.37" fill="#39319c"/>
<rect x="290.32" y="192.60" width="3.37" height="3.37" fill="#3a359e"/>
<rect x="293.64" y="192.60" width="3.37" height="3.37" fill="#372d99"/>
<rect x="296.96" y="192.60" width="3.37" height="3.37" fill="#3a359e"/>
<rect x="300.28" y="192.60" width="3.37" height="3.37" fill="#382e99"/>
<rect x="303.60" y="192.60" width="3.37" height="3.37" fill="#39319b"/>
<rect x="306.92" y="192.60" width="3.37" height="3.37" fill="#382e9a"/>
<rect x="310.24" y="192.60" width="3.37" height="3.37" fill="#362b96"/>
<rect x="313.56" y="192.60" width="3.37" height="3.37" fill="#372d98"/>
<rect x="316.88" y="192.60" width="3.37" height="3.37" fill="#382e9a"/>
<rect x="253.80" y="195.92" width="3.37" height="3.37" fill="#39339d"/>
<rect x="257.12" y="195.92" width="3.37" height="3.37" fill="#382e9a"/>
<rect x="260.44" y="195.92" width="3.37" height="3.37" fill="#382e9a"/>
<rect x="263.76" y="195.92" width="3.37" height="3.37" fill="#372c98"/>
<rect x="267.08" y="195.92" width="3.37" height="3.37" fill="#39349d"/>
<rect x="270.40" y="195.92" width="3.37" height="3.37" fill="#3a369e"/>
<rect x="273.72" y="195.92" width="3.37" height="3.37" fill="#382f9b"/>
<rect x="277.04" y="195.92" width="3.37" height="3.37" fill="#38309b"/>
<rect x="280.36" y="195.92" width="3.37" height="3.37" fill="#372d99"/>
<rect x="283.68" y="195.92" width="3.37" height="3.37" fill="#3b399f"/>
<rect x="287.00" y="195.92" width="3.37" height="3.37" fill="#3d42a4"/>
<rect x="290.32" y="195.92" width="3.37" height="3.37" fill="#3b39a0"/>
<rect x="293.64" y="195.92" width="3.37" height="3.37" fill="#3b3ba0"/>
<rect x="296.96" y="195.92" width="3.37" height="3.37" fill="#3a369e"/>
<rect x="300.28" y="195.92" width="3.37" height="3.37" fill="#382e9a"/>
<rect x="303.60" y="195.92" width="3.37" height="3.37" fill="#3a369e"/>
<rect x="306.92" y="195.92" width="3.37" height="3.37" fill="#372d98"/>
<rect x="310.24" y="195.92" width="3.37" height="3.37" fill="#382e99"/>
<rect x="313.56" y="195.92" width="3.37" height="3.37" fill="#382e9a"/>
<rect x="316.88" y="195.92" width="3.37" height="3.37" fill="#39309b"/>
<rect x="253.80" y="199.24" width="3.37" height="3.37" fill="#382e9a"/>
<rect x="257.12" y="199.24" width="3.37" height="3.37" fill="#382e9a"/>
<rect x="260.44" y="199.24" width="3.37" height="3.37" fill="#372d98"/>
<rect x="263.76" y="199.24" width="3.37" height="3.37" fill="#372c98"/>
<rect x="267.08" y="199.24" width="3.37" height="3.37" fill="#382e9a"/>
<rect x="270.40" y="199.24" width="3.37" height="3.37" fill="#382d99"/>
<rect x="273.72" y="199.24" width="3.37" height="3.37" fill="#372d99"/>
<rect x="277.04" y="199.24" width="3.37" height="3.37" fill="#382e9a"/>
<rect x="280.36" y="199.24" width="3.37" height="3.37" fill="#39349d"/>
<rect x="283.68" y="199.24" width="3.37" height="3.37" fill="#39309b"/>
<rect x="287.00" y="199.24" width="3.37" height="3.37" fill="#3a359d"/>
<rect x="290.32" y="199.24" width="3.37" height="3.37" fill="#39339d"/>
<rect x="293.64" y="199.24" width="3.37" height="3.37" fill="#3b3ba0"/>
<rect x="296.96" y="199.24" width="3.37" height="3.37" fill="#3b39a0"/>
<rect x="300.28" y="199.24" width="3.37" height="3.37" fill="#3c3ea2"/>
<rect x="303.60" y="199.24" width="3.37" height="3.37" fill="#372d99"/>
<rect x="306.92" y="199.24" width="3.37" height="3.37" fill="#382e99"/>
<rect x="310.24" y="199.24" width="3.37" height="3.37" fill="#39329c"/>
<rect x="313.56" y="199.24" width="3.37" height="3.37" fill="#382d99"/>
<rect x="316.88" y="199.24" width="3.37" height="3.37" fill="#372d99"/>
<rect x="253.80" y="202.56" width="3.37" height="3.37" fill="#3a349d"/>
<rect x="257.12" y="202.56" width="3.37" height="3.37" fill="#372d99"/>
<rect x="260.44" y="202.56" width="3.37" height="3.37" fill="#372c98"/>
<rect x="263.76" y="202.56" width="3.37" height="3.37" fill="#372c98"/>
<rect x="267.08" y="202.56" width="3.37" height="3.37" fill="#382f9b"/>
<rect x="270.40" y="202.56" width="3.37" height="3.37" fill="#39319c"/>
<rect x="273.72" y="202.56" width="3.37" height="3.37" fill="#382d99"/>
<rect x="277.04" y="202.56" width="3.37" height="3.37" fill="#39319c"/>
<rect x="280.36" y="202.56" width="3.37" height="3.37" fill="#3c3da2"/>
<rect x="283.68" y="202.56" width="3.37" height="3.37" fill="#3d41a4"/>
<rect x="287.00" y="202.56" width="3.37" height="3.37" fill="#3c3ea2"/>
<rect x="290.32" y="202.56" width="3.37" height="3.37" fill="#3e45a5"/>
<rect x="293.64" y="202.56" width="3.37" height="3.37" fill="#3d43a4"/>
<rect x="296.96" y="202.56" width="3.37" height="3.37" fill="#39349d"/>
<rect x="300.28" y="202.56" width="3.37" height="3.37" fill="#3a369e"/>
<rect x="303.60" y="202.56" width="3.37" height="3.37" fill="#3a369e"/>
<rect x="306.92" y="202.56" width="3.37" height="3.37" fill="#382e9a"/>
<rect x="310.24" y="202.56" width="3.37" height="3.37" fill="#362c97"/>
<rect x="313.56" y="202.56" width="3.37" height="3.37" fill="#382d99"/>
<rect x="316.88" y="202.56" width="3.37" height="3.37" fill="#39309b"/>
<rect x="253.80" y="205.88" width="3.37" height="3.37" fill="#39349d"/>
<rect x="257.12" y="205.88" width="3.37" height="3.37" fill="#362b96"/>
<rect x="260.44" y="205.88" width="3.37" height="3.37" fill="#3b399f"/>
<rect x="263.76" y="205.88" width="3.37" height="3.37" fill="#372c98"/>
<rect x="267.08" y="205.88" width="3.37" height="3.37" fill="#39339c"/>
<rect x="270.40" y="205.88" width="3.37" height="3.37" fill="#3a379e"/>
<rect x="273.72" y="205.88" width="3.37" height="3.37" fill="#3b399f"/>
<rect x="277.04" y="205.88" width="3.37" height="3.37" fill="#3b3aa0"/>
<rect x="280.36" y="205.88" width="3.37" height="3.37" fill="#3b399f"/>
<rect x="283.68" y="205.88" width="3.37" height="3.37" fill="#3e47a6"/>
<rect x="287.00" y="205.88" width="3.37" height="3.37" fill="#3d43a5"/>
<rect x="290.32" y="205.88" width="3.37" height="3.37" fill="#3b3ba1"/>
<rect x="293.64" y="205.88" width="3.37" height="3.37" fill="#4058ae"/>
<rect x="296.96" y="205.88" width="3.37" height="3.37" fill="#3e44a5"/>
<rect x="300.28" y="205.88" width="3.37" height="3.37" fill="#3d44a5"/>
<rect x="303.60" y="205.88" width="3.37" height="3.37" fill="#39329c"/>
<rect x="306.92" y="205.88" width="3.37" height="3.37" fill="#3b399f"/>
<rect x="310.24" y="205.88" width="3.37" height="3.37" fill="#3a379e"/>
<rect x="313.56" y="205.88" width="3.37" height="3.37" fill="#3a359d"/>
<rect x="316.88" y="205.88" width="3.37" height="3.37" fill="#382e9a"/>
<rect x="253.80" y="209.20" width="3.37" height="3.37" fill="#372c98"/>
<rect x="257.12" y="209.20" width="3.37" height="3.37" fill="#382d99"/>
<rect x="260.44" y="209.20" width="3.37" height="3.37" fill="#362b96"/>
<rect x="263.76" y="209.20" width="3.37" height="3.37" fill="#372c97"/>
<rect x="267.08" y="209.20" width="3.37" height="3.37" fill="#382f9b"/>
<rect x="270.40" y="209.20" width="3.37" height="3.37" fill="#382e9a"/>
<rect x="273.72" y="209.20" width="3.37" height="3.37" fill="#3a349d"/>
<rect x="277.04" y="209.20" width="3.37" height="3.37" fill="#3b3aa0"/>
<rect x="280.36" y="209.20" width="3.37" height="3.37" fill="#3f4ca9"/>
<rect x="283.68" y="209.20" width="3.37" height="3.37" fill="#3f50ab"/>
<rect x="287.00" y="209.20" width="3.37" height="3.37" fill="#3f4ca9"/>
<rect x="290.32" y="209.20" width="3.37" height="3.37" fill="#3f55ad"/>
<rect x="293.64" y="209.20" width="3.37" height="3.37" fill="#3e45a5"/>
<rect x="296.96" y="209.20" width="3.37" height="3.37" fill="#3d42a4"/>
<rect x="300.28" y="209.20" width="3.37" height="3.37" fill="#3d42a4"/>
<rect x="303.60" y="209.20" width="3.37" height="3.37" fill="#39319c"/>
<rect x="306.92" y="209.20" width="3.37" height="3.37" fill="#39319c"/>
<rect x="310.24" y="209.20" width="3.37" height="3.37" fill="#372d99"/>
<rect x="313.56" y="209.20" width="3.37" height="3.37" fill="#382e9a"/>
<rect x="316.88" y="209.20" width="3.37" height="3.37" fill="#3a359d"/>
<rect x="253.80" y="212.52" width="3.37" height="3.37" fill="#372d98"/>
<rect x="257.12" y="212.52" width="3.37" height="3.37" fill="#382e9a"/>
<rect x="260.44" y="212.52" width="3.37" height="3.37" fill="#372d98"/>
<rect x="263.76" y="212.52" width="3.37" height="3.37" fill="#372c98"/>
<rect x="267.08" y="212.52" width="3.37" height="3.37" fill="#372d98"/>
<rect x="270.40" y="212.52" width="3.37" height="3.37" fill="#3b389f"/>
<rect x="273.72" y="212.52" width="3.37" height="3.37" fill="#3d41a3"/>
<rect x="277.04" y="212.52" width="3.37" height="3.37" fill="#3c3da2"/>
<rect x="280.36" y="212.52" width="3.37" height="3.37" fill="#3c3ea2"/>
<rect x="283.68" y="212.52" width="3.37" height="3.37" fill="#3f4ca9"/>
<rect x="287.00" y="212.52" width="3.37" height="3.37" fill="#3e4ba8"/>
<rect x="290.32" y="212.52" width="3.37" height="3.37" fill="#3f53ac"/>
<rect x="293.64" y="212.52" width="3.37" height="3.37" fill="#3f4ca9"/>
<rect x="296.96" y="212.52" width="3.37" height="3.37" fill="#3e45a6"/>
<rect x="300.28" y="212.52" width="3.37" height="3.37" fill="#3d40a3"/>
<rect x="303.60" y="212.52" width="3.37" height="3.37" fill="#3a359d"/>
<rect x="306.92" y="212.52" width="3.37" height="3.37" fill="#39319b"/>
<rect x="310.24" y="212.52" width="3.37" height="3.37" fill="#372c98"/>
<rect x="313.56" y="212.52" width="3.37" height="3.37" fill="#382d99"/>
<rect x="316.88" y="212.52" width="3.37" height="3.37" fill="#372c98"/>
<rect x="253.80" y="215.84" width="3.37" height="3.37" fill="#382d99"/>
<rect x="257.12" y="215.84" width="3.37" height="3.37" fill="#372c98"/>
<rect x="260.44" y="215.84" width="3.37" height="3.37" fill="#382e9a"/>
<rect x="263.76" y="215.84" width="3.37" height="3.37" fill="#382f9b"/>
<rect x="267.08" y="215.84" width="3.37" height="3.37" fill="#372c98"/>
<rect x="270.40" y="215.84" width="3.37" height="3.37" fill="#382e9a"/>
<rect x="273.72" y="215.84" width="3.37" height="3.37" fill="#39309b"/>
<rect x="277.04" y="215.84" width="3.37" height="3.37" fill="#3c3da2"/>
<rect x="280.36" y="215.84" width="3.37" height="3.37" fill="#3e48a7"/>
<rect x="283.68" y="215.84" width="3.37" height="3.37" fill="#3e4aa8"/>
<rect x="287.00" y="215.84" width="3.37" height="3.37" fill="#3e47a6"/>
<rect x="290.32" y="215.84" width="3.37" height="3.37" fill="#3f54ac"/>
<rect x="293.64" y="215.84" width="3.37" height="3.37" fill="#3c3fa3"/>
<rect x="296.96" y="215.84" width="3.37" height="3.37" fill="#3e4aa8"/>
<rect x="300.28" y="215.84" width="3.37" height="3.37" fill="#3b399f"/>
<rect x="303.60" y="215.84" width="3.37" height="3.37" fill="#372d99"/>
<rect x="306.92" y="215.84" width="3.37" height="3.37" fill="#3c3fa2"/>
<rect x="310.24" y="215.84" width="3.37" height="3.37" fill="#3a379e"/>
<rect x="313.56" y="215.84" width="3.37" height="3.37" fill="#372d98"/>
<rect x="316.88" y="215.84" width="3.37" height="3.37" fill="#382e9a"/>
<rect x="253.80" y="219.16" width="3.37" height="3.37" fill="#382d99"/>
<rect x="257.12" y="219.16" width="3.37" height="3.37" fill="#382e9a"/>
<rect x="260.44" y="219.16" width="3.37" height="3.37" fill="#372c97"/>
<rect x="263.76" y="219.16" width="3.37" height="3.37" fill="#372d99"/>
<rect x="267.08" y="219.16" width="3.37" height="3.37" fill="#39309b"/>
<rect x="270.40" y="219.16" width="3.37" height="3.37" fill="#39319b"/>
<rect x="273.72" y="219.16" width="3.37" height="3.37" fill="#3b399f"/>
<rect x="277.04" y="219.16" width="3.37" height="3.37" fill="#3a379f"/>
<rect x="280.36" y="219.16" width="3.37" height="3.37" fill="#3e47a7"/>
<rect x="283.68" y="219.16" width="3.37" height="3.37" fill="#3c3da1"/>
<rect x="287.00" y="219.16" width="3.37" height="3.37" fill="#3e44a5"/>
<rect x="290.32" y="219.16" width="3.37" height="3.37" fill="#3b3aa0"/>
<rect x="293.64" y="219.16" width="3.37" height="3.37" fill="#3b3ba1"/>
<rect x="296.96" y="219.16" width="3.37" height="3.37" fill="#3e44a5"/>
<rect x="300.28" y="219.16" width="3.37" height="3.37" fill="#3a349d"/>
<rect x="303.60" y="219.16" width="3.37" height="3.37" fill="#3a379f"/>
<rect x="306.92" y="219.16" width="3.37" height="3.37" fill="#39319b"/>
<rect x="310.24" y="219.16" width="3.37" height="3.37" fill="#372d99"/>
<rect x="313.56" y="219.16" width="3.37" height="3.37" fill="#382d99"/>
<rect x="316.88" y="219.16" width="3.37" height="3.37" fill="#372d99"/>
<rect x="253.80" y="222.48" width="3.37" height="3.37" fill="#372d99"/>
<rect x="257.12" y="222.48" width="3.37" height="3.37" fill="#38309b"/>
<rect x="260.44" y="222.48" width="3.37" height="3.37" fill="#382f9b"/>
<rect x="263.76" y="222.48" width="3.37" height="3.37" fill="#372d99"/>
<rect x="267.08" y="222.48" width="3.37" height="3.37" fill="#372d99"/>
<rect x="270.40" y="222.48" width="3.37" height="3.37" fill="#39309b"/>
<rect x="273.72" y="222.48" width="3.37" height="3.37" fill="#39319b"/>
<rect x="277.04" y="222.48" width="3.37" height="3.37" fill="#3b39a0"/>
<rect x="280.36" y="222.48" width="3.37" height="3.37" fill="#3e44a5"/>
<rect x="283.68" y="222.48" width="3.37" height="3.37" fill="#3c3fa2"/>
<rect x="287.00" y="222.48" width="3.37" height="3.37" fill="#3c3da1"/>
<rect x="290.32" y="222.48" width="3.37" height="3.37" fill="#3c3ca1"/>
<rect x="293.64" y="222.48" width="3.37" height="3.37" fill="#3a389f"/>
<rect x="296.96" y="222.48" width="3.37" height="3.37" fill="#3a359d"/>
<rect x="300.28" y="222.48" width="3.37" height="3.37" fill="#39319b"/>
<rect x="303.60" y="222.48" width="3.37" height="3.37" fill="#39309b"/>
<rect x="306.92" y="222.48" width="3.37" height="3.37" fill="#382e9a"/>
<rect x="310.24" y="222.48" width="3.37" height="3.37" fill="#39329c"/>
<rect x="313.56" y="222.48" width="3.37" height="3.37" fill="#382d99"/>
<rect x="316.88" y="222.48" width="3.37" height="3.37" fill="#382d99"/>
<rect x="253.80" y="225.80" width="3.37" height="3.37" fill="#372c98"/>
<rect x="257.12" y="225.80" width="3.37" height="3.37" fill="#39349d"/>
<rect x="260.44" y="225.80" width="3.37" height="3.37" fill="#382f9a"/>
<rect x="263.76" y="225.80" width="3.37" height="3.37" fill="#3a359e"/>
<rect x="267.08" y="225.80" width="3.37" height="3.37" fill="#39319b"/>
<rect x="270.40" y="225.80" width="3.37" height="3.37" fill="#3a359e"/>
<rect x="273.72" y="225.80" width="3.37" height="3.37" fill="#382e9a"/>
<rect x="277.04" y="225.80" width="3.37" height="3.37" fill="#3a359d"/>
<rect x="280.36" y="225.80" width="3.37" height="3.37" fill="#3d41a3"/>
<rect x="283.68" y="225.80" width="3.37" height="3.37" fill="#38309b"/>
<rect x="287.00" y="225.80" width="3.37" height="3.37" fill="#3c3da1"/>
<rect x="290.32" y="225.80" width="3.37" height="3.37" fill="#3c3fa3"/>
<rect x="293.64" y="225.80" width="3.37" height="3.37" fill="#3b389f"/>
<rect x="296.96" y="225.80" width="3.37" height="3.37" fill="#3b389f"/>
<rect x="300.28" y="225.80" width="3.37" height="3.37" fill="#3b389f"/>
<rect x="303.60" y="225.80" width="3.37" height="3.37" fill="#382e9a"/>
<rect x="306.92" y="225.80" width="3.37" height="3.37" fill="#39309b"/>
<rect x="310.24" y="225.80" width="3.37" height="3.37" fill="#372d99"/>
<rect x="313.56" y="225.80" width="3.37" height="3.37" fill="#372d99"/>
<rect x="316.88" y="225.80" width="3.37" height="3.37" fill="#372d99"/>
<rect x="253.80" y="229.12" width="3.37" height="3.37" fill="#382d99"/>
<rect x="257.12" y="229.12" width="3.37" height="3.37" fill="#382e9a"/>
<rect x="260.44" y="229.12" width="3.37" height="3.37" fill="#382e9a"/>
<rect x="263.76" y="229.12" width="3.37" height="3.37" fill="#372c97"/>
<rect x="267.08" y="229.12" width="3.37" height="3.37" fill="#3a369e"/>
<rect x="270.40" y="229.12" width="3.37" height="3.37" fill="#39339c"/>
<rect x="273.72" y="229.12" width="3.37" height="3.37" fill="#39329c"/>
<rect x="277.04" y="229.12" width="3.37" height="3.37" fill="#382e9a"/>
<rect x="280.36" y="229.12" width="3.37" height="3.37" fill="#38309b"/>
<rect x="283.68" y="229.12" width="3.37" height="3.37" fill="#3a349d"/>
<rect x="287.00" y="229.12" width="3.37" height="3.37" fill="#3a349d"/>
<rect x="290.32" y="229.12" width="3.37" height="3.37" fill="#372d99"/>
<rect x="293.64" y="229.12" width="3.37" height="3.37" fill="#3a369e"/>
<rect x="296.96" y="229.12" width="3.37" height="3.37" fill="#3c3fa3"/>
<rect x="300.28" y="229.12" width="3.37" height="3.37" fill="#372c98"/>
<rect x="303.60" y="229.12" width="3.37" height="3.37" fill="#39339d"/>
<rect x="306.92" y="229.12" width="3.37" height="3.37" fill="#382f9b"/>
<rect x="310.24" y="229.12" width="3.37" height="3.37" fill="#382e99"/>
<rect x="313.56" y="229.12" width="3.37" height="3.37" fill="#39339d"/>
<rect x="316.88" y="229.12" width="3.37" height="3.37" fill="#372c98"/>
<rect x="253.80" y="232.44" width="3.37" height="3.37" fill="#382e9a"/>
<rect x="257.12" y="232.44" width="3.37" height="3.37" fill="#39339d"/>
<rect x="260.44" y="232.44" width="3.37" height="3.37" fill="#382d99"/>
<rect x="263.76" y="232.44" width="3.37" height="3.37" fill="#372d99"/>
<rect x="267.08" y="232.44" width="3.37" height="3.37" fill="#382e9a"/>
<rect x="270.40" y="232.44" width="3.37" height="3.37" fill="#372d99"/>
<rect x="273.72" y="232.44" width="3.37" height="3.37" fill="#3a359d"/>
<rect x="277.04" y="232.44" width="3.37" height="3.37" fill="#372d99"/>
<rect x="280.36" y="232.44" width="3.37" height="3.37" fill="#39339c"/>
<rect x="283.68" y="232.44" width="3.37" height="3.37" fill="#372d98"/>
<rect x="287.00" y="232.44" width="3.37" height="3.37" fill="#39339c"/>
<rect x="290.32" y="232.44" width="3.37" height="3.37" fill="#382f9a"/>
<rect x="293.64" y="232.44" width="3.37" height="3.37" fill="#362b97"/>
<rect x="296.96" y="232.44" width="3.37" height="3.37" fill="#382f9a"/>
<rect x="300.28" y="232.44" width="3.37" height="3.37" fill="#372d98"/>
<rect x="303.60" y="232.44" width="3.37" height="3.37" fill="#382d99"/>
<rect x="306.92" y="232.44" width="3.37" height="3.37" fill="#3a349d"/>
<rect x="310.24" y="232.44" width="3.37" height="3.37" fill="#372c98"/>
<rect x="313.56" y="232.44" width="3.37" height="3.37" fill="#372c98"/>
<rect x="316.88" y="232.44" width="3.37" height="3.37" fill="#39339d"/>
<rect x="253.80" y="235.76" width="3.37" height="3.37" fill="#382e9a"/>
<rect x="257.12" y="235.76" width="3.37" height="3.37" fill="#39349d"/>
<rect x="260.44" y="235.76" width="3.37" height="3.37" fill="#382e9a"/>
<rect x="263.76" y="235.76" width="3.37" height="3.37" fill="#372c98"/>
<rect x="267.08" y="235.76" width="3.37" height="3.37" fill="#382d99"/>
<rect x="270.40" y="235.76" width="3.37" height="3.37" fill="#39329c"/>
<rect x="273.72" y="235.76" width="3.37" height="3.37" fill="#39319c"/>
<rect x="277.04" y="235.76" width="3.37" height="3.37" fill="#382e9a"/>
<rect x="280.36" y="235.76" width="3.37" height="3.37" fill="#382e9a"/>
<rect x="283.68" y="235.76" width="3.37" height="3.37" fill="#382e9a"/>
<rect x="287.00" y="235.76" width="3.37" height="3.37" fill="#372d99"/>
<rect x="290.32" y="235.76" width="3.37" height="3.37" fill="#3a379f"/>
<rect x="293.64" y="235.76" width="3.37" height="3.37" fill="#382e9a"/>
<rect x="296.96" y="235.76" width="3.37" height="3.37" fill="#372c98"/>
<rect x="300.28" y="235.76" width="3.37" height="3.37" fill="#372d99"/>
<rect x="303.60" y="235.76" width="3.37" height="3.37" fill="#39309b"/>
<rect x="306.92" y="235.76" width="3.37" height="3.37" fill="#38309b"/>
<rect x="310.24" y="235.76" width="3.37" height="3.37" fill="#382d99"/>
<rect x="313.56" y="235.76" width="3.37" height="3.37" fill="#372d98"/>
<rect x="316.88" y="235.76" width="3.37" height="3.37" fill="#382e99"/>
<rect x="253.80" y="239.08" width="3.37" height="3.37" fill="#362b97"/>
<rect x="257.12" y="239.08" width="3.37" height="3.37" fill="#372c98"/>
<rect x="260.44" y="239.08" width="3.37" height="3.37" fill="#38309b"/>
<rect x="263.76" y="239.08" width="3.37" height="3.37" fill="#372d99"/>
<rect x="267.08" y="239.08" width="3.37" height="3.37" fill="#382e9a"/>
<rect x="270.40" y="239.08" width="3.37" height="3.37" fill="#39329c"/>
<rect x="273.72" y="239.08" width="3.37" height="3.37" fill="#382f9b"/>
<rect x="277.04" y="239.08" width="3.37" height="3.37" fill="#382e9a"/>
<rect x="280.36" y="239.08" width="3.37" height="3.37" fill="#3a379e"/>
<rect x="283.68" y="239.08" width="3.37" height="3.37" fill="#38309b"/>
<rect x="287.00" y="239.08" width="3.37" height="3.37" fill="#372d99"/>
<rect x="290.32" y="239.08" width="3.37" height="3.37" fill="#39309b"/>
<rect x="293.64" y="239.08" width="3.37" height="3.37" fill="#382f9a"/>
<rect x="296.96" y="239.08" width="3.37" height="3.37" fill="#372d98"/>
<rect x="300.28" y="239.08" width="3.37" height="3.37" fill="#382e9a"/>
<rect x="303.60" y="239.08" width="3.37" height="3.37" fill="#382d99"/>
<rect x="306.92" y="239.08" width="3.37" height="3.37" fill="#362b97"/>
<rect x="310.24" y="239.08" width="3.37" height="3.37" fill="#382d99"/>
<rect x="313.56" y="239.08" width="3.37" height="3.37" fill="#372d99"/>
<rect x="316.88" y="239.08" width="3.37" height="3.37" fill="#372d99"/>
<rect x="281.3" y="210.4" width="6.7" height="5.8" fill="#58a0e0"/>
<rect x="296.3" y="207.8" width="5.6" height="5.4" fill="#68c8f0"/>
<rect x="291" y="202.5" width="3.8" height="3.2" fill="#98d0f8"/>
<rect x="285.8" y="218.3" width="6" height="3" fill="#98c8e8"/>
<circle cx="290.6" cy="213.4" r="3.4" fill="#e8e040"/>
<circle cx="292.6" cy="214.6" r="1.6" fill="#f0f0a0"/>
<circle cx="289.9" cy="214.3" r="1.6" fill="#3a0a02"/>
</g></g>
<text x="257.0" y="188.2" fill="#fff" style="font-family:'Liberation Serif',serif;font-size:12.9px">28 mW</text>
<clipPath id="ci4"><rect x="327.1" y="176" width="66.4" height="66.4"/></clipPath>
<g clip-path="url(#ci4)"><g filter="url(#bl)">
<rect x="325.1" y="174" width="70.4" height="70.4" fill="#362b96"/>
<rect x="327.10" y="176.00" width="3.37" height="3.37" fill="#362b96"/>
<rect x="330.42" y="176.00" width="3.37" height="3.37" fill="#372c98"/>
<rect x="333.74" y="176.00" width="3.37" height="3.37" fill="#372d99"/>
<rect x="337.06" y="176.00" width="3.37" height="3.37" fill="#372d99"/>
<rect x="340.38" y="176.00" width="3.37" height="3.37" fill="#362b97"/>
<rect x="343.70" y="176.00" width="3.37" height="3.37" fill="#382e9a"/>
<rect x="347.02" y="176.00" width="3.37" height="3.37" fill="#362b97"/>
<rect x="350.34" y="176.00" width="3.37" height="3.37" fill="#372d98"/>
<rect x="353.66" y="176.00" width="3.37" height="3.37" fill="#38309b"/>
<rect x="356.98" y="176.00" width="3.37" height="3.37" fill="#372c98"/>
<rect x="360.30" y="176.00" width="3.37" height="3.37" fill="#372c98"/>
<rect x="363.62" y="176.00" width="3.37" height="3.37" fill="#382f9a"/>
<rect x="366.94" y="176.00" width="3.37" height="3.37" fill="#372c98"/>
<rect x="370.26" y="176.00" width="3.37" height="3.37" fill="#372c98"/>
<rect x="373.58" y="176.00" width="3.37" height="3.37" fill="#372d99"/>
<rect x="376.90" y="176.00" width="3.37" height="3.37" fill="#382e9a"/>
<rect x="380.22" y="176.00" width="3.37" height="3.37" fill="#352a95"/>
<rect x="383.54" y="176.00" width="3.37" height="3.37" fill="#372c97"/>
<rect x="386.86" y="176.00" width="3.37" height="3.37" fill="#362c97"/>
<rect x="390.18" y="176.00" width="3.37" height="3.37" fill="#362b97"/>
<rect x="327.10" y="179.32" width="3.37" height="3.37" fill="#362c97"/>
<rect x="330.42" y="179.32" width="3.37" height="3.37" fill="#372c97"/>
<rect x="333.74" y="179.32" width="3.37" height="3.37" fill="#372d99"/>
<rect x="337.06" y="179.32" width="3.37" height="3.37" fill="#362c97"/>
<rect x="340.38" y="179.32" width="3.37" height="3.37" fill="#372d99"/>
<rect x="343.70" y="179.32" width="3.37" height="3.37" fill="#382d99"/>
<rect x="347.02" y="179.32" width="3.37" height="3.37" fill="#372c98"/>
<rect x="350.34" y="179.32" width="3.37" height="3.37" fill="#372d99"/>
<rect x="353.66" y="179.32" width="3.37" height="3.37" fill="#39319c"/>
<rect x="356.98" y="179.32" width="3.37" height="3.37" fill="#372d99"/>
<rect x="360.30" y="179.32" width="3.37" height="3.37" fill="#372c98"/>
<rect x="363.62" y="179.32" width="3.37" height="3.37" fill="#372d99"/>
<rect x="366.94" y="179.32" width="3.37" height="3.37" fill="#362c97"/>
<rect x="370.26" y="179.32" width="3.37" height="3.37" fill="#372d99"/>
<rect x="373.58" y="179.32" width="3.37" height="3.37" fill="#382e9a"/>
<rect x="376.90" y="179.32" width="3.37" height="3.37" fill="#372c97"/>
<rect x="380.22" y="179.32" width="3.37" height="3.37" fill="#372d98"/>
<rect x="383.54" y="179.32" width="3.37" height="3.37" fill="#382f9a"/>
<rect x="386.86" y="179.32" width="3.37" height="3.37" fill="#372c98"/>
<rect x="390.18" y="179.32" width="3.37" height="3.37" fill="#372d99"/>
<rect x="327.10" y="182.64" width="3.37" height="3.37" fill="#362c97"/>
<rect x="330.42" y="182.64" width="3.37" height="3.37" fill="#372c97"/>
<rect x="333.74" y="182.64" width="3.37" height="3.37" fill="#372c98"/>
<rect x="337.06" y="182.64" width="3.37" height="3.37" fill="#39349d"/>
<rect x="340.38" y="182.64" width="3.37" height="3.37" fill="#372c98"/>
<rect x="343.70" y="182.64" width="3.37" height="3.37" fill="#372c98"/>
<rect x="347.02" y="182.64" width="3.37" height="3.37" fill="#372c98"/>
<rect x="350.34" y="182.64" width="3.37" height="3.37" fill="#372d98"/>
<rect x="353.66" y="182.64" width="3.37" height="3.37" fill="#382e9a"/>
<rect x="356.98" y="182.64" width="3.37" height="3.37" fill="#372d99"/>
<rect x="360.30" y="182.64" width="3.37" height="3.37" fill="#39339d"/>
<rect x="363.62" y="182.64" width="3.37" height="3.37" fill="#372d99"/>
<rect x="366.94" y="182.64" width="3.37" height="3.37" fill="#39309b"/>
<rect x="370.26" y="182.64" width="3.37" height="3.37" fill="#372d99"/>
<rect x="373.58" y="182.64" width="3.37" height="3.37" fill="#382e99"/>
<rect x="376.90" y="182.64" width="3.37" height="3.37" fill="#362b97"/>
<rect x="380.22" y="182.64" width="3.37" height="3.37" fill="#372d98"/>
<rect x="383.54" y="182.64" width="3.37" height="3.37" fill="#372d99"/>
<rect x="386.86" y="182.64" width="3.37" height="3.37" fill="#372d98"/>
<rect x="390.18" y="182.64" width="3.37" height="3.37" fill="#352a96"/>
<rect x="327.10" y="185.96" width="3.37" height="3.37" fill="#382e9a"/>
<rect x="330.42" y="185.96" width="3.37" height="3.37" fill="#372c98"/>
<rect x="333.74" y="185.96" width="3.37" height="3.37" fill="#372c98"/>
<rect x="337.06" y="185.96" width="3.37" height="3.37" fill="#372c98"/>
<rect x="340.38" y="185.96" width="3.37" height="3.37" fill="#372d98"/>
<rect x="343.70" y="185.96" width="3.37" height="3.37" fill="#382d99"/>
<rect x="347.02" y="185.96" width="3.37" height="3.37" fill="#362b97"/>
<rect x="350.34" y="185.96" width="3.37" height="3.37" fill="#362c97"/>
<rect x="353.66" y="185.96" width="3.37" height="3.37" fill="#372d99"/>
<rect x="356.98" y="185.96" width="3.37" height="3.37" fill="#372d99"/>
<rect x="360.30" y="185.96" width="3.37" height="3.37" fill="#372c98"/>
<rect x="363.62" y="185.96" width="3.37" height="3.37" fill="#372c98"/>
<rect x="366.94" y="185.96" width="3.37" height="3.37" fill="#372c98"/>
<rect x="370.26" y="185.96" width="3.37" height="3.37" fill="#372d99"/>
<rect x="373.58" y="185.96" width="3.37" height="3.37" fill="#382f9b"/>
<rect x="376.90" y="185.96" width="3.37" height="3.37" fill="#362c97"/>
<rect x="380.22" y="185.96" width="3.37" height="3.37" fill="#39319b"/>
<rect x="383.54" y="185.96" width="3.37" height="3.37" fill="#382e9a"/>
<rect x="386.86" y="185.96" width="3.37" height="3.37" fill="#372c98"/>
<rect x="390.18" y="185.96" width="3.37" height="3.37" fill="#382e9a"/>
<rect x="327.10" y="189.28" width="3.37" height="3.37" fill="#362b97"/>
<rect x="330.42" y="189.28" width="3.37" height="3.37" fill="#362b96"/>
<rect x="333.74" y="189.28" width="3.37" height="3.37" fill="#362b97"/>
<rect x="337.06" y="189.28" width="3.37" height="3.37" fill="#372c98"/>
<rect x="340.38" y="189.28" width="3.37" height="3.37" fill="#372c98"/>
<rect x="343.70" y="189.28" width="3.37" height="3.37" fill="#372c98"/>
<rect x="347.02" y="189.28" width="3.37" height="3.37" fill="#372d99"/>
<rect x="350.34" y="189.28" width="3.37" height="3.37" fill="#362a96"/>
<rect x="353.66" y="189.28" width="3.37" height="3.37" fill="#382e99"/>
<rect x="356.98" y="189.28" width="3.37" height="3.37" fill="#362b97"/>
<rect x="360.30" y="189.28" width="3.37" height="3.37" fill="#372c98"/>
<rect x="363.62" y="189.28" width="3.37" height="3.37" fill="#372d98"/>
<rect x="366.94" y="189.28" width="3.37" height="3.37" fill="#362c97"/>
<rect x="370.26" y="189.28" width="3.37" height="3.37" fill="#362b97"/>
<rect x="373.58" y="189.28" width="3.37" height="3.37" fill="#362c97"/>
<rect x="376.90" y="189.28" width="3.37" height="3.37" fill="#372d99"/>
<rect x="380.22" y="189.28" width="3.37" height="3.37" fill="#382e99"/>
<rect x="383.54" y="189.28" width="3.37" height="3.37" fill="#382e99"/>
<rect x="386.86" y="189.28" width="3.37" height="3.37" fill="#362c97"/>
<rect x="390.18" y="189.28" width="3.37" height="3.37" fill="#372c97"/>
<rect x="327.10" y="192.60" width="3.37" height="3.37" fill="#362c97"/>
<rect x="330.42" y="192.60" width="3.37" height="3.37" fill="#382d99"/>
<rect x="333.74" y="192.60" width="3.37" height="3.37" fill="#362a96"/>
<rect x="337.06" y="192.60" width="3.37" height="3.37" fill="#382f9b"/>
<rect x="340.38" y="192.60" width="3.37" height="3.37" fill="#372c98"/>
<rect x="343.70" y="192.60" width="3.37" height="3.37" fill="#372c98"/>
<rect x="347.02" y="192.60" width="3.37" height="3.37" fill="#382d99"/>
<rect x="350.34" y="192.60" width="3.37" height="3.37" fill="#382f9a"/>
<rect x="353.66" y="192.60" width="3.37" height="3.37" fill="#382e99"/>
<rect x="356.98" y="192.60" width="3.37" height="3.37" fill="#39309b"/>
<rect x="360.30" y="192.60" width="3.37" height="3.37" fill="#382e99"/>
<rect x="363.62" y="192.60" width="3.37" height="3.37" fill="#39329c"/>
<rect x="366.94" y="192.60" width="3.37" height="3.37" fill="#39329c"/>
<rect x="370.26" y="192.60" width="3.37" height="3.37" fill="#372d99"/>
<rect x="373.58" y="192.60" width="3.37" height="3.37" fill="#39329c"/>
<rect x="376.90" y="192.60" width="3.37" height="3.37" fill="#372d99"/>
<rect x="380.22" y="192.60" width="3.37" height="3.37" fill="#372d99"/>
<rect x="383.54" y="192.60" width="3.37" height="3.37" fill="#372c97"/>
<rect x="386.86" y="192.60" width="3.37" height="3.37" fill="#372c98"/>
<rect x="390.18" y="192.60" width="3.37" height="3.37" fill="#382e9a"/>
<rect x="327.10" y="195.92" width="3.37" height="3.37" fill="#362b97"/>
<rect x="330.42" y="195.92" width="3.37" height="3.37" fill="#382e9a"/>
<rect x="333.74" y="195.92" width="3.37" height="3.37" fill="#372d99"/>
<rect x="337.06" y="195.92" width="3.37" height="3.37" fill="#372d99"/>
<rect x="340.38" y="195.92" width="3.37" height="3.37" fill="#352a96"/>
<rect x="343.70" y="195.92" width="3.37" height="3.37" fill="#372d99"/>
<rect x="347.02" y="195.92" width="3.37" height="3.37" fill="#382e9a"/>
<rect x="350.34" y="195.92" width="3.37" height="3.37" fill="#372c98"/>
<rect x="353.66" y="195.92" width="3.37" height="3.37" fill="#382e99"/>
<rect x="356.98" y="195.92" width="3.37" height="3.37" fill="#362b96"/>
<rect x="360.30" y="195.92" width="3.37" height="3.37" fill="#39319c"/>
<rect x="363.62" y="195.92" width="3.37" height="3.37" fill="#382d99"/>
<rect x="366.94" y="195.92" width="3.37" height="3.37" fill="#39329c"/>
<rect x="370.26" y="195.92" width="3.37" height="3.37" fill="#362c97"/>
<rect x="373.58" y="195.92" width="3.37" height="3.37" fill="#38309b"/>
<rect x="376.90" y="195.92" width="3.37" height="3.37" fill="#372d99"/>
<rect x="380.22" y="195.92" width="3.37" height="3.37" fill="#382e9a"/>
<rect x="383.54" y="195.92" width="3.37" height="3.37" fill="#372c97"/>
<rect x="386.86" y="195.92" width="3.37" height="3.37" fill="#372c98"/>
<rect x="390.18" y="195.92" width="3.37" height="3.37" fill="#3a349d"/>
<rect x="327.10" y="199.24" width="3.37" height="3.37" fill="#372c97"/>
<rect x="330.42" y="199.24" width="3.37" height="3.37" fill="#372c98"/>
<rect x="333.74" y="199.24" width="3.37" height="3.37" fill="#372c98"/>
<rect x="337.06" y="199.24" width="3.37" height="3.37" fill="#362c97"/>
<rect x="340.38" y="199.24" width="3.37" height="3.37" fill="#382f9b"/>
<rect x="343.70" y="199.24" width="3.37" height="3.37" fill="#39329c"/>
<rect x="347.02" y="199.24" width="3.37" height="3.37" fill="#372c98"/>
<rect x="350.34" y="199.24" width="3.37" height="3.37" fill="#362b97"/>
<rect x="353.66" y="199.24" width="3.37" height="3.37" fill="#39349d"/>
<rect x="356.98" y="199.24" width="3.37" height="3.37" fill="#3a359e"/>
<rect x="360.30" y="199.24" width="3.37" height="3.37" fill="#3a369e"/>
<rect x="363.62" y="199.24" width="3.37" height="3.37" fill="#3b389f"/>
<rect x="366.94" y="199.24" width="3.37" height="3.37" fill="#382e9a"/>
<rect x="370.26" y="199.24" width="3.37" height="3.37" fill="#39309b"/>
<rect x="373.58" y="199.24" width="3.37" height="3.37" fill="#372d98"/>
<rect x="376.90" y="199.24" width="3.37" height="3.37" fill="#372c98"/>
<rect x="380.22" y="199.24" width="3.37" height="3.37" fill="#38309b"/>
<rect x="383.54" y="199.24" width="3.37" height="3.37" fill="#372c98"/>
<rect x="386.86" y="199.24" width="3.37" height="3.37" fill="#3a359d"/>
<rect x="390.18" y="199.24" width="3.37" height="3.37" fill="#372d99"/>
<rect x="327.10" y="202.56" width="3.37" height="3.37" fill="#372c98"/>
<rect x="330.42" y="202.56" width="3.37" height="3.37" fill="#382e9a"/>
<rect x="333.74" y="202.56" width="3.37" height="3.37" fill="#39329c"/>
<rect x="337.06" y="202.56" width="3.37" height="3.37" fill="#382d99"/>
<rect x="340.38" y="202.56" width="3.37" height="3.37" fill="#362b97"/>
<rect x="343.70" y="202.56" width="3.37" height="3.37" fill="#382e99"/>
<rect x="347.02" y="202.56" width="3.37" height="3.37" fill="#39329c"/>
<rect x="350.34" y="202.56" width="3.37" height="3.37" fill="#382d99"/>
<rect x="353.66" y="202.56" width="3.37" height="3.37" fill="#382e9a"/>
<rect x="356.98" y="202.56" width="3.37" height="3.37" fill="#3b39a0"/>
<rect x="360.30" y="202.56" width="3.37" height="3.37" fill="#3a389f"/>
<rect x="363.62" y="202.56" width="3.37" height="3.37" fill="#39339d"/>
<rect x="366.94" y="202.56" width="3.37" height="3.37" fill="#3a369e"/>
<rect x="370.26" y="202.56" width="3.37" height="3.37" fill="#39329c"/>
<rect x="373.58" y="202.56" width="3.37" height="3.37" fill="#39349d"/>
<rect x="376.90" y="202.56" width="3.37" height="3.37" fill="#38309b"/>
<rect x="380.22" y="202.56" width="3.37" height="3.37" fill="#39329c"/>
<rect x="383.54" y="202.56" width="3.37" height="3.37" fill="#382e9a"/>
<rect x="386.86" y="202.56" width="3.37" height="3.37" fill="#362b97"/>
<rect x="390.18" y="202.56" width="3.37" height="3.37" fill="#382d99"/>
<rect x="327.10" y="205.88" width="3.37" height="3.37" fill="#382e9a"/>
<rect x="330.42" y="205.88" width="3.37" height="3.37" fill="#382d99"/>
<rect x="333.74" y="205.88" width="3.37" height="3.37" fill="#382e9a"/>
<rect x="337.06" y="205.88" width="3.37" height="3.37" fill="#372c98"/>
<rect x="340.38" y="205.88" width="3.37" height="3.37" fill="#372c97"/>
<rect x="343.70" y="205.88" width="3.37" height="3.37" fill="#382f9b"/>
<rect x="347.02" y="205.88" width="3.37" height="3.37" fill="#372c98"/>
<rect x="350.34" y="205.88" width="3.37" height="3.37" fill="#372c97"/>
<rect x="353.66" y="205.88" width="3.37" height="3.37" fill="#3b399f"/>
<rect x="356.98" y="205.88" width="3.37" height="3.37" fill="#3a359e"/>
<rect x="360.30" y="205.88" width="3.37" height="3.37" fill="#3b3ba1"/>
<rect x="363.62" y="205.88" width="3.37" height="3.37" fill="#3b389f"/>
<rect x="366.94" y="205.88" width="3.37" height="3.37" fill="#3a389f"/>
<rect x="370.26" y="205.88" width="3.37" height="3.37" fill="#3a359e"/>
<rect x="373.58" y="205.88" width="3.37" height="3.37" fill="#3a349d"/>
<rect x="376.90" y="205.88" width="3.37" height="3.37" fill="#39339d"/>
<rect x="380.22" y="205.88" width="3.37" height="3.37" fill="#362b97"/>
<rect x="383.54" y="205.88" width="3.37" height="3.37" fill="#382f9b"/>
<rect x="386.86" y="205.88" width="3.37" height="3.37" fill="#362c97"/>
<rect x="390.18" y="205.88" width="3.37" height="3.37" fill="#362c97"/>
<rect x="327.10" y="209.20" width="3.37" height="3.37" fill="#382e9a"/>
<rect x="330.42" y="209.20" width="3.37" height="3.37" fill="#372d99"/>
<rect x="333.74" y="209.20" width="3.37" height="3.37" fill="#362b96"/>
<rect x="337.06" y="209.20" width="3.37" height="3.37" fill="#39329c"/>
<rect x="340.38" y="209.20" width="3.37" height="3.37" fill="#372c98"/>
<rect x="343.70" y="209.20" width="3.37" height="3.37" fill="#382e9a"/>
<rect x="347.02" y="209.20" width="3.37" height="3.37" fill="#382e9a"/>
<rect x="350.34" y="209.20" width="3.37" height="3.37" fill="#3a389f"/>
<rect x="353.66" y="209.20" width="3.37" height="3.37" fill="#3a349d"/>
<rect x="356.98" y="209.20" width="3.37" height="3.37" fill="#3d41a3"/>
<rect x="360.30" y="209.20" width="3.37" height="3.37" fill="#3c3da2"/>
<rect x="363.62" y="209.20" width="3.37" height="3.37" fill="#3e4aa8"/>
<rect x="366.94" y="209.20" width="3.37" height="3.37" fill="#3c3fa2"/>
<rect x="370.26" y="209.20" width="3.37" height="3.37" fill="#3c3da1"/>
<rect x="373.58" y="209.20" width="3.37" height="3.37" fill="#3d42a4"/>
<rect x="376.90" y="209.20" width="3.37" height="3.37" fill="#3a359d"/>
<rect x="380.22" y="209.20" width="3.37" height="3.37" fill="#382f9b"/>
<rect x="383.54" y="209.20" width="3.37" height="3.37" fill="#3a379e"/>
<rect x="386.86" y="209.20" width="3.37" height="3.37" fill="#382e99"/>
<rect x="390.18" y="209.20" width="3.37" height="3.37" fill="#372c98"/>
<rect x="327.10" y="212.52" width="3.37" height="3.37" fill="#382e9a"/>
<rect x="330.42" y="212.52" width="3.37" height="3.37" fill="#362b97"/>
<rect x="333.74" y="212.52" width="3.37" height="3.37" fill="#382f9a"/>
<rect x="337.06" y="212.52" width="3.37" height="3.37" fill="#382f9b"/>
<rect x="340.38" y="212.52" width="3.37" height="3.37" fill="#372c98"/>
<rect x="343.70" y="212.52" width="3.37" height="3.37" fill="#372d98"/>
<rect x="347.02" y="212.52" width="3.37" height="3.37" fill="#382e9a"/>
<rect x="350.34" y="212.52" width="3.37" height="3.37" fill="#39329c"/>
<rect x="353.66" y="212.52" width="3.37" height="3.37" fill="#39329c"/>
<rect x="356.98" y="212.52" width="3.37" height="3.37" fill="#3c40a3"/>
<rect x="360.30" y="212.52" width="3.37" height="3.37" fill="#3b399f"/>
<rect x="363.62" y="212.52" width="3.37" height="3.37" fill="#3d43a5"/>
<rect x="366.94" y="212.52" width="3.37" height="3.37" fill="#3d42a4"/>
<rect x="370.26" y="212.52" width="3.37" height="3.37" fill="#3c3ea2"/>
<rect x="373.58" y="212.52" width="3.37" height="3.37" fill="#3b3ba1"/>
<rect x="376.90" y="212.52" width="3.37" height="3.37" fill="#382e9a"/>
<rect x="380.22" y="212.52" width="3.37" height="3.37" fill="#39329c"/>
<rect x="383.54" y="212.52" width="3.37" height="3.37" fill="#382d99"/>
<rect x="386.86" y="212.52" width="3.37" height="3.37" fill="#372c98"/>
<rect x="390.18" y="212.52" width="3.37" height="3.37" fill="#362b97"/>
<rect x="327.10" y="215.84" width="3.37" height="3.37" fill="#362b97"/>
<rect x="330.42" y="215.84" width="3.37" height="3.37" fill="#372d99"/>
<rect x="333.74" y="215.84" width="3.37" height="3.37" fill="#362c97"/>
<rect x="337.06" y="215.84" width="3.37" height="3.37" fill="#372d99"/>
<rect x="340.38" y="215.84" width="3.37" height="3.37" fill="#382f9b"/>
<rect x="343.70" y="215.84" width="3.37" height="3.37" fill="#39309b"/>
<rect x="347.02" y="215.84" width="3.37" height="3.37" fill="#3a359d"/>
<rect x="350.34" y="215.84" width="3.37" height="3.37" fill="#38309b"/>
<rect x="353.66" y="215.84" width="3.37" height="3.37" fill="#39319b"/>
<rect x="356.98" y="215.84" width="3.37" height="3.37" fill="#3d41a3"/>
<rect x="360.30" y="215.84" width="3.37" height="3.37" fill="#3d42a4"/>
<rect x="363.62" y="215.84" width="3.37" height="3.37" fill="#3e49a8"/>
<rect x="366.94" y="215.84" width="3.37" height="3.37" fill="#3d42a4"/>
<rect x="370.26" y="215.84" width="3.37" height="3.37" fill="#3d44a5"/>
<rect x="373.58" y="215.84" width="3.37" height="3.37" fill="#3c3da1"/>
<rect x="376.90" y="215.84" width="3.37" height="3.37" fill="#3a369e"/>
<rect x="380.22" y="215.84" width="3.37" height="3.37" fill="#39319c"/>
<rect x="383.54" y="215.84" width="3.37" height="3.37" fill="#382e9a"/>
<rect x="386.86" y="215.84" width="3.37" height="3.37" fill="#382d99"/>
<rect x="390.18" y="215.84" width="3.37" height="3.37" fill="#372d99"/>
<rect x="327.10" y="219.16" width="3.37" height="3.37" fill="#382e9a"/>
<rect x="330.42" y="219.16" width="3.37" height="3.37" fill="#372c98"/>
<rect x="333.74" y="219.16" width="3.37" height="3.37" fill="#39329c"/>
<rect x="337.06" y="219.16" width="3.37" height="3.37" fill="#372d99"/>
<rect x="340.38" y="219.16" width="3.37" height="3.37" fill="#382f9a"/>
<rect x="343.70" y="219.16" width="3.37" height="3.37" fill="#372d99"/>
<rect x="347.02" y="219.16" width="3.37" height="3.37" fill="#382d99"/>
<rect x="350.34" y="219.16" width="3.37" height="3.37" fill="#3b39a0"/>
<rect x="353.66" y="219.16" width="3.37" height="3.37" fill="#39329c"/>
<rect x="356.98" y="219.16" width="3.37" height="3.37" fill="#39329c"/>
<rect x="360.30" y="219.16" width="3.37" height="3.37" fill="#3b399f"/>
<rect x="363.62" y="219.16" width="3.37" height="3.37" fill="#3c3da1"/>
<rect x="366.94" y="219.16" width="3.37" height="3.37" fill="#3e48a7"/>
<rect x="370.26" y="219.16" width="3.37" height="3.37" fill="#3b3ba1"/>
<rect x="373.58" y="219.16" width="3.37" height="3.37" fill="#3b3aa0"/>
<rect x="376.90" y="219.16" width="3.37" height="3.37" fill="#382e9a"/>
<rect x="380.22" y="219.16" width="3.37" height="3.37" fill="#382f9b"/>
<rect x="383.54" y="219.16" width="3.37" height="3.37" fill="#382f9a"/>
<rect x="386.86" y="219.16" width="3.37" height="3.37" fill="#39339c"/>
<rect x="390.18" y="219.16" width="3.37" height="3.37" fill="#372c98"/>
<rect x="327.10" y="222.48" width="3.37" height="3.37" fill="#382e99"/>
<rect x="330.42" y="222.48" width="3.37" height="3.37" fill="#372d99"/>
<rect x="333.74" y="222.48" width="3.37" height="3.37" fill="#362c97"/>
<rect x="337.06" y="222.48" width="3.37" height="3.37" fill="#372d99"/>
<rect x="340.38" y="222.48" width="3.37" height="3.37" fill="#372d98"/>
<rect x="343.70" y="222.48" width="3.37" height="3.37" fill="#362a96"/>
<rect x="347.02" y="222.48" width="3.37" height="3.37" fill="#382e9a"/>
<rect x="350.34" y="222.48" width="3.37" height="3.37" fill="#39309b"/>
<rect x="353.66" y="222.48" width="3.37" height="3.37" fill="#382e9a"/>
<rect x="356.98" y="222.48" width="3.37" height="3.37" fill="#382e9a"/>
<rect x="360.30" y="222.48" width="3.37" height="3.37" fill="#3c3ea2"/>
<rect x="363.62" y="222.48" width="3.37" height="3.37" fill="#3b39a0"/>
<rect x="366.94" y="222.48" width="3.37" height="3.37" fill="#3c3ca1"/>
<rect x="370.26" y="222.48" width="3.37" height="3.37" fill="#3b3ca1"/>
<rect x="373.58" y="222.48" width="3.37" height="3.37" fill="#382f9b"/>
<rect x="376.90" y="222.48" width="3.37" height="3.37" fill="#39339c"/>
<rect x="380.22" y="222.48" width="3.37" height="3.37" fill="#382d99"/>
<rect x="383.54" y="222.48" width="3.37" height="3.37" fill="#372d99"/>
<rect x="386.86" y="222.48" width="3.37" height="3.37" fill="#372d99"/>
<rect x="390.18" y="222.48" width="3.37" height="3.37" fill="#372d99"/>
<rect x="327.10" y="225.80" width="3.37" height="3.37" fill="#382f9a"/>
<rect x="330.42" y="225.80" width="3.37" height="3.37" fill="#372d99"/>
<rect x="333.74" y="225.80" width="3.37" height="3.37" fill="#372d98"/>
<rect x="337.06" y="225.80" width="3.37" height="3.37" fill="#372c98"/>
<rect x="340.38" y="225.80" width="3.37" height="3.37" fill="#382d99"/>
<rect x="343.70" y="225.80" width="3.37" height="3.37" fill="#372c98"/>
<rect x="347.02" y="225.80" width="3.37" height="3.37" fill="#372d98"/>
<rect x="350.34" y="225.80" width="3.37" height="3.37" fill="#382d99"/>
<rect x="353.66" y="225.80" width="3.37" height="3.37" fill="#382d99"/>
<rect x="356.98" y="225.80" width="3.37" height="3.37" fill="#382f9b"/>
<rect x="360.30" y="225.80" width="3.37" height="3.37" fill="#382f9a"/>
<rect x="363.62" y="225.80" width="3.37" height="3.37" fill="#3b3ca1"/>
<rect x="366.94" y="225.80" width="3.37" height="3.37" fill="#3b389f"/>
<rect x="370.26" y="225.80" width="3.37" height="3.37" fill="#39339c"/>
<rect x="373.58" y="225.80" width="3.37" height="3.37" fill="#382e9a"/>
<rect x="376.90" y="225.80" width="3.37" height="3.37" fill="#3a379f"/>
<rect x="380.22" y="225.80" width="3.37" height="3.37" fill="#382e9a"/>
<rect x="383.54" y="225.80" width="3.37" height="3.37" fill="#372d99"/>
<rect x="386.86" y="225.80" width="3.37" height="3.37" fill="#382d99"/>
<rect x="390.18" y="225.80" width="3.37" height="3.37" fill="#372d99"/>
<rect x="327.10" y="229.12" width="3.37" height="3.37" fill="#38309b"/>
<rect x="330.42" y="229.12" width="3.37" height="3.37" fill="#372d99"/>
<rect x="333.74" y="229.12" width="3.37" height="3.37" fill="#39339d"/>
<rect x="337.06" y="229.12" width="3.37" height="3.37" fill="#372c97"/>
<rect x="340.38" y="229.12" width="3.37" height="3.37" fill="#382e9a"/>
<rect x="343.70" y="229.12" width="3.37" height="3.37" fill="#362c97"/>
<rect x="347.02" y="229.12" width="3.37" height="3.37" fill="#39339c"/>
<rect x="350.34" y="229.12" width="3.37" height="3.37" fill="#372d99"/>
<rect x="353.66" y="229.12" width="3.37" height="3.37" fill="#382d99"/>
<rect x="356.98" y="229.12" width="3.37" height="3.37" fill="#39319c"/>
<rect x="360.30" y="229.12" width="3.37" height="3.37" fill="#39349d"/>
<rect x="363.62" y="229.12" width="3.37" height="3.37" fill="#372d98"/>
<rect x="366.94" y="229.12" width="3.37" height="3.37" fill="#382e99"/>
<rect x="370.26" y="229.12" width="3.37" height="3.37" fill="#372c98"/>
<rect x="373.58" y="229.12" width="3.37" height="3.37" fill="#382e9a"/>
<rect x="376.90" y="229.12" width="3.37" height="3.37" fill="#372d99"/>
<rect x="380.22" y="229.12" width="3.37" height="3.37" fill="#372d98"/>
<rect x="383.54" y="229.12" width="3.37" height="3.37" fill="#372c98"/>
<rect x="386.86" y="229.12" width="3.37" height="3.37" fill="#372c98"/>
<rect x="390.18" y="229.12" width="3.37" height="3.37" fill="#372c98"/>
<rect x="327.10" y="232.44" width="3.37" height="3.37" fill="#382d99"/>
<rect x="330.42" y="232.44" width="3.37" height="3.37" fill="#39309b"/>
<rect x="333.74" y="232.44" width="3.37" height="3.37" fill="#362a96"/>
<rect x="337.06" y="232.44" width="3.37" height="3.37" fill="#372d98"/>
<rect x="340.38" y="232.44" width="3.37" height="3.37" fill="#372c98"/>
<rect x="343.70" y="232.44" width="3.37" height="3.37" fill="#382d99"/>
<rect x="347.02" y="232.44" width="3.37" height="3.37" fill="#362c97"/>
<rect x="350.34" y="232.44" width="3.37" height="3.37" fill="#372d99"/>
<rect x="353.66" y="232.44" width="3.37" height="3.37" fill="#372c97"/>
<rect x="356.98" y="232.44" width="3.37" height="3.37" fill="#382e9a"/>
<rect x="360.30" y="232.44" width="3.37" height="3.37" fill="#382d99"/>
<rect x="363.62" y="232.44" width="3.37" height="3.37" fill="#372d99"/>
<rect x="366.94" y="232.44" width="3.37" height="3.37" fill="#382e9a"/>
<rect x="370.26" y="232.44" width="3.37" height="3.37" fill="#372d99"/>
<rect x="373.58" y="232.44" width="3.37" height="3.37" fill="#362b97"/>
<rect x="376.90" y="232.44" width="3.37" height="3.37" fill="#382e9a"/>
<rect x="380.22" y="232.44" width="3.37" height="3.37" fill="#382d99"/>
<rect x="383.54" y="232.44" width="3.37" height="3.37" fill="#372d98"/>
<rect x="386.86" y="232.44" width="3.37" height="3.37" fill="#382e9a"/>
<rect x="390.18" y="232.44" width="3.37" height="3.37" fill="#382f9b"/>
<rect x="327.10" y="235.76" width="3.37" height="3.37" fill="#362b97"/>
<rect x="330.42" y="235.76" width="3.37" height="3.37" fill="#372c98"/>
<rect x="333.74" y="235.76" width="3.37" height="3.37" fill="#39319b"/>
<rect x="337.06" y="235.76" width="3.37" height="3.37" fill="#39309b"/>
<rect x="340.38" y="235.76" width="3.37" height="3.37" fill="#372c98"/>
<rect x="343.70" y="235.76" width="3.37" height="3.37" fill="#362b97"/>
<rect x="347.02" y="235.76" width="3.37" height="3.37" fill="#372c98"/>
<rect x="350.34" y="235.76" width="3.37" height="3.37" fill="#372c98"/>
<rect x="353.66" y="235.76" width="3.37" height="3.37" fill="#362b97"/>
<rect x="356.98" y="235.76" width="3.37" height="3.37" fill="#372d99"/>
<rect x="360.30" y="235.76" width="3.37" height="3.37" fill="#362b97"/>
<rect x="363.62" y="235.76" width="3.37" height="3.37" fill="#362c97"/>
<rect x="366.94" y="235.76" width="3.37" height="3.37" fill="#382f9a"/>
<rect x="370.26" y="235.76" width="3.37" height="3.37" fill="#372c98"/>
<rect x="373.58" y="235.76" width="3.37" height="3.37" fill="#372d99"/>
<rect x="376.90" y="235.76" width="3.37" height="3.37" fill="#382e9a"/>
<rect x="380.22" y="235.76" width="3.37" height="3.37" fill="#382e9a"/>
<rect x="383.54" y="235.76" width="3.37" height="3.37" fill="#372c98"/>
<rect x="386.86" y="235.76" width="3.37" height="3.37" fill="#372d99"/>
<rect x="390.18" y="235.76" width="3.37" height="3.37" fill="#372c97"/>
<rect x="327.10" y="239.08" width="3.37" height="3.37" fill="#39329c"/>
<rect x="330.42" y="239.08" width="3.37" height="3.37" fill="#382e9a"/>
<rect x="333.74" y="239.08" width="3.37" height="3.37" fill="#362b97"/>
<rect x="337.06" y="239.08" width="3.37" height="3.37" fill="#372d99"/>
<rect x="340.38" y="239.08" width="3.37" height="3.37" fill="#382e9a"/>
<rect x="343.70" y="239.08" width="3.37" height="3.37" fill="#382d99"/>
<rect x="347.02" y="239.08" width="3.37" height="3.37" fill="#39329c"/>
<rect x="350.34" y="239.08" width="3.37" height="3.37" fill="#38309b"/>
<rect x="353.66" y="239.08" width="3.37" height="3.37" fill="#372c98"/>
<rect x="356.98" y="239.08" width="3.37" height="3.37" fill="#372d99"/>
<rect x="360.30" y="239.08" width="3.37" height="3.37" fill="#362b97"/>
<rect x="363.62" y="239.08" width="3.37" height="3.37" fill="#372d99"/>
<rect x="366.94" y="239.08" width="3.37" height="3.37" fill="#372d99"/>
<rect x="370.26" y="239.08" width="3.37" height="3.37" fill="#3a369e"/>
<rect x="373.58" y="239.08" width="3.37" height="3.37" fill="#372d99"/>
<rect x="376.90" y="239.08" width="3.37" height="3.37" fill="#362a96"/>
<rect x="380.22" y="239.08" width="3.37" height="3.37" fill="#372c98"/>
<rect x="383.54" y="239.08" width="3.37" height="3.37" fill="#372d99"/>
<rect x="386.86" y="239.08" width="3.37" height="3.37" fill="#362b97"/>
<rect x="390.18" y="239.08" width="3.37" height="3.37" fill="#372c97"/>
<rect x="361.7" y="205" width="3.3" height="3.3" fill="#90c0f0"/>
<rect x="364.2" y="209.7" width="3.3" height="3.3" fill="#90d0c0"/>
<rect x="361.7" y="213" width="3.3" height="3.3" fill="#ece038"/>
<rect x="367.3" y="213" width="3.3" height="3.3" fill="#b0c8f0"/>
<rect x="364.2" y="216" width="3.3" height="3.3" fill="#90d8f0"/>
<circle cx="366.1" cy="214.6" r="1.5" fill="#3a0a02"/>
</g></g>
<text x="330.3" y="188.2" fill="#fff" style="font-family:'Liberation Serif',serif;font-size:12.9px">36 mW</text>
<rect x="34.8" y="227.4" width="29" height="3" fill="#fff"/>
<text x="37.8" y="239.2" fill="#fff" style="font-family:'Liberation Serif',serif;font-size:10.6px">10 μm</text>
<rect x="40.6" y="265.4" width="351.09999999999997" height="94.5" fill="none" stroke="#000" stroke-width="1.6"/>
<line x1="40.6" y1="336.275" x2="44.1" y2="336.275" stroke="#000" stroke-width="1.4"/>
<line x1="391.7" y1="336.275" x2="388.2" y2="336.275" stroke="#000" stroke-width="1.4"/>
<line x1="40.6" y1="312.65" x2="44.1" y2="312.65" stroke="#000" stroke-width="1.4"/>
<line x1="391.7" y1="312.65" x2="388.2" y2="312.65" stroke="#000" stroke-width="1.4"/>
<line x1="40.6" y1="289.025" x2="44.1" y2="289.025" stroke="#000" stroke-width="1.4"/>
<line x1="391.7" y1="289.025" x2="388.2" y2="289.025" stroke="#000" stroke-width="1.4"/>
<line x1="90.75714285714285" y1="265.4" x2="90.75714285714285" y2="268.9" stroke="#000" stroke-width="1.4"/>
<line x1="90.75714285714285" y1="359.9" x2="90.75714285714285" y2="356.4" stroke="#000" stroke-width="1.4"/>
<line x1="140.9142857142857" y1="265.4" x2="140.9142857142857" y2="268.9" stroke="#000" stroke-width="1.4"/>
<line x1="140.9142857142857" y1="359.9" x2="140.9142857142857" y2="356.4" stroke="#000" stroke-width="1.4"/>
<line x1="191.07142857142856" y1="265.4" x2="191.07142857142856" y2="268.9" stroke="#000" stroke-width="1.4"/>
<line x1="191.07142857142856" y1="359.9" x2="191.07142857142856" y2="356.4" stroke="#000" stroke-width="1.4"/>
<line x1="241.2285714285714" y1="265.4" x2="241.2285714285714" y2="268.9" stroke="#000" stroke-width="1.4"/>
<line x1="241.2285714285714" y1="359.9" x2="241.2285714285714" y2="356.4" stroke="#000" stroke-width="1.4"/>
<line x1="291.3857142857143" y1="265.4" x2="291.3857142857143" y2="268.9" stroke="#000" stroke-width="1.4"/>
<line x1="291.3857142857143" y1="359.9" x2="291.3857142857143" y2="356.4" stroke="#000" stroke-width="1.4"/>
<line x1="341.54285714285714" y1="265.4" x2="341.54285714285714" y2="268.9" stroke="#000" stroke-width="1.4"/>
<line x1="341.54285714285714" y1="359.9" x2="341.54285714285714" y2="356.4" stroke="#000" stroke-width="1.4"/>
<text transform="translate(36.50,365.50) scale(0.96,1.06)" text-anchor="end" style="font-family:'Liberation Serif',serif;font-size:12.8px">0</text>
<text transform="translate(36.50,341.88) scale(0.96,1.06)" text-anchor="end" style="font-family:'Liberation Serif',serif;font-size:12.8px">5</text>
<text transform="translate(36.50,318.25) scale(0.96,1.06)" text-anchor="end" style="font-family:'Liberation Serif',serif;font-size:12.8px">10</text>
<text transform="translate(36.50,294.62) scale(0.96,1.06)" text-anchor="end" style="font-family:'Liberation Serif',serif;font-size:12.8px">15</text>
<text transform="translate(36.50,271.00) scale(0.96,1.06)" text-anchor="end" style="font-family:'Liberation Serif',serif;font-size:12.8px">20</text>
<text transform="translate(40.60,374.50) scale(0.96,1.06)" text-anchor="middle" style="font-family:'Liberation Serif',serif;font-size:12.8px">5</text>
<text transform="translate(90.76,374.50) scale(0.96,1.06)" text-anchor="middle" style="font-family:'Liberation Serif',serif;font-size:12.8px">10</text>
<text transform="translate(140.91,374.50) scale(0.96,1.06)" text-anchor="middle" style="font-family:'Liberation Serif',serif;font-size:12.8px">15</text>
<text transform="translate(191.07,374.50) scale(0.96,1.06)" text-anchor="middle" style="font-family:'Liberation Serif',serif;font-size:12.8px">20</text>
<text transform="translate(241.23,374.50) scale(0.96,1.06)" text-anchor="middle" style="font-family:'Liberation Serif',serif;font-size:12.8px">25</text>
<text transform="translate(291.39,374.50) scale(0.96,1.06)" text-anchor="middle" style="font-family:'Liberation Serif',serif;font-size:12.8px">30</text>
<text transform="translate(341.54,374.50) scale(0.96,1.06)" text-anchor="middle" style="font-family:'Liberation Serif',serif;font-size:12.8px">35</text>
<text transform="translate(391.70,374.50) scale(0.96,1.06)" text-anchor="middle" style="font-family:'Liberation Serif',serif;font-size:12.8px">40</text>
<text x="187" y="392.6" style="font-family:'Liberation Serif',serif;font-size:12.5px">Intesity (mW)</text>
<text transform="translate(14.8,324.6) rotate(-90)" style="font-family:'Liberation Serif',serif;font-size:13px">ξ( μm)</text>
<clipPath id="clipC"><rect x="40.6" y="265.4" width="351.09999999999997" height="94.5"/></clipPath>
<g clip-path="url(#clipC)">
<line x1="40.6" y1="304.3" x2="391.7" y2="361.21" stroke="#d01c40" stroke-width="2" stroke-dasharray="4 3.25" stroke-dashoffset="-0.9"/>
<rect x="51.2" y="296.3" width="15.8" height="15.8" fill="#393f9e"/>
<rect x="123.2" y="316.3" width="15.8" height="15.8" fill="#393f9e"/>
<rect x="183.2" y="324.6" width="15.8" height="15.8" fill="#393f9e"/>
<rect x="263.5" y="332.0" width="15.8" height="15.8" fill="#393f9e"/>
<rect x="341.1" y="343.5" width="15.8" height="15.8" fill="#393f9e"/>
<line x1="40.6" y1="304.3" x2="391.7" y2="361.21" stroke="#d01c40" stroke-width="2" stroke-dasharray="4 3.25" stroke-dashoffset="-0.9" opacity="0.55"/>
</g>
<rect x="40.6" y="265.4" width="351.09999999999997" height="94.5" fill="none" stroke="#000" stroke-width="1.6"/>
</svg>
</body></html>
